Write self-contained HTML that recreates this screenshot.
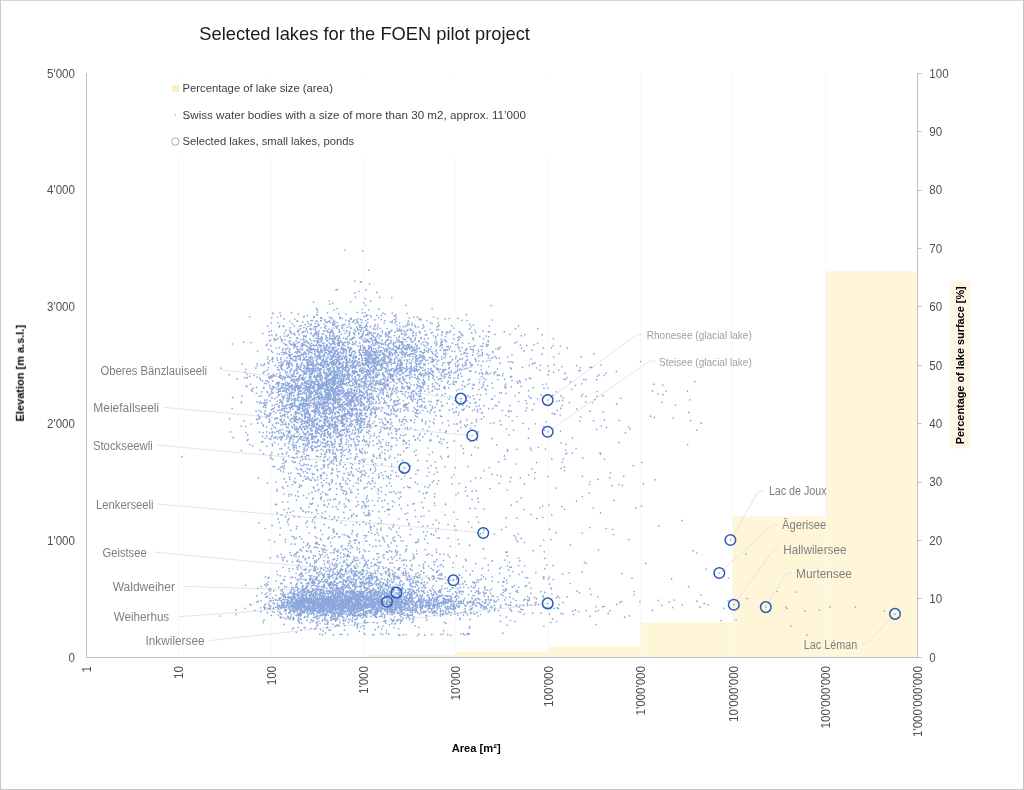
<!DOCTYPE html><html><head><meta charset="utf-8"><title>Selected lakes for the FOEN pilot project</title>
<style>html,body{margin:0;padding:0;background:#fff}body{width:1024px;height:790px;overflow:hidden}svg{display:block}text{font-family:"Liberation Sans",sans-serif}</style></head><body>
<svg width="1024" height="790" viewBox="0 0 1024 790">
<rect x="0" y="0" width="1024" height="790" fill="#fff"/>
<g opacity="0.9999">
<rect x="363.48" y="655.06" width="92.36" height="2.34" fill="#FFF5D9"/>
<rect x="455.84" y="651.56" width="92.36" height="5.84" fill="#FFF5D9"/>
<rect x="548.20" y="646.59" width="92.36" height="10.81" fill="#FFF5D9"/>
<rect x="640.56" y="622.35" width="92.36" height="35.05" fill="#FFF5D9"/>
<rect x="732.92" y="516.32" width="92.36" height="141.08" fill="#FFF5D9"/>
<rect x="825.28" y="271.24" width="92.36" height="386.16" fill="#FFF5D9"/>
<line x1="178.5" y1="73.2" x2="178.5" y2="657.4" stroke="#F8F8F8" stroke-width="1"/>
<line x1="271.5" y1="73.2" x2="271.5" y2="657.4" stroke="#F8F8F8" stroke-width="1"/>
<line x1="363.5" y1="73.2" x2="363.5" y2="657.4" stroke="#F8F8F8" stroke-width="1"/>
<line x1="455.5" y1="73.2" x2="455.5" y2="657.4" stroke="#F8F8F8" stroke-width="1"/>
<line x1="548.5" y1="73.2" x2="548.5" y2="657.4" stroke="#F8F8F8" stroke-width="1"/>
<line x1="640.5" y1="73.2" x2="640.5" y2="657.4" stroke="#F8F8F8" stroke-width="1"/>
<line x1="732.5" y1="73.2" x2="732.5" y2="657.4" stroke="#F8F8F8" stroke-width="1"/>
<line x1="825.5" y1="73.2" x2="825.5" y2="657.4" stroke="#F8F8F8" stroke-width="1"/>
<rect x="165" y="78.3" width="435" height="76.7" fill="#fff"/>
<polyline points="221.7,369.8 460.8,398.6" fill="none" stroke="#E4E4E4" stroke-width="1"/>
<polyline points="162.9,407.3 472.3,435.5" fill="none" stroke="#E4E4E4" stroke-width="1"/>
<polyline points="157.0,445.0 404.4,467.9" fill="none" stroke="#E4E4E4" stroke-width="1"/>
<polyline points="157.5,504.0 483.3,533.0" fill="none" stroke="#E4E4E4" stroke-width="1"/>
<polyline points="154.5,552.2 453.4,580.3" fill="none" stroke="#E4E4E4" stroke-width="1"/>
<polyline points="182.7,586.4 396.4,592.6" fill="none" stroke="#E4E4E4" stroke-width="1"/>
<polyline points="178.8,616.7 387.0,601.8" fill="none" stroke="#E4E4E4" stroke-width="1"/>
<polyline points="208.5,640.7 547.7,603.4" fill="none" stroke="#E4E4E4" stroke-width="1"/>
<polyline points="642.2,334.6 636.6,334.6 547.7,400.1" fill="none" stroke="#E4E4E4" stroke-width="1"/>
<polyline points="654.6,361.1 649.4,361.1 547.7,431.8" fill="none" stroke="#E4E4E4" stroke-width="1"/>
<polyline points="764.0,491.0 758.6,491.0 730.4,540.0" fill="none" stroke="#E4E4E4" stroke-width="1"/>
<polyline points="777.8,524.6 773.0,524.6 719.3,573.0" fill="none" stroke="#E4E4E4" stroke-width="1"/>
<polyline points="779.0,548.9 774.2,548.9 733.8,604.7" fill="none" stroke="#E4E4E4" stroke-width="1"/>
<polyline points="791.8,573.4 786.2,573.4 765.8,607.1" fill="none" stroke="#E4E4E4" stroke-width="1"/>
<polyline points="862.0,643.4 867.3,643.4 895.0,613.9" fill="none" stroke="#E4E4E4" stroke-width="1"/>
<path d="M323.2 427.9h0M368.2 340.9h0M363.6 397.7h0M304.6 399.4h0M311.9 450.3h0M304.1 391.1h0M341.4 352.9h0M320.1 388.0h0M347.4 373.3h0M375.3 417.2h0M318.7 404.3h0M345.1 397.8h0M317.4 424.4h0M309.1 371.0h0M337.7 353.9h0M315.1 438.0h0M316.8 410.8h0M345.3 416.2h0M292.4 392.2h0M270.5 457.0h0M335.4 351.2h0M299.2 438.6h0M294.3 372.4h0M306.1 341.7h0M281.4 394.0h0M323.2 407.6h0M352.5 366.9h0M314.1 334.6h0M296.7 413.0h0M335.1 441.7h0M346.4 419.7h0M311.8 388.0h0M340.5 406.4h0M357.5 322.2h0M315.0 376.8h0M294.3 436.6h0M333.8 408.5h0M330.4 355.9h0M359.4 424.3h0M278.3 384.8h0M299.5 419.3h0M293.5 333.8h0M326.3 403.1h0M339.9 402.2h0M296.9 412.2h0M369.1 389.6h0M349.9 382.1h0M343.3 408.9h0M335.7 424.6h0M354.5 329.5h0M342.9 381.9h0M342.5 396.4h0M333.8 337.0h0M313.5 411.4h0M348.6 320.9h0M307.1 360.0h0M321.4 369.3h0M333.7 379.3h0M292.2 365.7h0M342.4 369.6h0M318.4 376.5h0M338.7 379.3h0M304.3 316.5h0M358.9 334.2h0M342.6 372.7h0M315.9 411.2h0M343.5 430.1h0M364.8 503.9h0M382.9 394.4h0M352.0 397.2h0M337.8 417.3h0M318.8 395.7h0M287.8 347.9h0M364.7 386.1h0M279.1 388.5h0M341.3 334.1h0M366.3 342.1h0M277.5 396.9h0M330.3 379.8h0M373.5 445.4h0M390.8 414.5h0M302.5 440.3h0M345.9 367.9h0M375.7 469.4h0M336.3 456.1h0M296.6 387.1h0M332.1 421.0h0M321.4 397.6h0M315.1 354.4h0M297.0 432.6h0M335.2 407.2h0M332.5 424.2h0M318.8 432.9h0M314.5 446.6h0M278.3 431.6h0M305.5 387.0h0M363.0 394.0h0M315.5 407.0h0M367.4 381.3h0M340.0 464.6h0M393.7 410.1h0M324.1 466.0h0M306.3 360.2h0M272.8 389.1h0M367.0 373.5h0M409.4 375.3h0M294.1 379.3h0M300.0 385.9h0M342.3 373.6h0M293.8 462.3h0M312.8 417.6h0M310.1 361.3h0M328.5 369.2h0M359.2 420.4h0M322.8 412.5h0M353.2 366.7h0M307.7 427.5h0M333.1 334.2h0M272.7 459.3h0M301.9 382.9h0M341.7 430.1h0M340.4 385.2h0M367.0 360.0h0M349.6 355.7h0M318.2 338.4h0M298.3 393.6h0M297.1 368.4h0M305.4 390.4h0M283.6 385.0h0M303.4 402.2h0M318.9 325.2h0M330.6 378.7h0M310.5 377.5h0M319.5 355.8h0M329.7 304.1h0M358.9 415.9h0M341.6 423.2h0M300.1 484.8h0M297.4 419.8h0M390.4 456.0h0M347.7 414.5h0M384.3 375.9h0M394.4 410.6h0M294.2 344.7h0M335.1 400.6h0M337.6 386.6h0M341.0 349.2h0M340.4 439.4h0M328.9 435.3h0M327.9 409.3h0M316.4 456.2h0M296.6 385.7h0M326.3 337.5h0M306.1 353.3h0M343.0 418.7h0M349.8 400.2h0M332.5 332.2h0M332.7 443.4h0M325.2 399.6h0M306.8 455.1h0M316.4 435.9h0M305.1 374.0h0M335.2 395.0h0M322.5 362.1h0M341.8 358.0h0M352.2 411.2h0M296.1 445.6h0M297.0 356.0h0M315.3 419.2h0M302.8 393.0h0M331.9 382.8h0M302.5 436.3h0M285.6 377.5h0M293.2 446.3h0M366.6 378.5h0M323.5 355.2h0M282.3 422.3h0M322.3 334.0h0M382.8 384.6h0M338.3 381.3h0M332.2 412.4h0M355.9 413.5h0M337.9 352.0h0M330.9 402.7h0M354.3 400.4h0M327.5 432.6h0M333.4 363.1h0M317.7 450.2h0M343.5 380.2h0M290.0 449.7h0M348.9 429.1h0M304.8 352.1h0M284.9 380.0h0M334.4 403.7h0M379.6 432.8h0M354.7 337.3h0M304.5 372.5h0M345.7 417.1h0M306.6 411.4h0M317.8 350.6h0M325.0 356.6h0M328.5 351.6h0M287.0 401.6h0M298.3 428.8h0M289.9 439.1h0M350.1 438.2h0M378.6 448.8h0M321.1 426.6h0M359.1 325.3h0M313.0 448.7h0M327.1 429.8h0M337.2 386.1h0M307.4 382.7h0M332.3 383.0h0M341.5 455.9h0M292.6 403.3h0M314.5 341.4h0M314.8 411.1h0M310.0 392.8h0M355.6 398.6h0M380.7 431.7h0M307.8 421.2h0M345.8 392.6h0M354.0 401.0h0M346.2 396.0h0M357.6 421.0h0M308.8 420.0h0M347.2 398.0h0M390.8 358.3h0M349.3 426.1h0M300.9 428.3h0M342.7 349.7h0M364.9 407.8h0M334.5 376.9h0M374.5 390.5h0M279.5 430.1h0M339.1 363.1h0M321.5 364.1h0M281.4 432.8h0M363.5 348.2h0M333.8 354.5h0M282.3 379.4h0M342.5 416.9h0M307.3 417.1h0M298.6 379.7h0M331.0 395.5h0M343.6 376.4h0M327.6 357.5h0M323.5 348.3h0M338.0 420.3h0M314.8 383.2h0M362.0 506.1h0M327.1 416.8h0M332.0 361.9h0M340.4 392.0h0M286.1 405.5h0M297.9 407.8h0M374.0 409.7h0M333.4 410.0h0M312.4 386.4h0M333.6 417.8h0M305.6 479.1h0M331.5 374.3h0M299.4 376.7h0M331.4 420.1h0M367.3 424.5h0M304.6 440.4h0M314.4 382.7h0M309.4 418.0h0M327.2 418.7h0M283.1 458.5h0M335.5 454.0h0M445.2 319.1h0M278.5 422.9h0M333.5 365.2h0M328.5 407.4h0M282.9 377.9h0M337.6 340.5h0M320.7 351.2h0M377.6 383.1h0M298.0 332.0h0M327.9 387.2h0M421.0 396.1h0M296.0 385.4h0M291.3 403.4h0M320.8 388.7h0M320.5 345.1h0M350.7 350.2h0M326.4 396.7h0M296.3 429.8h0M329.2 397.3h0M411.7 371.3h0M365.2 397.9h0M317.2 351.6h0M292.2 376.2h0M343.2 388.7h0M316.1 378.2h0M387.7 380.4h0M353.7 343.8h0M352.3 368.2h0M328.3 401.0h0M320.6 317.6h0M333.6 343.1h0M366.0 377.1h0M340.2 450.1h0M310.1 418.0h0M365.4 453.4h0M328.5 444.5h0M319.4 373.1h0M295.1 388.2h0M302.8 344.2h0M300.4 437.8h0M356.6 414.6h0M341.3 417.4h0M314.7 409.4h0M357.6 399.3h0M336.9 402.0h0M334.6 439.3h0M314.1 349.4h0M340.1 391.2h0M376.7 437.3h0M384.6 400.6h0M370.5 382.9h0M282.5 424.3h0M322.9 351.0h0M317.7 382.3h0M329.5 373.3h0M337.2 475.3h0M306.9 367.4h0M333.9 391.5h0M337.6 376.0h0M332.8 360.8h0M321.5 362.5h0M347.8 402.1h0M339.1 357.8h0M303.4 339.8h0M302.0 414.7h0M381.3 388.6h0M318.5 355.6h0M355.7 361.0h0M335.4 379.3h0M302.8 423.9h0M296.5 447.9h0M326.1 339.2h0M330.7 437.7h0M342.9 393.4h0M278.9 405.7h0M301.8 430.0h0M318.8 352.9h0M376.4 425.5h0M336.9 372.7h0M303.6 357.4h0M336.7 458.5h0M305.3 456.7h0M334.4 421.5h0M375.2 411.9h0M334.0 370.2h0M336.7 460.7h0M334.7 447.1h0M296.5 427.3h0M340.5 387.0h0M314.9 377.6h0M294.4 388.2h0M320.7 444.5h0M314.3 354.0h0M347.6 396.3h0M320.5 456.7h0M304.0 426.9h0M371.5 461.1h0M355.6 408.4h0M365.2 409.0h0M342.7 447.0h0M318.3 418.0h0M307.8 405.8h0M312.5 371.9h0M354.2 333.3h0M325.8 451.5h0M271.6 375.8h0M320.7 362.8h0M273.9 426.9h0M327.6 357.3h0M281.1 338.9h0M279.0 370.0h0M326.0 390.2h0M319.3 403.5h0M347.4 431.2h0M395.5 388.1h0M383.9 388.4h0M298.6 367.5h0M305.2 408.8h0M315.9 406.9h0M272.9 466.3h0M366.2 416.6h0M338.8 365.3h0M296.5 416.6h0M312.6 383.0h0M310.2 325.5h0M353.8 366.8h0M307.2 397.7h0M327.0 387.9h0M357.6 330.1h0M367.9 319.3h0M306.5 400.2h0M296.8 451.0h0M337.3 450.5h0M309.6 377.2h0M311.5 411.2h0M358.7 358.8h0M379.5 335.9h0M331.0 441.5h0M315.5 419.8h0M341.4 379.9h0M321.4 429.4h0M285.9 405.8h0M403.2 379.9h0M346.5 404.3h0M326.8 392.8h0M315.4 377.1h0M346.2 429.7h0M377.4 374.6h0M297.2 346.7h0M345.2 464.5h0M346.6 442.4h0M269.4 413.9h0M353.8 390.7h0M368.1 401.0h0M329.8 336.1h0M319.9 392.5h0M348.8 404.0h0M269.6 385.3h0M325.2 410.3h0M357.8 362.9h0M279.8 400.2h0M355.7 331.3h0M307.8 391.9h0M318.4 340.6h0M289.0 377.2h0M332.9 393.6h0M282.1 369.3h0M357.7 429.2h0M296.9 365.2h0M334.1 429.4h0M301.8 421.2h0M311.0 368.8h0M362.5 448.9h0M329.3 339.0h0M308.6 413.4h0M279.4 395.1h0M361.4 422.4h0M346.9 330.9h0M310.9 345.6h0M330.3 359.6h0M287.0 392.9h0M287.5 395.4h0M293.9 392.7h0M334.0 381.7h0M332.1 364.2h0M296.7 338.1h0M347.1 374.9h0M348.7 412.5h0M327.9 431.5h0M357.3 371.8h0M312.2 433.7h0M318.2 338.5h0M338.1 422.0h0M320.8 349.0h0M349.0 401.1h0M279.4 354.0h0M370.5 353.5h0M295.4 370.1h0M316.4 447.1h0M275.2 365.4h0M342.4 415.8h0M365.3 397.5h0M358.4 403.3h0M350.3 403.7h0M269.1 416.1h0M295.4 344.4h0M306.3 393.2h0M290.2 405.1h0M360.2 368.7h0M328.3 405.4h0M321.2 351.6h0M338.6 419.9h0M289.6 364.1h0M291.1 380.6h0M292.0 422.5h0M338.9 433.8h0M333.6 369.3h0M341.7 366.6h0M358.7 430.2h0M302.9 443.9h0M327.0 442.0h0M303.9 438.1h0M356.5 405.7h0M359.5 409.4h0M323.5 372.2h0M314.8 383.9h0M358.7 375.4h0M309.3 376.2h0M333.5 380.2h0M309.5 383.6h0M301.2 364.2h0M321.7 387.9h0M342.3 371.9h0M338.4 391.2h0M327.3 402.4h0M340.9 460.8h0M267.6 359.1h0M292.8 457.4h0M327.5 381.8h0M290.4 356.3h0M276.4 334.5h0M280.9 425.0h0M290.8 331.9h0M315.9 426.9h0M287.2 404.7h0M330.0 368.9h0M379.7 365.1h0M317.0 410.2h0M365.3 397.2h0M331.8 420.2h0M283.9 391.1h0M313.3 371.0h0M288.6 412.2h0M348.1 344.2h0M282.8 424.2h0M367.0 393.2h0M341.7 347.3h0M348.7 378.3h0M374.8 319.8h0M295.1 445.6h0M355.5 429.0h0M330.6 386.6h0M338.4 406.8h0M335.5 326.6h0M399.8 437.9h0M301.7 403.5h0M350.2 339.5h0M325.8 418.9h0M311.0 376.7h0M342.9 364.7h0M377.8 370.5h0M280.0 372.7h0M341.2 456.9h0M333.7 353.7h0M273.6 375.1h0M376.9 443.6h0M388.3 450.4h0M289.6 352.3h0M381.1 472.6h0M323.9 434.6h0M316.4 332.4h0M373.1 462.4h0M329.7 332.6h0M333.0 418.0h0M373.6 345.5h0M365.8 320.6h0M352.4 424.7h0M274.4 407.8h0M360.3 398.6h0M290.5 387.0h0M327.0 380.8h0M285.5 348.7h0M315.8 414.2h0M278.5 391.9h0M377.4 381.4h0M287.4 368.5h0M317.9 379.9h0M315.6 330.9h0M363.0 378.8h0M320.9 442.0h0M314.9 353.3h0M340.0 373.2h0M338.0 391.7h0M306.2 422.6h0M330.1 409.3h0M309.3 391.7h0M337.9 476.7h0M318.5 390.4h0M299.7 403.9h0M321.1 499.5h0M334.4 355.7h0M399.0 429.3h0M305.3 408.7h0M332.4 338.8h0M371.7 366.3h0M251.3 424.1h0M262.7 333.5h0M281.6 383.7h0M318.1 428.1h0M405.0 381.6h0M335.3 401.6h0M363.1 364.5h0M314.5 366.3h0M356.6 416.1h0M328.3 394.1h0M277.9 469.3h0M360.0 412.9h0M360.6 480.2h0M371.3 386.7h0M296.0 359.0h0M284.3 397.1h0M350.7 347.7h0M284.8 411.5h0M351.3 445.2h0M281.4 416.3h0M349.5 374.8h0M325.2 385.3h0M307.3 410.2h0M291.5 437.9h0M330.1 375.1h0M312.6 434.2h0M308.5 399.7h0M345.1 404.7h0M279.4 410.2h0M380.3 360.4h0M311.4 385.2h0M283.3 433.3h0M369.1 384.9h0M378.5 383.2h0M315.6 403.0h0M291.7 406.6h0M322.5 492.1h0M298.5 359.0h0M311.4 396.7h0M375.0 471.3h0M335.3 392.6h0M326.9 406.3h0M333.8 333.5h0M320.0 429.9h0M350.6 425.8h0M351.9 423.8h0M309.4 384.1h0M325.6 406.0h0M404.1 388.6h0M336.3 425.0h0M315.7 390.7h0M391.7 422.5h0M322.3 338.2h0M284.7 378.2h0M291.4 385.4h0M305.1 421.9h0M333.1 381.0h0M317.7 484.6h0M296.0 351.9h0M303.3 377.9h0M301.8 354.6h0M361.7 371.3h0M297.5 372.6h0M302.5 332.7h0M391.3 352.4h0M303.2 471.9h0M372.6 380.9h0M366.7 427.5h0M316.8 340.8h0M273.7 386.6h0M337.4 412.6h0M344.9 384.4h0M354.9 370.8h0M324.4 383.7h0M363.0 392.3h0M369.3 424.3h0M286.2 439.1h0M370.6 338.8h0M302.8 383.5h0M311.2 391.3h0M385.8 419.6h0M355.5 433.5h0M324.8 473.1h0M317.2 401.4h0M316.0 320.9h0M304.6 429.3h0M351.3 402.5h0M290.1 327.8h0M309.4 379.0h0M301.5 397.4h0M297.3 385.0h0M347.3 418.4h0M335.0 441.1h0M299.1 451.7h0M289.9 440.9h0M306.0 385.3h0M354.9 459.5h0M326.3 401.5h0M329.9 425.1h0M310.8 381.5h0M313.2 335.7h0M329.4 301.0h0M376.8 364.2h0M295.2 390.9h0M302.7 426.7h0M367.5 330.4h0M329.6 321.1h0M323.4 401.5h0M302.2 405.7h0M328.3 370.3h0M362.6 327.8h0M291.4 387.7h0M368.3 361.6h0M283.7 408.3h0M297.0 428.8h0M339.2 369.0h0M322.0 407.7h0M345.5 398.5h0M296.8 419.0h0M286.9 452.1h0M281.1 419.4h0M285.4 422.7h0M273.5 374.2h0M332.5 390.9h0M299.4 404.9h0M406.4 442.6h0M293.6 481.5h0M279.3 347.7h0M364.2 389.5h0M361.6 322.5h0M282.9 369.8h0M288.0 437.5h0M360.4 421.2h0M311.4 348.4h0M294.5 404.5h0M321.0 420.5h0M362.9 460.3h0M309.0 396.2h0M275.0 387.5h0M395.9 416.0h0M383.8 403.2h0M354.3 372.1h0M317.5 342.6h0M344.4 433.1h0M331.4 380.4h0M276.6 422.9h0M277.0 388.9h0M298.0 436.2h0M310.1 346.5h0M341.5 421.4h0M345.8 338.3h0M330.9 331.4h0M289.9 349.7h0M345.0 395.8h0M317.9 364.3h0M362.1 336.2h0M290.8 438.9h0M305.8 386.6h0M395.1 401.2h0M337.9 372.2h0M315.4 405.5h0M352.0 415.7h0M339.1 387.1h0M337.7 432.5h0M304.5 367.6h0M324.6 349.0h0M328.8 399.2h0M300.1 352.6h0M284.0 406.1h0M326.7 387.1h0M354.9 372.5h0M344.0 414.1h0M338.8 412.4h0M409.9 378.4h0M330.8 396.6h0M357.4 410.5h0M388.5 369.4h0M323.8 345.4h0M331.0 396.0h0M357.5 418.2h0M332.6 331.2h0M334.3 367.7h0M281.0 367.2h0M360.0 423.8h0M313.4 348.7h0M317.1 355.7h0M287.8 416.9h0M322.7 442.9h0M290.8 394.0h0M358.6 432.9h0M331.2 372.1h0M341.2 449.7h0M371.9 367.1h0M353.6 397.7h0M330.2 488.5h0M325.0 425.6h0M320.3 358.2h0M361.0 402.7h0M300.0 368.9h0M340.0 385.2h0M319.1 330.9h0M330.5 399.7h0M313.4 329.1h0M394.9 405.7h0M300.0 405.8h0M331.0 424.7h0M331.8 479.8h0M343.1 324.9h0M337.7 343.3h0M336.8 351.1h0M355.8 368.3h0M322.7 377.5h0M280.5 367.6h0M330.3 345.9h0M282.2 365.8h0M289.8 373.4h0M320.4 386.7h0M369.9 333.7h0M342.1 387.8h0M332.5 413.5h0M370.1 404.8h0M290.3 341.1h0M308.0 423.0h0M313.0 402.8h0M364.4 341.9h0M395.2 332.1h0M277.2 392.5h0M406.7 349.8h0M375.7 337.5h0M351.0 426.5h0M335.0 427.3h0M405.0 416.5h0M325.2 443.2h0M306.4 426.9h0M327.2 344.7h0M275.9 436.7h0M338.5 395.7h0M318.7 408.6h0M333.7 453.5h0M334.7 408.6h0M286.5 453.8h0M367.2 393.2h0M288.0 375.7h0M352.7 362.7h0M335.1 323.7h0M294.6 388.4h0M323.9 386.1h0M300.4 369.6h0M324.8 419.1h0M343.7 352.6h0M272.6 445.8h0M292.9 405.3h0M315.3 333.2h0M301.0 365.4h0M295.0 382.1h0M351.4 414.2h0M355.4 458.2h0M347.7 429.5h0M290.6 332.9h0M325.1 391.2h0M315.9 384.3h0M352.5 414.5h0M325.5 454.1h0M306.0 372.7h0M370.7 435.7h0M348.5 446.8h0M351.6 348.5h0M363.3 462.0h0M346.9 458.5h0M279.5 402.8h0M309.3 459.4h0M356.6 401.1h0M296.4 437.1h0M323.8 417.1h0M336.0 356.5h0M371.5 401.5h0M366.7 384.3h0M353.0 371.3h0M316.1 344.9h0M353.6 359.8h0M340.4 341.7h0M317.0 436.5h0M339.3 394.1h0M296.7 366.5h0M365.5 341.0h0M313.8 420.1h0M342.6 359.1h0M270.6 439.3h0M321.8 383.9h0M290.2 404.4h0M289.3 385.8h0M395.3 428.6h0M317.3 373.0h0M330.5 390.7h0M360.0 461.4h0M318.2 368.0h0M339.8 463.4h0M329.0 368.7h0M308.3 323.5h0M339.3 357.1h0M328.5 321.3h0M259.3 418.7h0M287.8 388.6h0M347.4 366.9h0M336.7 349.9h0M336.0 363.5h0M301.0 468.9h0M310.9 400.6h0M301.7 354.3h0M334.3 417.9h0M316.4 451.0h0M281.9 365.5h0M292.3 386.7h0M327.0 340.7h0M324.6 327.2h0M319.6 446.2h0M399.2 528.0h0M313.2 361.4h0M326.2 326.0h0M288.2 447.8h0M309.9 433.3h0M339.9 410.0h0M341.4 449.9h0M316.7 377.4h0M335.5 402.1h0M323.9 422.6h0M400.6 381.5h0M350.3 409.2h0M320.1 397.4h0M278.6 394.6h0M368.1 333.7h0M311.0 324.3h0M351.5 423.5h0M326.9 377.8h0M347.7 375.4h0M317.5 440.8h0M403.4 419.3h0M287.0 382.3h0M331.3 417.3h0M370.6 380.3h0M320.1 376.3h0M357.7 420.2h0M304.0 365.6h0M281.7 387.6h0M369.6 426.4h0M375.3 413.7h0M374.1 366.3h0M307.1 449.0h0M282.7 436.8h0M282.2 466.5h0M314.4 388.7h0M341.8 399.5h0M339.3 433.0h0M273.2 408.6h0M328.6 396.5h0M322.6 386.9h0M325.1 378.9h0M321.2 364.9h0M315.1 365.2h0M342.2 407.3h0M326.3 378.8h0M329.7 334.6h0M298.5 393.2h0M335.5 457.3h0M317.9 445.4h0M338.4 357.2h0M313.0 422.1h0M353.5 394.3h0M316.5 393.9h0M318.7 385.9h0M329.2 393.5h0M321.6 350.5h0M306.8 438.4h0M384.7 385.5h0M310.4 434.5h0M344.2 390.9h0M334.9 390.9h0M341.3 367.4h0M348.2 371.3h0M365.0 381.8h0M332.1 444.6h0M420.8 374.0h0M287.5 413.9h0M329.7 408.5h0M309.7 407.5h0M303.5 380.2h0M331.8 420.7h0M371.6 397.9h0M297.9 395.4h0M297.8 372.7h0M340.5 420.7h0M388.6 421.8h0M356.9 371.7h0M329.8 384.7h0M310.8 403.2h0M329.3 353.1h0M316.0 420.0h0M322.3 425.8h0M316.0 428.6h0M314.1 316.4h0M307.4 412.8h0M379.5 374.5h0M345.7 436.2h0M353.9 434.1h0M301.3 424.5h0M287.2 388.8h0M312.4 503.4h0M330.3 390.0h0M310.3 350.7h0M315.6 430.8h0M354.7 334.7h0M332.2 468.7h0M288.5 432.7h0M307.4 445.1h0M299.6 434.0h0M328.2 408.5h0M282.3 340.2h0M315.9 368.8h0M345.5 415.0h0M323.0 384.6h0M290.9 407.4h0M301.0 365.6h0M326.2 361.5h0M338.4 404.5h0M350.5 422.1h0M317.1 392.9h0M277.2 354.0h0M370.4 326.7h0M332.1 472.9h0M335.8 347.4h0M332.4 358.0h0M286.7 363.7h0M311.1 428.0h0M330.7 362.4h0M357.1 414.1h0M324.0 404.1h0M313.8 398.5h0M334.0 343.7h0M366.0 385.8h0M346.2 421.4h0M406.7 382.7h0M370.4 355.9h0M367.8 375.4h0M354.1 384.5h0M275.0 405.1h0M342.4 318.5h0M304.1 411.0h0M341.9 386.8h0M336.2 391.8h0M306.2 399.7h0M317.8 384.8h0M313.0 373.2h0M329.8 395.4h0M307.6 417.4h0M340.5 404.4h0M312.4 349.6h0M264.7 400.2h0M305.6 345.0h0M339.6 364.2h0M322.7 396.7h0M318.2 395.4h0M324.3 434.0h0M375.4 425.7h0M284.4 410.1h0M352.2 378.0h0M306.1 381.2h0M327.6 459.4h0M293.0 409.0h0M329.0 365.1h0M346.8 357.4h0M281.4 439.9h0M319.4 356.5h0M309.2 405.4h0M315.6 433.0h0M294.9 356.3h0M367.5 409.2h0M292.2 399.0h0M379.8 422.5h0M303.9 444.7h0M387.9 395.1h0M340.3 382.2h0M337.4 425.7h0M349.4 335.4h0M352.7 398.5h0M369.7 352.3h0M380.9 343.4h0M310.2 328.7h0M279.5 325.8h0M308.8 425.7h0M347.8 395.3h0M334.9 432.1h0M325.9 392.5h0M310.1 371.7h0M300.2 348.6h0M312.4 421.7h0M335.2 423.5h0M346.8 359.8h0M316.6 338.1h0M300.4 436.7h0M309.4 419.5h0M286.4 411.8h0M282.7 390.9h0M314.1 385.7h0M285.0 377.2h0M405.5 434.7h0M307.7 366.7h0M299.5 426.8h0M303.1 403.0h0M285.4 352.0h0M313.1 360.8h0M332.3 390.2h0M321.9 416.5h0M280.6 436.7h0M320.5 413.2h0M334.0 324.9h0M336.5 426.1h0M297.8 450.7h0M351.7 376.0h0M306.5 412.4h0M333.6 381.1h0M345.7 366.5h0M311.4 431.1h0M278.0 370.0h0M342.6 425.4h0M283.7 459.9h0M291.4 387.0h0M284.2 465.9h0M350.4 339.8h0M316.2 428.2h0M346.7 493.5h0M392.1 393.5h0M382.9 360.3h0M302.4 456.3h0M324.3 331.1h0M339.0 409.4h0M352.1 361.5h0M322.9 446.6h0M284.5 387.7h0M347.3 425.9h0M342.6 390.3h0M276.4 348.0h0M330.8 462.8h0M321.5 401.0h0M339.5 345.9h0M348.7 379.3h0M340.0 431.0h0M317.7 332.4h0M275.7 482.0h0M342.5 381.8h0M369.2 377.0h0M388.8 442.8h0M320.5 400.0h0M320.4 351.7h0M370.8 428.1h0M370.5 409.5h0M333.2 436.4h0M345.8 354.8h0M295.7 346.6h0M341.4 416.4h0M293.5 374.1h0M317.4 368.0h0M305.6 416.4h0M293.4 442.3h0M332.9 371.2h0M319.5 387.4h0M308.1 326.5h0M336.1 359.3h0M344.9 383.7h0M350.3 414.2h0M294.1 398.6h0M322.2 433.4h0M291.6 392.0h0M318.1 349.3h0M291.8 389.3h0M394.7 361.3h0M318.1 408.1h0M313.8 377.2h0M307.9 411.2h0M385.2 354.7h0M289.4 441.7h0M316.0 406.9h0M295.3 462.2h0M317.2 385.6h0M320.2 371.0h0M358.8 396.4h0M320.7 349.4h0M376.4 391.6h0M304.1 388.4h0M315.4 365.0h0M291.3 375.6h0M317.9 396.8h0M361.4 337.2h0M305.5 458.9h0M330.5 428.8h0M324.1 342.9h0M355.4 404.8h0M352.4 385.7h0M312.2 430.4h0M335.0 425.9h0M359.3 437.0h0M327.7 331.2h0M358.3 444.7h0M357.6 388.9h0M311.7 343.1h0M316.3 419.3h0M291.7 392.6h0M316.9 361.4h0M326.6 410.2h0M284.5 336.0h0M345.6 356.4h0M324.8 465.3h0M336.8 360.2h0M295.3 405.9h0M347.9 429.6h0M342.2 426.3h0M307.1 371.6h0M312.0 438.6h0M316.8 359.3h0M304.1 464.2h0M348.1 342.0h0M270.6 413.8h0M310.1 469.2h0M311.0 364.1h0M330.3 413.5h0M362.5 367.6h0M343.8 395.7h0M347.7 411.8h0M364.6 405.3h0M294.4 399.6h0M332.9 347.6h0M366.2 316.3h0M361.2 413.7h0M303.5 398.7h0M318.6 333.4h0M331.4 460.6h0M299.1 334.4h0M300.1 408.2h0M375.6 417.0h0M299.7 486.1h0M375.2 329.4h0M322.3 339.9h0M397.3 373.6h0M288.9 388.2h0M343.0 362.6h0M380.0 328.4h0M303.8 373.2h0M280.2 419.8h0M357.4 423.1h0M324.2 364.7h0M280.3 412.9h0M285.2 407.9h0M308.8 371.4h0M354.8 377.1h0M312.2 393.1h0M344.3 504.1h0M378.2 397.9h0M365.2 355.4h0M370.9 384.8h0M363.9 368.8h0M333.2 347.1h0M317.8 424.8h0M285.1 408.2h0M284.2 420.4h0M321.3 337.7h0M282.0 406.1h0M294.2 345.3h0M301.0 339.5h0M344.7 411.5h0M312.0 359.1h0M317.0 376.9h0M367.1 416.7h0M311.1 349.2h0M342.4 416.1h0M286.1 482.2h0M333.2 383.4h0M326.1 430.3h0M328.0 422.7h0M306.1 340.3h0M287.0 336.2h0M311.8 391.7h0M357.1 393.3h0M352.9 402.0h0M281.1 410.5h0M343.3 409.8h0M305.7 445.6h0M337.6 378.2h0M305.6 446.3h0M356.6 413.1h0M337.4 385.5h0M280.3 430.5h0M303.8 421.2h0M281.8 437.1h0M309.6 364.8h0M343.1 353.3h0M371.9 361.2h0M309.9 390.2h0M368.8 406.6h0M361.6 427.4h0M307.2 468.7h0M351.0 403.0h0M342.8 376.2h0M402.1 343.1h0M370.7 425.3h0M348.7 412.9h0M379.5 380.6h0M286.5 385.3h0M328.7 387.2h0M381.4 389.7h0M341.4 405.1h0M368.8 348.9h0M291.4 393.8h0M348.7 411.4h0M306.0 464.8h0M330.6 434.8h0M344.0 416.0h0M329.0 389.8h0M290.0 337.7h0M370.0 372.9h0M336.0 336.6h0M321.9 387.8h0M346.5 435.1h0M304.3 434.4h0M386.7 428.6h0M330.2 392.8h0M335.0 432.1h0M334.4 380.9h0M291.6 312.6h0M282.7 397.5h0M330.0 393.5h0M334.6 321.4h0M368.4 370.5h0M285.6 372.6h0M340.5 441.0h0M350.8 365.8h0M356.8 445.2h0M334.0 401.2h0M281.1 361.9h0M362.1 320.0h0M297.8 422.3h0M342.2 418.9h0M269.2 331.7h0M348.7 374.8h0M296.0 436.8h0M359.5 361.7h0M382.6 407.9h0M362.4 312.9h0M282.9 354.5h0M290.5 421.3h0M293.0 344.0h0M345.1 333.5h0M334.3 335.5h0M328.0 376.6h0M333.1 328.0h0M342.3 387.3h0M344.7 414.5h0M380.0 454.0h0M320.6 375.7h0M329.5 457.3h0M277.5 382.9h0M298.9 412.9h0M282.1 453.4h0M329.9 452.5h0M357.8 422.5h0M307.6 388.2h0M305.8 425.6h0M304.9 400.7h0M326.7 398.7h0M303.7 402.4h0M336.8 465.4h0M332.5 343.3h0M333.9 388.8h0M348.2 347.7h0M323.2 427.0h0M327.0 437.0h0M381.9 446.8h0M320.5 377.6h0M349.2 394.1h0M323.9 423.1h0M306.5 399.4h0M306.5 403.9h0M294.1 400.1h0M322.4 403.1h0M301.4 387.4h0M307.6 410.0h0M363.4 332.9h0M317.4 375.1h0M360.7 338.3h0M331.0 388.6h0M351.3 362.5h0M301.2 413.9h0M326.9 443.1h0M411.5 341.9h0M350.0 360.6h0M356.0 405.5h0M329.8 450.5h0M351.0 423.5h0M282.3 410.1h0M292.9 389.8h0M336.4 374.3h0M349.7 407.8h0M307.9 412.5h0M315.4 398.7h0M309.5 368.7h0M315.4 327.3h0M280.9 357.8h0M318.9 345.2h0M288.4 334.6h0M299.2 379.8h0M285.8 406.3h0M329.6 425.1h0M306.3 401.9h0M318.7 440.9h0M287.1 368.1h0M296.1 360.8h0M338.8 436.1h0M333.6 356.6h0M305.5 385.8h0M333.6 322.1h0M327.6 437.4h0M326.6 421.1h0M375.4 361.7h0M307.5 321.5h0M335.3 402.3h0M335.4 403.0h0M313.1 439.1h0M281.4 466.9h0M344.5 401.5h0M329.8 383.2h0M322.6 382.4h0M321.7 379.8h0M321.6 336.7h0M290.4 355.7h0M330.7 388.4h0M319.8 338.9h0M308.6 364.7h0M344.9 424.2h0M311.7 436.2h0M304.1 392.3h0M337.9 425.4h0M311.2 384.7h0M306.5 356.6h0M306.9 387.6h0M371.7 394.8h0M342.8 396.9h0M336.6 394.9h0M279.7 376.0h0M341.2 434.8h0M276.2 384.0h0M336.4 375.3h0M282.2 429.5h0M386.5 351.9h0M361.6 451.6h0M347.2 394.8h0M311.8 381.9h0M369.1 371.8h0M358.6 385.9h0M302.2 378.0h0M280.0 374.8h0M285.1 424.7h0M298.1 408.6h0M382.5 384.1h0M324.4 362.4h0M312.2 521.5h0M308.5 384.5h0M342.5 449.0h0M343.3 345.2h0M288.6 362.9h0M369.7 441.9h0M283.0 348.5h0M310.4 349.6h0M335.1 390.3h0M378.0 363.3h0M308.0 380.8h0M329.5 398.8h0M364.1 427.5h0M341.0 400.0h0M358.1 404.4h0M355.1 445.8h0M328.6 449.5h0M341.2 378.4h0M351.0 318.2h0M318.8 352.1h0M374.1 435.7h0M288.5 364.2h0M368.9 374.6h0M334.3 456.6h0M297.9 395.0h0M332.6 377.6h0M356.7 364.6h0M300.8 348.7h0M345.9 506.1h0M315.7 391.2h0M316.0 398.8h0M317.5 380.0h0M357.6 435.7h0M281.8 352.3h0M307.3 315.6h0M342.4 369.6h0M278.4 406.3h0M339.2 389.8h0M319.9 358.2h0M314.8 383.7h0M324.7 361.4h0M286.8 361.2h0M418.9 396.5h0M286.4 404.7h0M305.0 366.3h0M271.5 437.0h0M305.7 389.8h0M371.7 397.5h0M320.5 372.2h0M340.1 407.7h0M303.4 409.4h0M381.5 419.6h0M325.4 360.1h0M277.4 418.4h0M346.0 370.1h0M307.3 397.0h0M340.5 423.0h0M324.6 454.0h0M328.8 375.0h0M324.5 348.5h0M289.1 398.8h0M353.0 379.9h0M315.2 490.9h0M329.5 317.3h0M304.1 453.7h0M367.3 359.8h0M293.1 447.9h0M306.8 440.4h0M301.9 384.2h0M307.1 383.5h0M312.2 445.5h0M317.3 407.3h0M298.3 378.8h0M300.2 359.7h0M319.3 403.9h0M330.7 338.7h0M314.9 416.5h0M379.0 399.6h0M326.7 330.8h0M325.2 411.6h0M297.4 441.8h0M354.6 403.3h0M284.9 339.8h0M286.5 427.0h0M340.7 340.9h0M280.7 378.2h0M363.6 439.3h0M318.8 381.7h0M311.8 425.7h0M380.2 458.1h0M290.4 409.2h0M275.1 339.6h0M337.0 328.2h0M364.0 383.0h0M354.1 320.3h0M308.4 389.7h0M325.9 429.7h0M359.5 385.9h0M392.6 406.1h0M315.9 371.2h0M363.7 408.8h0M307.9 413.2h0M339.6 435.4h0M287.8 502.0h0M293.6 406.0h0M333.7 356.8h0M289.1 351.7h0M349.7 343.1h0M300.8 421.7h0M322.2 406.7h0M316.7 411.8h0M308.2 401.0h0M324.0 457.3h0M356.3 437.1h0M425.1 433.8h0M279.2 365.5h0M329.8 379.9h0M313.6 340.3h0M288.5 366.7h0M329.3 396.5h0M289.7 343.6h0M316.9 367.2h0M361.7 474.4h0M328.0 332.3h0M334.8 342.6h0M287.0 389.4h0M337.4 426.9h0M331.5 389.4h0M307.7 427.9h0M360.8 405.6h0M341.4 434.6h0M311.6 374.7h0M283.6 469.0h0M313.5 369.2h0M307.7 387.2h0M347.4 371.0h0M312.9 411.4h0M304.1 385.4h0M373.0 440.8h0M281.5 410.2h0M355.5 456.9h0M331.2 445.2h0M314.9 441.7h0M332.3 387.4h0M295.5 495.6h0M266.8 415.3h0M364.0 385.4h0M326.6 390.2h0M289.9 386.6h0M349.8 405.0h0M293.9 347.9h0M294.1 395.9h0M277.9 369.3h0M359.2 460.8h0M385.8 424.6h0M286.3 461.0h0M328.9 489.8h0M352.3 413.1h0M390.9 475.1h0M323.8 419.4h0M340.9 355.8h0M332.8 451.7h0M325.6 414.1h0M343.5 378.9h0M299.0 394.4h0M333.0 364.4h0M298.2 367.0h0M339.4 336.2h0M324.2 438.8h0M306.0 438.2h0M374.8 340.1h0M356.5 384.5h0M348.7 475.1h0M296.2 340.6h0M306.8 373.8h0M375.5 375.2h0M344.1 426.3h0M289.8 343.0h0M320.4 404.8h0M323.6 361.0h0M312.0 379.8h0M286.7 345.2h0M361.5 415.4h0M338.9 374.4h0M312.2 370.4h0M265.4 438.3h0M299.1 408.2h0M318.8 489.3h0M348.5 411.2h0M306.4 397.7h0M356.7 399.4h0M323.9 505.1h0M293.8 444.6h0M279.2 407.3h0M268.5 373.6h0M314.1 421.2h0M330.6 374.2h0M366.5 372.0h0M318.9 412.3h0M280.0 449.0h0M399.3 428.9h0M330.0 424.5h0M310.4 396.1h0M273.5 387.6h0M341.1 385.9h0M332.2 415.8h0M373.5 464.9h0M357.0 424.8h0M349.1 324.0h0M362.4 395.1h0M310.0 384.6h0M304.6 423.1h0M318.0 391.6h0M277.4 317.0h0M314.9 357.5h0M308.6 381.0h0M319.4 388.8h0M321.0 436.9h0M368.1 388.9h0M294.2 388.4h0M320.6 394.2h0M275.0 432.6h0M301.4 354.8h0M275.3 504.6h0M330.2 423.9h0M334.1 394.9h0M277.1 491.1h0M321.2 347.0h0M357.0 361.1h0M314.4 375.3h0M335.2 412.8h0M342.3 374.4h0M312.5 424.6h0M353.9 378.8h0M333.6 445.6h0M286.8 411.8h0M338.3 325.8h0M350.0 391.6h0M348.0 346.7h0M298.8 387.2h0M336.3 392.8h0M367.4 483.6h0M328.6 383.2h0M361.1 327.4h0M365.1 397.0h0M319.7 345.4h0M343.4 466.7h0M311.1 421.3h0M357.3 456.3h0M317.9 376.3h0M302.3 350.1h0M320.2 404.3h0M318.6 336.5h0M334.1 353.1h0M336.9 361.5h0M281.5 386.4h0M299.0 330.4h0M337.6 450.4h0M324.2 370.2h0M410.8 384.8h0M359.4 416.5h0M318.8 410.1h0M346.2 365.7h0M367.0 374.2h0M334.0 458.0h0M324.9 422.9h0M323.4 460.3h0M394.2 315.9h0M374.4 381.4h0M316.6 314.5h0M353.6 406.7h0M312.0 419.2h0M328.0 403.5h0M360.5 319.3h0M325.0 384.2h0M358.0 401.7h0M319.4 383.3h0M308.3 404.6h0M314.8 413.5h0M305.1 451.1h0M318.2 402.8h0M368.6 500.7h0M282.5 402.2h0M265.9 405.1h0M321.8 425.3h0M379.7 390.5h0M358.0 380.3h0M367.4 444.1h0M297.7 321.4h0M326.6 478.4h0M301.9 415.8h0M343.3 406.2h0M278.5 382.2h0M330.2 352.0h0M362.5 440.9h0M410.8 419.9h0M371.6 403.7h0M271.4 409.8h0M328.2 347.0h0M359.2 463.6h0M305.5 387.0h0M308.1 418.2h0M324.6 446.0h0M317.4 442.3h0M341.2 421.2h0M359.6 427.9h0M326.2 384.9h0M349.3 449.4h0M391.6 433.0h0M289.2 433.0h0M288.4 341.3h0M341.4 420.5h0M387.1 421.5h0M329.8 426.9h0M313.8 317.7h0M355.5 405.4h0M303.1 355.2h0M347.4 409.6h0M338.0 390.0h0M338.0 428.9h0M371.5 370.7h0M361.0 350.0h0M304.4 414.8h0M355.0 382.1h0M418.6 521.9h0M343.2 378.4h0M342.6 383.2h0M327.5 312.6h0M353.8 351.2h0M310.2 386.4h0M348.5 406.3h0M316.5 424.8h0M311.4 362.2h0M330.1 412.6h0M323.9 440.0h0M396.7 389.9h0M330.9 318.7h0M362.8 336.0h0M325.2 420.2h0M333.2 385.2h0M350.3 458.0h0M295.8 400.4h0M322.9 413.9h0M334.5 401.1h0M360.4 348.7h0M300.5 460.8h0M317.2 389.0h0M339.8 317.0h0M315.5 369.0h0M317.8 347.4h0M334.9 441.3h0M292.4 436.0h0M380.1 455.9h0M294.9 482.9h0M327.5 366.0h0M302.2 354.0h0M344.4 409.7h0M375.7 367.9h0M346.0 427.6h0M310.9 357.6h0M355.5 387.8h0M327.8 465.0h0M343.9 473.5h0M345.3 350.7h0M286.9 357.8h0M275.0 398.4h0M382.4 422.0h0M308.5 411.2h0M269.8 420.9h0M283.6 435.2h0M326.1 444.8h0M365.7 473.1h0M325.5 403.2h0M366.3 376.7h0M333.1 393.4h0M341.4 489.3h0M358.8 431.9h0M312.5 426.9h0M335.3 453.2h0M312.0 448.8h0M303.5 495.6h0M347.4 364.2h0M297.1 406.1h0M327.7 429.0h0M298.1 431.8h0M321.9 381.6h0M306.9 330.0h0M362.0 386.1h0M327.4 368.6h0M327.3 392.8h0M380.6 442.9h0M286.4 349.4h0M323.8 404.8h0M338.9 444.0h0M345.8 393.9h0M333.0 405.6h0M294.1 333.3h0M383.3 375.8h0M334.0 363.0h0M314.7 404.1h0M285.4 384.3h0M337.7 358.8h0M306.7 349.9h0M308.0 403.6h0M330.3 367.5h0M330.6 441.7h0M295.3 400.7h0M365.7 383.1h0M289.0 431.8h0M285.1 344.3h0M333.5 431.8h0M327.3 363.9h0M325.3 423.9h0M308.9 365.3h0M324.3 354.1h0M303.7 316.8h0M347.8 413.2h0M288.3 335.0h0M315.0 466.7h0M347.6 392.3h0M323.5 346.0h0M415.9 474.1h0M275.1 375.9h0M297.2 453.4h0M368.7 482.1h0M314.1 400.5h0M361.4 405.9h0M291.2 344.6h0M315.8 430.9h0M352.5 410.7h0M299.7 405.8h0M307.1 368.8h0M339.0 344.1h0M315.5 407.3h0M332.1 426.3h0M290.2 398.1h0M318.3 384.0h0M285.2 370.7h0M269.3 421.9h0M382.0 452.3h0M337.7 385.9h0M353.4 356.9h0M289.3 494.1h0M321.2 327.8h0M315.2 402.8h0M340.8 446.3h0M297.6 386.4h0M315.3 323.4h0M355.9 396.6h0M348.0 391.1h0M335.5 364.7h0M291.2 368.9h0M303.8 327.6h0M363.7 330.9h0M312.7 366.1h0M331.2 363.7h0M326.9 386.3h0M284.1 343.5h0M374.0 456.7h0M329.8 428.1h0M319.2 415.1h0M333.4 449.7h0M339.8 338.3h0M323.9 407.4h0M294.0 424.3h0M337.4 431.9h0M360.0 414.3h0M329.7 369.7h0M380.8 446.4h0M351.4 388.4h0M348.3 373.3h0M369.4 401.1h0M299.7 375.1h0M304.4 366.0h0M339.7 398.6h0M339.8 501.9h0M373.5 406.9h0M361.1 397.0h0M328.2 375.2h0M329.7 408.2h0M312.9 345.2h0M309.9 413.8h0M307.0 404.9h0M353.1 397.5h0M306.4 413.4h0M310.4 385.7h0M327.9 421.2h0M305.1 415.9h0M314.8 416.8h0M335.4 430.1h0M312.4 386.4h0M329.4 446.8h0M335.5 389.3h0M404.9 404.4h0M328.9 392.7h0M329.8 352.6h0M345.5 408.7h0M338.7 395.9h0M312.8 410.7h0M333.7 399.5h0M369.2 356.4h0M314.5 345.8h0M295.4 419.9h0M371.7 401.5h0M335.6 456.5h0M320.7 476.6h0M405.1 428.0h0M332.4 420.3h0M321.1 417.3h0M336.1 398.4h0M313.4 367.9h0M332.0 425.5h0M304.6 418.3h0M318.1 395.5h0M337.4 399.5h0M339.8 434.0h0M346.5 431.8h0M353.3 402.1h0M335.1 384.0h0M344.1 418.8h0M313.6 427.0h0M317.7 484.8h0M361.7 356.9h0M338.8 358.0h0M433.6 375.5h0M376.9 377.1h0M337.8 370.5h0M380.5 429.5h0M375.7 376.9h0M294.1 325.7h0M280.5 399.9h0M275.7 428.0h0M348.8 393.0h0M311.0 400.4h0M324.4 365.3h0M332.9 355.3h0M337.9 394.0h0M342.1 347.1h0M328.0 375.6h0M373.2 383.9h0M365.6 392.1h0M303.1 440.0h0M316.8 408.4h0M305.7 388.0h0M310.9 356.0h0M322.7 397.4h0M313.9 345.4h0M286.0 424.3h0M352.2 337.8h0M303.6 335.8h0M369.0 357.8h0M318.1 324.1h0M299.3 397.2h0M338.1 361.1h0M353.5 373.8h0M291.9 418.2h0M313.6 302.0h0M371.8 382.6h0M289.3 407.4h0M294.4 434.7h0M328.9 398.2h0M282.0 365.2h0M336.0 483.7h0M345.5 481.1h0M343.4 384.3h0M336.5 449.1h0M281.3 401.4h0M346.3 350.9h0M362.4 421.8h0M299.5 446.5h0M310.8 447.5h0M329.8 358.7h0M335.8 458.9h0M373.1 399.0h0M294.2 450.2h0M319.9 379.1h0M306.6 478.7h0M338.9 353.3h0M338.0 368.0h0M324.1 348.0h0M371.4 414.8h0M333.0 389.7h0M309.8 425.4h0M313.8 425.1h0M313.5 436.7h0M293.8 437.1h0M294.1 388.8h0M343.6 361.8h0M358.9 351.8h0M387.8 422.7h0M362.2 370.1h0M299.3 352.0h0M332.1 357.3h0M277.0 382.7h0M348.2 401.0h0M335.6 381.1h0M302.6 349.2h0M319.8 413.5h0M301.8 377.7h0M368.3 433.4h0M429.0 401.6h0M351.4 439.4h0M359.4 394.8h0M328.9 414.2h0M311.5 392.1h0M398.1 372.6h0M311.0 405.7h0M336.9 429.9h0M343.5 356.5h0M343.6 351.1h0M280.4 336.6h0M320.0 369.4h0M370.0 376.8h0M288.3 428.0h0M300.8 439.2h0M370.1 355.6h0M337.2 368.3h0M359.8 414.0h0M328.4 371.7h0M280.0 312.5h0M276.1 418.1h0M337.4 399.0h0M363.7 348.9h0M285.7 344.7h0M303.5 406.2h0M319.0 368.4h0M278.0 338.3h0M400.3 374.9h0M343.3 423.4h0M311.0 439.6h0M305.6 443.4h0M402.4 394.0h0M399.6 399.6h0M306.5 401.2h0M335.0 416.6h0M366.1 413.6h0M282.8 350.2h0M303.1 359.5h0M369.2 373.8h0M299.4 418.4h0M308.3 368.8h0M277.0 358.2h0M297.0 431.3h0M346.3 449.3h0M294.8 352.6h0M278.3 384.1h0M301.4 436.8h0M383.3 373.4h0M328.8 427.2h0M303.5 331.9h0M327.9 380.8h0M337.8 416.5h0M326.8 452.2h0M332.8 323.6h0M315.2 327.0h0M351.3 354.2h0M276.2 423.4h0M358.3 419.4h0M305.4 433.9h0M367.8 366.2h0M304.7 374.2h0M335.1 353.2h0M316.7 423.5h0M359.6 338.1h0M360.0 392.1h0M360.3 399.5h0M346.6 439.7h0M328.9 348.6h0M289.4 431.4h0M338.0 374.7h0M327.7 377.0h0M286.5 364.7h0M283.1 363.1h0M291.6 364.6h0M314.9 436.7h0M345.3 349.2h0M367.8 399.4h0M288.7 423.6h0M302.6 343.3h0M352.6 408.7h0M330.0 322.3h0M287.4 385.5h0M327.4 400.7h0M301.7 378.6h0M390.2 360.9h0M325.0 429.9h0M331.6 398.6h0M284.2 467.8h0M286.1 352.8h0M299.0 385.9h0M300.4 387.8h0M313.9 411.5h0M334.7 399.0h0M330.0 390.6h0M356.3 469.3h0M329.1 407.6h0M330.1 397.3h0M376.4 364.9h0M314.4 419.9h0M293.8 436.2h0M336.4 326.6h0M335.5 377.0h0M300.3 393.8h0M306.8 369.8h0M320.8 368.6h0M341.8 438.4h0M282.4 486.9h0M352.3 432.1h0M310.5 396.4h0M387.1 364.3h0M372.1 358.6h0M308.0 438.9h0M300.3 426.1h0M406.3 443.3h0M343.5 430.5h0M341.4 443.6h0M307.3 365.4h0M317.4 357.8h0M349.6 348.6h0M343.1 388.6h0M293.5 381.9h0M364.6 394.2h0M332.5 340.9h0M289.2 396.7h0M356.1 422.3h0M315.9 392.8h0M302.9 388.7h0M334.4 375.2h0M334.7 383.2h0M269.7 415.3h0M327.5 374.0h0M319.7 429.0h0M346.8 378.7h0M338.6 402.1h0M363.0 396.2h0M285.1 414.4h0M375.8 384.8h0M377.1 408.9h0M280.7 315.7h0M294.6 380.3h0M302.3 423.0h0M321.1 416.7h0M328.3 350.7h0M342.3 405.6h0M313.1 404.1h0M286.9 408.3h0M354.5 392.1h0M310.1 393.9h0M360.9 431.3h0M340.2 352.0h0M310.9 333.8h0M362.1 430.2h0M349.5 358.8h0M304.5 417.2h0M303.1 345.1h0M343.0 451.6h0M313.7 386.6h0M382.3 332.8h0M330.8 380.5h0M328.5 382.4h0M335.7 380.8h0M291.6 395.9h0M317.6 342.8h0M299.2 377.7h0M347.1 392.5h0M306.6 356.8h0M317.6 309.8h0M301.6 344.1h0M348.7 370.8h0M325.1 389.6h0M304.0 406.9h0M374.3 388.1h0M319.7 356.3h0M309.8 387.5h0M361.0 472.2h0M340.7 380.3h0M283.6 415.0h0M294.8 319.0h0M298.4 397.7h0M326.2 417.8h0M325.5 377.2h0M332.2 462.3h0M329.0 424.5h0M369.9 414.0h0M346.1 364.8h0M347.8 418.0h0M309.0 369.7h0M284.1 318.9h0M342.1 366.3h0M323.1 450.5h0M351.2 416.8h0M413.6 397.4h0M278.3 454.4h0M355.8 341.7h0M274.5 466.7h0M302.9 431.9h0M272.9 376.0h0M325.5 372.6h0M332.0 384.1h0M311.0 352.7h0M365.2 445.0h0M369.5 431.2h0M321.7 378.5h0M314.4 426.0h0M312.5 388.2h0M306.4 400.7h0M366.7 370.6h0M330.1 489.4h0M310.6 329.8h0M314.2 384.2h0M340.7 431.5h0M308.3 431.1h0M332.7 324.8h0M320.8 352.0h0M368.4 386.1h0M361.7 357.8h0M316.5 379.9h0M346.4 383.7h0M306.7 434.3h0M349.8 321.7h0M333.5 432.5h0M342.4 380.9h0M319.9 413.5h0M332.5 376.1h0M340.0 484.5h0M271.7 317.8h0M290.7 437.7h0M287.2 372.2h0M379.7 380.9h0M332.4 447.3h0M334.8 382.1h0M328.0 426.6h0M304.4 448.6h0M296.6 366.4h0M351.2 471.7h0M309.3 441.1h0M376.2 381.6h0M328.8 399.5h0M325.3 361.9h0M314.6 402.4h0M319.6 425.7h0M323.3 431.0h0M374.2 399.7h0M402.0 369.9h0M282.7 364.8h0M330.9 352.3h0M346.4 379.5h0M291.3 414.9h0M300.6 367.3h0M306.6 363.3h0M344.5 413.6h0M320.7 380.2h0M319.1 325.6h0M325.1 435.1h0M330.8 433.2h0M401.3 391.4h0M328.5 376.5h0M350.8 389.2h0M304.5 353.5h0M334.4 430.9h0M311.6 446.2h0M317.2 431.9h0M291.5 400.2h0M294.5 400.0h0M337.9 412.0h0M347.8 459.1h0M338.1 358.7h0M299.5 389.9h0M333.2 363.0h0M354.6 404.0h0M321.2 436.0h0M331.7 348.1h0M362.2 430.1h0M308.1 417.5h0M355.2 409.3h0M307.6 445.1h0M341.2 364.2h0M308.7 455.3h0M333.0 376.2h0M372.2 412.3h0M300.5 328.7h0M301.9 429.6h0M311.6 391.7h0M333.0 367.9h0M416.5 349.3h0M303.1 398.6h0M300.6 411.7h0M268.9 376.8h0M303.8 359.7h0M323.5 348.4h0M290.2 377.2h0M299.7 326.1h0M329.1 434.1h0M297.5 387.8h0M360.0 384.0h0M358.8 366.1h0M293.4 418.7h0M310.4 415.4h0M324.9 447.0h0M348.9 362.1h0M266.1 345.4h0M320.7 365.7h0M386.7 340.6h0M320.2 387.8h0M330.8 372.5h0M323.3 355.3h0M282.6 387.7h0M355.7 430.0h0M332.5 418.4h0M328.9 364.5h0M348.1 391.0h0M350.2 402.2h0M339.8 375.8h0M303.5 338.0h0M328.9 403.3h0M299.1 350.7h0M294.0 374.7h0M356.0 378.8h0M323.3 426.4h0M314.0 370.7h0M313.8 396.0h0M326.4 380.9h0M323.1 367.5h0M294.0 371.0h0M315.7 408.6h0M349.3 400.9h0M370.3 315.5h0M292.1 323.5h0M327.3 401.2h0M340.8 399.8h0M306.0 368.5h0M303.6 368.5h0M373.3 376.7h0M316.9 364.3h0M320.9 387.9h0M363.9 388.0h0M383.2 353.9h0M318.2 429.8h0M324.3 373.3h0M386.5 476.3h0M408.8 487.5h0M323.1 439.2h0M337.6 437.4h0M354.4 366.4h0M364.2 377.2h0M314.2 326.6h0M354.3 373.1h0M301.3 428.8h0M278.2 322.8h0M332.6 453.9h0M352.0 468.5h0M324.4 423.0h0M344.7 384.4h0M360.9 417.9h0M352.0 365.0h0M319.4 376.1h0M374.3 339.5h0M335.7 390.3h0M318.0 351.0h0M330.3 370.2h0M358.3 420.5h0M332.8 389.5h0M327.7 394.9h0M277.2 401.3h0M342.9 422.2h0M327.6 445.6h0M389.3 343.4h0M326.2 325.6h0M323.7 410.8h0M305.3 418.0h0M351.4 445.9h0M319.8 421.6h0M302.8 459.5h0M381.4 410.7h0M387.6 364.6h0M311.4 430.4h0M292.0 354.3h0M365.4 362.6h0M298.5 406.5h0M423.3 379.9h0M322.3 427.6h0M359.8 375.1h0M282.8 463.5h0M325.8 349.1h0M364.4 418.5h0M342.1 371.6h0M308.8 447.0h0M410.8 367.2h0M352.4 421.0h0M306.5 360.7h0M318.0 456.8h0M373.3 398.2h0M300.8 393.9h0M328.3 426.1h0M299.2 487.3h0M370.1 346.4h0M321.7 387.4h0M356.7 372.2h0M346.6 419.0h0M307.4 362.3h0M351.2 327.9h0M359.3 329.5h0M288.1 417.3h0M351.3 399.2h0M448.9 425.3h0M317.1 326.4h0M349.1 354.5h0M281.6 368.9h0M343.0 425.0h0M307.2 408.7h0M353.5 384.0h0M325.5 350.4h0M287.0 398.5h0M364.9 371.8h0M319.9 426.6h0M292.5 461.1h0M329.6 395.7h0M294.2 345.9h0M340.8 486.7h0M325.1 416.5h0M314.6 412.6h0M350.1 395.7h0M283.5 398.0h0M360.6 394.9h0M382.4 330.9h0M333.5 362.5h0M318.3 387.6h0M302.1 397.2h0M346.1 399.1h0M321.8 408.5h0M321.2 318.0h0M362.7 352.4h0M312.4 364.4h0M319.2 396.6h0M342.1 383.5h0M364.1 470.9h0M322.2 376.0h0M332.8 381.5h0M328.9 329.0h0M352.8 464.6h0M378.5 394.6h0M295.2 386.7h0M322.7 365.4h0M325.7 394.8h0M347.6 377.2h0M378.9 440.2h0M326.7 358.9h0M334.6 373.9h0M366.2 370.0h0M284.5 415.0h0M300.8 404.7h0M311.8 431.0h0M327.0 413.2h0M335.2 414.4h0M309.4 393.7h0M387.5 427.9h0M302.9 410.9h0M320.3 404.9h0M364.6 327.1h0M353.8 372.7h0M326.7 363.8h0M340.1 318.4h0M355.3 444.0h0M326.7 449.7h0M349.5 435.1h0M295.5 414.4h0M329.5 451.2h0M296.2 442.5h0M370.0 397.7h0M310.9 396.0h0M337.1 411.8h0M294.9 417.5h0M319.8 419.8h0M317.1 363.0h0M297.2 363.9h0M356.2 357.6h0M269.2 396.2h0M348.2 377.3h0M418.3 327.1h0M298.1 429.6h0M327.4 345.2h0M325.3 361.1h0M347.7 414.2h0M308.9 363.1h0M281.0 364.3h0M315.6 329.1h0M354.9 427.4h0M311.5 437.1h0M284.4 332.9h0M296.1 453.7h0M329.0 464.2h0M344.9 407.6h0M338.6 379.6h0M316.6 376.0h0M364.8 409.9h0M284.9 388.7h0M286.1 390.6h0M318.8 414.9h0M305.3 436.4h0M306.2 421.1h0M306.7 359.8h0M317.1 419.2h0M293.7 360.4h0M334.7 421.7h0M323.2 383.8h0M288.0 383.6h0M386.6 396.2h0M279.2 326.9h0M348.9 378.0h0M297.5 342.9h0M336.0 428.0h0M341.6 441.8h0M353.4 332.8h0M294.4 400.4h0M422.9 367.8h0M337.9 353.4h0M295.7 482.4h0M276.8 374.1h0M405.5 349.5h0M381.2 379.6h0M323.6 402.3h0M350.7 453.9h0M370.0 403.1h0M327.8 340.6h0M309.7 371.1h0M323.3 464.6h0M353.7 321.0h0M325.3 388.9h0M281.8 438.0h0M350.8 401.6h0M298.5 355.4h0M367.7 397.3h0M332.9 411.9h0M332.7 399.8h0M328.3 432.0h0M360.5 399.1h0M322.8 442.8h0M333.1 427.6h0M379.6 441.5h0M360.7 418.9h0M308.4 351.5h0M321.9 398.8h0M359.3 376.7h0M297.6 397.8h0M293.8 356.5h0M302.6 397.7h0M329.3 418.0h0M333.6 463.9h0M310.7 392.1h0M350.9 328.5h0M321.8 384.8h0M300.4 427.6h0M289.4 436.5h0M367.1 395.5h0M313.3 365.0h0M289.4 363.3h0M325.8 385.9h0M289.6 395.2h0M345.2 415.6h0M354.0 396.4h0M360.1 472.1h0M287.6 397.9h0M319.4 411.5h0M388.6 433.6h0M317.0 429.7h0M368.5 365.8h0M377.5 326.8h0M276.5 339.6h0M366.6 406.6h0M350.7 415.6h0M355.0 405.7h0M383.3 423.6h0M340.6 443.9h0M327.3 361.1h0M345.8 494.6h0M312.6 498.8h0M341.8 422.7h0M384.7 402.4h0M306.1 335.8h0M343.3 393.2h0M335.4 359.5h0M328.2 388.4h0M328.4 379.4h0M326.8 475.0h0M305.5 404.7h0M366.0 376.0h0M289.0 455.8h0M287.8 434.9h0M398.0 331.1h0M366.5 352.8h0M378.8 403.5h0M324.0 367.5h0M333.8 410.3h0M350.9 395.6h0M344.0 349.0h0M321.4 380.3h0M273.6 411.4h0M298.9 389.4h0M272.0 397.9h0M378.9 407.3h0M310.3 387.5h0M317.9 446.4h0M333.9 341.6h0M324.6 411.2h0M342.3 371.5h0M302.3 408.6h0M384.6 418.0h0M299.1 419.5h0M307.2 422.9h0M296.1 413.8h0M304.6 383.1h0M324.3 421.9h0M349.4 431.5h0M287.0 427.2h0M333.5 403.7h0M300.1 403.7h0M365.0 312.6h0M280.7 359.5h0M326.8 384.3h0M348.0 432.5h0M327.0 397.9h0M328.2 347.1h0M295.6 411.7h0M315.6 431.8h0M357.3 422.8h0M331.5 364.1h0M308.7 348.8h0M315.8 356.0h0M338.4 348.9h0M366.7 432.2h0M350.3 404.6h0M348.1 478.7h0M376.7 458.2h0M269.7 432.6h0M351.4 410.1h0M321.1 341.0h0M348.5 362.3h0M274.6 442.5h0M299.8 376.2h0M313.5 336.3h0M347.5 395.3h0M333.4 343.1h0M346.3 468.6h0M327.3 361.7h0M327.8 434.2h0M365.1 419.2h0M329.9 362.2h0M321.5 386.9h0M310.8 392.3h0M344.6 377.2h0M312.4 421.9h0M344.6 393.8h0M325.7 321.8h0M360.8 395.2h0M295.2 345.3h0M324.8 382.0h0M334.1 400.8h0M336.3 386.9h0M360.9 432.4h0M335.6 388.3h0M353.1 370.4h0M389.1 457.8h0M351.0 421.0h0M286.0 386.0h0M345.0 375.2h0M309.3 394.7h0M332.1 352.6h0M316.2 462.3h0M366.7 441.0h0M283.7 352.6h0M331.4 389.4h0M311.9 365.2h0M344.2 419.2h0M317.2 343.3h0M337.2 418.7h0M406.5 409.5h0M367.4 452.5h0M359.7 355.2h0M308.2 464.6h0M281.8 341.7h0M364.6 451.6h0M311.8 434.1h0M323.6 408.8h0M309.3 347.4h0M325.5 456.3h0M404.1 423.8h0M311.3 324.3h0M328.9 364.5h0M331.7 356.6h0M281.1 419.9h0M302.1 404.1h0M314.7 370.6h0M295.0 429.6h0M287.7 368.2h0M289.7 330.4h0M317.5 412.4h0M302.7 322.1h0M333.4 355.8h0M317.1 375.5h0M275.0 419.2h0M320.5 374.9h0M347.3 421.3h0M344.4 424.6h0M305.4 471.5h0M328.0 357.2h0M344.3 367.5h0M291.4 435.4h0M293.6 457.5h0M317.1 406.0h0M345.6 379.5h0M302.4 345.8h0M297.2 406.8h0M333.9 349.5h0M360.2 371.7h0M303.6 353.2h0M309.7 416.4h0M314.6 387.0h0M316.1 443.1h0M288.5 447.5h0M305.6 406.4h0M327.9 441.2h0M324.0 435.5h0M321.3 453.9h0M286.4 374.4h0M301.9 419.1h0M296.3 468.4h0M356.1 420.6h0M369.8 377.3h0M332.1 404.1h0M374.5 486.7h0M310.6 378.7h0M310.8 369.1h0M276.7 431.1h0M328.4 379.5h0M305.2 331.3h0M323.8 330.8h0M337.1 395.2h0M312.5 369.3h0M282.7 454.0h0M319.2 370.5h0M318.3 338.6h0M321.7 363.4h0M343.5 344.7h0M313.5 442.2h0M311.8 363.1h0M379.3 455.7h0M357.1 417.8h0M317.8 477.2h0M289.4 390.7h0M305.9 429.2h0M333.9 310.2h0M349.5 376.0h0M402.2 364.8h0M312.9 441.7h0M326.4 389.8h0M309.3 422.3h0M324.1 366.0h0M308.5 342.8h0M285.5 391.7h0M355.9 448.1h0M325.9 393.1h0M364.9 459.0h0M304.7 381.8h0M330.6 380.9h0M343.9 380.9h0M277.5 367.2h0M347.2 385.5h0M325.3 362.3h0M297.2 457.0h0M286.7 430.9h0M305.9 383.0h0M374.1 370.7h0M302.9 331.7h0M390.3 419.1h0M313.8 367.9h0M297.7 473.5h0M375.0 324.7h0M354.2 409.2h0M368.8 444.6h0M387.8 373.7h0M358.3 477.9h0M363.7 436.3h0M295.1 360.6h0M337.7 437.3h0M329.8 436.6h0M347.2 401.2h0M307.0 468.8h0M360.4 409.6h0M342.9 409.8h0M351.4 467.1h0M340.4 371.4h0M354.6 426.3h0M330.7 370.1h0M306.6 395.9h0M327.2 322.4h0M331.5 372.3h0M324.5 319.8h0M330.6 424.3h0M305.2 409.8h0M339.8 359.7h0M299.8 418.7h0M334.5 375.1h0M349.8 424.7h0M348.6 441.0h0M292.5 380.6h0M289.0 385.2h0M324.2 425.3h0M288.1 383.7h0M407.2 313.5h0M295.8 418.4h0M296.1 406.4h0M344.5 369.9h0M306.9 414.3h0M317.5 376.0h0M289.0 424.9h0M304.5 336.2h0M267.7 326.2h0M291.4 385.8h0M316.1 338.2h0M318.8 427.0h0M283.8 361.5h0M297.0 321.1h0M292.3 375.2h0M315.7 447.3h0M278.7 390.4h0M342.1 419.4h0M297.0 412.7h0M333.4 399.8h0M289.6 349.1h0M330.2 423.6h0M316.2 378.1h0M322.0 360.4h0M337.0 308.6h0M334.8 443.8h0M325.6 382.0h0M325.5 374.8h0M317.7 429.6h0M309.6 390.1h0M312.5 357.0h0M370.2 414.7h0M342.4 327.7h0M357.3 328.4h0M309.7 388.8h0M335.0 421.9h0M359.3 436.9h0M338.0 387.8h0M332.2 386.8h0M323.9 399.9h0M289.6 383.2h0M290.6 371.2h0M334.4 371.1h0M311.6 382.8h0M298.1 440.2h0M332.8 400.5h0M301.6 370.5h0M356.0 419.9h0M385.0 385.8h0M336.2 419.0h0M297.9 356.6h0M388.7 333.6h0M336.3 437.0h0M281.7 448.4h0M357.2 439.7h0M306.4 399.5h0M313.2 381.9h0M309.1 415.1h0M283.0 383.9h0M401.8 350.3h0M307.9 431.7h0M334.2 427.6h0M322.5 412.6h0M302.9 375.8h0M328.4 395.0h0M352.7 399.7h0M309.7 344.1h0M333.7 372.9h0M310.0 348.5h0M341.2 436.0h0M341.7 342.4h0M300.5 355.4h0M301.9 397.4h0M285.6 461.5h0M342.2 420.4h0M297.8 399.8h0M299.3 404.8h0M338.1 339.9h0M331.3 387.1h0M301.8 394.1h0M315.9 364.9h0M308.7 386.5h0M342.5 404.1h0M348.5 369.9h0M381.1 388.0h0M352.7 342.2h0M344.3 415.7h0M327.1 364.9h0M353.4 439.3h0M288.5 473.4h0M394.7 457.9h0M331.3 371.8h0M369.6 407.7h0M295.0 380.0h0M356.7 408.9h0M335.4 357.0h0M315.6 349.6h0M299.3 388.3h0M292.2 358.1h0M382.8 439.6h0M363.2 419.4h0M325.9 403.8h0M328.6 384.4h0M297.4 383.5h0M301.4 390.9h0M316.8 465.6h0M282.3 396.2h0M349.0 380.0h0M339.5 381.4h0M327.4 441.8h0M314.7 371.3h0M321.0 434.6h0M279.2 437.3h0M386.9 356.2h0M343.0 408.3h0M308.9 367.9h0M376.2 407.4h0M359.7 327.2h0M337.2 382.7h0M329.6 434.1h0M348.4 398.9h0M324.4 430.9h0M314.1 405.4h0M341.8 379.9h0M325.0 377.9h0M308.2 437.2h0M321.4 389.5h0M315.7 326.5h0M333.4 356.6h0M325.5 456.5h0M324.3 436.2h0M317.5 423.1h0M337.4 359.2h0M304.7 412.8h0M355.4 432.5h0M328.9 420.5h0M337.4 436.9h0M278.8 433.0h0M307.4 409.6h0M367.0 410.1h0M317.5 341.8h0M292.0 379.6h0M333.6 460.1h0M325.5 398.8h0M342.7 435.2h0M391.7 392.0h0M321.9 352.7h0M326.5 409.0h0M298.7 410.1h0M319.9 355.8h0M321.0 356.9h0M347.7 393.6h0M340.8 371.2h0M296.0 411.9h0M305.8 337.1h0M368.9 424.5h0M289.4 366.9h0M347.4 405.9h0M377.2 329.0h0M344.2 429.3h0M330.6 399.8h0M368.4 476.5h0M334.0 325.0h0M321.7 318.2h0M315.1 420.6h0M361.0 427.6h0M345.6 320.0h0M374.5 413.1h0M310.6 429.3h0M311.4 448.3h0M307.2 397.1h0M331.5 329.7h0M298.5 313.9h0M353.5 476.0h0M333.5 408.2h0M288.6 431.4h0M370.9 383.4h0M319.9 354.2h0M327.0 380.1h0M307.5 347.0h0M335.4 375.1h0M324.2 461.4h0M345.9 444.4h0M338.1 393.6h0M317.6 321.7h0M278.3 444.0h0M349.0 444.6h0M312.3 368.3h0M321.2 449.4h0M319.4 358.5h0M305.9 381.2h0M297.3 373.4h0M301.8 399.3h0M277.9 386.4h0M330.3 449.6h0M316.0 377.9h0M356.5 409.8h0M361.7 401.8h0M319.4 358.7h0M316.3 390.5h0M294.5 447.7h0M294.1 425.2h0M352.4 375.6h0M314.6 351.3h0M346.2 362.8h0M350.0 365.9h0M304.9 342.6h0M313.8 410.6h0M310.1 428.4h0M356.8 398.1h0M326.3 372.7h0M327.6 398.3h0M346.4 361.2h0M319.3 433.8h0M391.4 486.0h0M364.6 407.4h0M369.7 393.9h0M283.1 399.8h0M351.3 380.8h0M331.5 331.5h0M351.6 388.7h0M281.1 375.7h0M330.3 385.9h0M288.7 390.0h0M310.7 371.7h0M370.3 483.9h0M317.4 341.7h0M274.4 340.5h0M283.2 385.3h0M356.5 454.1h0M298.3 390.0h0M360.0 338.3h0M330.5 413.5h0M333.6 363.1h0M294.8 416.9h0M370.5 363.7h0M317.8 370.3h0M283.3 325.9h0M293.4 439.8h0M316.5 345.6h0M348.0 397.6h0M297.3 409.6h0M301.6 486.2h0M396.9 410.6h0M324.8 425.3h0M304.0 371.1h0M323.1 385.9h0M279.4 391.2h0M340.2 434.4h0M354.9 351.7h0M302.2 407.8h0M356.0 506.4h0M312.1 353.0h0M331.8 317.7h0M296.8 370.7h0M294.8 386.3h0M271.0 458.5h0M329.5 411.2h0M312.3 437.7h0M313.4 363.2h0M283.6 390.3h0M282.3 403.6h0M300.5 357.9h0M338.0 403.3h0M332.2 380.6h0M298.8 401.1h0M332.0 335.9h0M325.6 447.0h0M390.7 394.0h0M336.7 388.5h0M367.3 495.9h0M304.0 433.2h0M361.9 410.6h0M281.7 366.2h0M330.3 407.7h0M310.6 402.3h0M360.5 423.5h0M338.6 416.1h0M366.0 360.6h0M328.6 365.7h0M330.5 402.9h0M302.6 371.4h0M304.8 406.5h0M306.6 394.9h0M295.9 376.5h0M289.3 386.8h0M364.1 424.3h0M337.1 407.4h0M299.7 359.5h0M307.5 364.4h0M355.0 405.7h0M334.8 352.1h0M328.5 399.0h0M280.1 388.9h0M307.1 341.8h0M352.2 392.9h0M310.6 393.1h0M307.8 443.5h0M289.1 393.4h0M347.5 390.2h0M392.9 407.9h0M341.6 375.5h0M407.8 323.4h0M455.7 366.2h0M325.9 389.9h0M409.6 382.8h0M380.8 336.4h0M399.6 371.0h0M343.6 369.3h0M460.9 359.3h0M368.3 359.9h0M410.5 339.8h0M342.7 368.4h0M361.7 395.8h0M312.7 359.0h0M461.9 320.3h0M516.7 342.1h0M398.0 368.5h0M411.6 369.2h0M488.2 340.5h0M365.0 338.4h0M407.3 361.0h0M362.5 363.3h0M433.8 360.6h0M415.3 356.9h0M445.5 356.6h0M442.7 341.7h0M366.9 329.8h0M405.2 348.5h0M422.6 373.8h0M390.9 337.4h0M424.3 402.0h0M432.7 353.7h0M375.9 339.6h0M397.2 373.5h0M376.1 383.6h0M341.2 389.8h0M444.0 376.0h0M481.2 369.5h0M387.9 349.7h0M476.1 361.3h0M471.0 364.1h0M369.0 341.9h0M380.9 366.9h0M371.4 317.1h0M441.0 342.4h0M458.1 347.2h0M373.3 358.3h0M326.0 367.1h0M399.6 365.4h0M455.5 363.7h0M414.8 325.4h0M396.8 404.7h0M320.5 346.2h0M425.0 384.0h0M381.5 362.8h0M398.3 360.4h0M402.3 351.5h0M375.3 355.7h0M352.7 321.9h0M401.7 349.0h0M421.8 405.2h0M475.7 371.9h0M383.5 344.2h0M348.1 348.0h0M482.6 346.3h0M445.5 353.0h0M361.6 385.5h0M384.7 367.8h0M399.7 345.0h0M396.2 393.4h0M463.2 381.4h0M407.8 356.0h0M362.7 364.9h0M406.2 348.2h0M318.9 342.2h0M367.3 410.7h0M358.9 350.4h0M381.2 366.2h0M338.1 368.6h0M397.1 357.9h0M317.6 351.5h0M379.7 364.1h0M431.3 333.0h0M371.5 332.9h0M438.2 370.1h0M415.0 340.1h0M425.6 372.5h0M362.6 381.8h0M393.2 388.1h0M348.8 382.6h0M362.3 334.5h0M373.1 358.5h0M420.9 356.8h0M468.2 380.3h0M334.1 350.7h0M465.2 386.7h0M289.5 360.7h0M300.5 386.5h0M475.9 360.0h0M452.6 359.7h0M405.1 333.8h0M406.6 348.9h0M397.9 391.8h0M295.0 390.7h0M373.9 409.0h0M297.4 395.1h0M419.3 341.5h0M429.7 373.6h0M457.8 377.8h0M384.0 353.7h0M427.8 360.2h0M394.7 352.8h0M403.3 326.7h0M482.4 354.1h0M381.7 369.1h0M281.0 366.2h0M375.4 333.0h0M325.1 408.0h0M349.1 333.5h0M462.6 343.2h0M416.2 368.5h0M360.2 345.7h0M388.4 344.4h0M442.5 345.2h0M404.9 354.2h0M474.9 409.5h0M349.6 350.5h0M407.9 344.8h0M401.5 331.5h0M355.1 361.6h0M411.7 369.7h0M428.0 338.3h0M450.5 346.8h0M303.5 365.1h0M402.6 343.8h0M424.4 338.9h0M451.4 372.6h0M414.1 384.9h0M398.3 349.2h0M463.1 366.5h0M392.0 322.7h0M466.3 397.7h0M401.4 362.8h0M410.1 370.9h0M358.9 362.9h0M334.8 378.8h0M409.3 372.4h0M387.7 366.3h0M457.5 361.7h0M332.5 323.1h0M334.8 371.4h0M444.3 350.5h0M353.8 362.5h0M344.0 377.6h0M297.8 338.2h0M351.4 339.5h0M420.7 374.7h0M436.0 340.9h0M306.7 345.9h0M408.5 346.9h0M348.5 370.3h0M359.7 350.1h0M419.9 360.9h0M384.0 386.3h0M405.1 368.7h0M420.7 367.4h0M419.8 355.4h0M407.3 347.8h0M432.0 323.7h0M368.6 351.9h0M350.0 380.6h0M352.9 397.3h0M393.0 344.0h0M355.3 357.0h0M401.7 367.7h0M384.9 363.2h0M461.9 347.7h0M448.3 346.3h0M425.5 341.6h0M498.6 349.2h0M364.4 352.8h0M419.0 340.8h0M368.0 361.2h0M376.1 341.7h0M407.2 325.2h0M436.7 364.3h0M461.2 354.5h0M377.8 365.1h0M362.0 378.3h0M399.6 323.0h0M445.5 350.7h0M422.5 328.4h0M425.7 360.8h0M438.1 326.7h0M423.1 384.3h0M489.4 332.0h0M421.3 343.8h0M366.4 364.4h0M378.2 375.6h0M385.0 359.2h0M409.5 347.5h0M424.2 398.4h0M325.2 349.5h0M361.0 336.6h0M377.0 361.4h0M348.0 342.1h0M302.2 362.9h0M337.4 335.9h0M442.5 365.3h0M333.6 320.0h0M467.5 359.9h0M396.2 371.2h0M400.7 360.3h0M480.0 355.4h0M484.0 405.7h0M339.7 357.3h0M441.2 339.3h0M422.4 357.1h0M361.5 385.6h0M378.8 345.8h0M351.5 319.1h0M470.8 349.2h0M515.5 328.7h0M327.4 350.1h0M357.3 321.0h0M386.3 389.0h0M350.3 354.7h0M443.5 369.7h0M405.2 356.3h0M382.4 373.3h0M317.0 349.8h0M320.0 346.2h0M394.5 335.6h0M304.3 342.3h0M431.6 374.2h0M372.2 377.6h0M441.2 343.9h0M408.5 321.5h0M421.6 375.2h0M412.8 335.9h0M363.2 339.9h0M365.9 349.6h0M376.7 376.9h0M400.1 363.7h0M430.6 349.6h0M384.1 323.1h0M456.2 356.4h0M374.5 381.1h0M341.1 359.4h0M360.0 371.1h0M364.8 358.2h0M460.1 351.1h0M433.2 359.9h0M413.2 356.5h0M390.8 409.5h0M407.5 361.5h0M338.1 355.3h0M507.8 357.1h0M421.0 362.5h0M442.8 363.1h0M449.8 375.4h0M392.8 374.8h0M388.5 362.8h0M391.1 375.1h0M386.3 363.2h0M309.1 388.4h0M405.9 305.3h0M338.7 374.4h0M499.3 358.2h0M473.4 349.8h0M326.2 376.2h0M410.6 373.2h0M467.0 320.5h0M486.9 346.4h0M395.7 342.4h0M369.9 368.8h0M412.2 346.7h0M417.4 358.9h0M310.7 340.5h0M408.4 345.6h0M375.6 338.9h0M471.1 365.2h0M423.0 342.1h0M406.1 334.4h0M432.9 371.0h0M387.1 365.5h0M401.8 391.3h0M410.2 354.8h0M311.0 373.6h0M434.7 342.8h0M441.0 378.3h0M428.4 389.0h0M445.2 388.4h0M340.5 317.8h0M403.9 330.5h0M383.5 379.6h0M338.4 383.7h0M351.6 348.5h0M388.3 337.1h0M344.0 342.6h0M377.1 336.1h0M339.7 343.0h0M414.9 339.0h0M487.1 372.7h0M412.2 401.3h0M388.9 353.4h0M329.0 374.5h0M359.8 390.7h0M422.9 387.9h0M400.1 352.2h0M381.7 368.3h0M306.1 386.1h0M340.3 381.8h0M409.6 387.9h0M345.7 342.5h0M429.6 357.3h0M396.6 376.5h0M346.3 352.8h0M476.1 402.3h0M371.6 338.5h0M322.5 343.5h0M375.2 355.3h0M416.6 364.2h0M453.5 381.9h0M410.9 398.4h0M382.0 340.7h0M402.9 355.3h0M335.1 375.1h0M385.8 344.9h0M428.4 368.8h0M405.6 326.3h0M423.9 364.9h0M371.5 354.3h0M419.8 366.9h0M385.8 332.9h0M349.6 339.6h0M319.2 344.7h0M283.7 326.4h0M369.1 331.6h0M399.3 368.8h0M355.0 351.6h0M336.4 362.0h0M408.2 355.0h0M413.8 394.8h0M416.2 346.7h0M410.8 353.7h0M365.1 374.9h0M412.8 358.9h0M415.6 362.7h0M436.7 368.0h0M380.9 335.5h0M344.0 330.5h0M441.1 342.7h0M437.0 377.0h0M384.5 412.8h0M290.9 333.1h0M352.8 364.9h0M360.2 353.3h0M366.3 364.1h0M441.7 359.0h0M397.4 328.3h0M393.2 348.4h0M359.1 392.4h0M406.8 359.8h0M400.4 342.0h0M422.4 360.7h0M310.0 338.9h0M448.4 346.8h0M478.3 350.0h0M416.7 355.4h0M375.8 348.8h0M448.9 368.7h0M451.8 325.6h0M360.7 331.2h0M390.4 376.6h0M402.9 346.5h0M351.9 352.9h0M387.7 345.7h0M436.0 345.6h0M488.5 331.6h0M310.0 358.2h0M422.8 355.3h0M326.2 335.9h0M365.7 357.5h0M423.4 380.2h0M346.0 314.0h0M409.9 377.3h0M372.7 343.0h0M426.3 347.6h0M330.4 362.4h0M485.9 373.7h0M349.8 359.9h0M363.3 368.6h0M336.9 327.3h0M453.7 328.1h0M412.7 333.3h0M397.3 348.4h0M462.1 334.0h0M339.6 331.9h0M352.1 372.3h0M406.9 352.4h0M356.8 327.2h0M379.5 383.9h0M384.9 383.7h0M380.8 382.0h0M342.4 328.4h0M442.2 331.5h0M394.5 359.8h0M360.7 368.4h0M368.9 367.2h0M406.3 341.6h0M388.2 379.9h0M417.4 402.1h0M460.0 358.8h0M393.3 381.1h0M320.5 359.0h0M400.0 342.3h0M400.0 348.5h0M385.5 368.9h0M319.0 374.9h0M381.2 343.5h0M401.5 333.7h0M385.9 336.4h0M465.5 353.0h0M472.0 349.5h0M304.5 358.3h0M483.8 378.4h0M339.1 331.7h0M372.5 398.3h0M521.7 348.1h0M467.5 384.6h0M437.4 357.2h0M345.5 369.5h0M398.9 340.7h0M417.7 376.0h0M351.3 355.4h0M412.1 325.1h0M332.4 349.8h0M458.7 336.9h0M391.4 370.2h0M355.3 343.9h0M458.5 374.8h0M433.3 372.6h0M462.0 369.5h0M330.5 344.2h0M365.3 381.2h0M389.1 354.2h0M318.3 352.7h0M398.7 379.7h0M396.6 346.4h0M383.3 383.5h0M389.1 375.0h0M323.9 370.7h0M420.8 354.8h0M457.6 344.2h0M332.3 366.2h0M339.3 331.3h0M393.7 363.0h0M339.3 336.6h0M352.6 382.6h0M375.1 359.1h0M329.9 379.2h0M316.1 334.4h0M436.7 356.5h0M344.5 342.4h0M432.2 352.7h0M355.1 331.0h0M423.7 377.4h0M370.1 338.4h0M322.5 366.7h0M414.6 368.7h0M385.2 387.1h0M359.3 370.3h0M492.4 320.0h0M473.3 339.4h0M339.1 329.6h0M387.0 328.5h0M373.6 333.4h0M352.8 372.5h0M414.9 371.2h0M428.6 363.3h0M442.2 332.7h0M337.9 345.1h0M417.8 370.1h0M450.1 362.7h0M297.5 331.3h0M375.7 359.6h0M354.8 358.1h0M425.0 390.9h0M324.4 350.5h0M382.4 364.4h0M355.8 381.5h0M390.4 321.6h0M318.6 376.9h0M338.0 382.8h0M347.6 361.7h0M427.5 345.1h0M455.6 358.4h0M381.0 350.6h0M372.1 363.6h0M317.3 384.7h0M325.6 362.3h0M398.8 346.8h0M441.4 373.5h0M372.2 350.9h0M358.3 323.1h0M363.8 363.8h0M419.6 399.4h0M449.5 348.9h0M390.8 362.4h0M374.7 326.4h0M402.9 355.1h0M365.3 350.3h0M389.1 362.6h0M444.1 358.1h0M413.8 353.7h0M320.8 375.6h0M483.3 343.4h0M524.8 334.6h0M324.9 382.0h0M371.3 370.8h0M421.2 337.3h0M450.4 330.9h0M307.7 332.4h0M469.5 407.2h0M449.2 373.6h0M424.1 363.8h0M389.0 373.6h0M305.1 370.6h0M400.5 411.6h0M356.3 371.3h0M410.3 369.2h0M372.9 352.0h0M336.2 378.5h0M488.7 366.5h0M512.8 362.4h0M405.2 353.6h0M343.5 338.1h0M427.9 373.6h0M415.2 344.3h0M367.7 333.0h0M423.5 358.1h0M308.8 361.5h0M414.1 367.1h0M403.7 344.9h0M412.9 350.4h0M401.4 330.2h0M457.4 361.7h0M452.4 343.2h0M364.4 383.9h0M394.6 404.6h0M355.4 323.3h0M369.5 355.9h0M474.7 330.0h0M347.1 331.3h0M433.6 361.2h0M468.1 368.0h0M426.6 351.2h0M445.2 376.2h0M344.8 358.5h0M374.8 345.2h0M354.7 395.3h0M459.7 370.2h0M388.4 358.4h0M357.4 375.1h0M390.2 377.1h0M445.9 354.3h0M333.2 381.4h0M430.3 322.6h0M399.8 330.6h0M385.3 361.3h0M410.2 328.9h0M361.7 392.0h0M346.3 356.5h0M326.4 379.3h0M409.4 359.5h0M324.9 347.3h0M365.6 352.6h0M355.5 376.9h0M435.6 351.3h0M375.1 388.5h0M392.5 349.7h0M402.9 351.5h0M390.3 353.1h0M433.6 335.8h0M371.6 344.8h0M402.9 342.6h0M407.7 361.0h0M404.3 360.4h0M410.9 347.4h0M444.7 339.7h0M457.7 393.8h0M343.1 366.6h0M355.7 356.5h0M489.3 325.8h0M375.1 343.7h0M296.1 357.4h0M385.8 332.6h0M411.1 339.4h0M446.6 334.1h0M411.4 351.0h0M420.3 363.6h0M404.0 352.7h0M443.7 350.4h0M320.6 364.5h0M395.8 374.8h0M402.7 333.8h0M447.2 349.8h0M336.4 363.4h0M431.2 346.8h0M340.7 383.7h0M385.4 355.3h0M390.2 359.2h0M293.4 376.5h0M393.7 370.8h0M365.9 340.5h0M365.7 360.4h0M303.9 339.7h0M406.8 367.3h0M455.5 372.0h0M454.0 378.1h0M449.1 365.0h0M435.3 354.4h0M329.7 338.1h0M369.5 372.7h0M384.7 381.1h0M394.9 363.3h0M368.5 345.7h0M387.7 366.8h0M432.4 374.8h0M333.0 382.2h0M419.6 379.7h0M389.8 351.6h0M411.6 361.1h0M401.8 357.6h0M407.3 383.5h0M377.9 324.4h0M438.3 322.9h0M441.7 381.0h0M424.3 381.0h0M356.5 371.9h0M382.5 354.0h0M403.3 378.2h0M482.3 355.4h0M427.1 342.7h0M417.3 371.2h0M446.3 332.1h0M334.4 364.2h0M420.6 351.4h0M369.7 396.4h0M399.9 326.5h0M325.0 364.0h0M285.0 383.2h0M327.2 376.3h0M411.3 365.8h0M408.9 337.4h0M407.4 386.9h0M383.4 347.9h0M438.4 400.2h0M416.1 356.8h0M365.2 379.2h0M390.8 376.8h0M480.9 346.1h0M368.0 355.5h0M337.6 382.3h0M329.6 348.0h0M300.8 375.2h0M330.7 351.5h0M451.1 371.2h0M420.5 360.9h0M415.2 362.7h0M428.1 385.9h0M360.9 338.1h0M373.1 336.1h0M396.0 316.3h0M456.9 423.9h0M370.0 347.6h0M329.4 382.1h0M350.5 349.9h0M458.6 346.3h0M387.3 339.5h0M334.0 402.8h0M405.3 339.4h0M425.8 335.0h0M355.3 366.0h0M361.8 370.2h0M346.1 365.2h0M316.0 334.8h0M372.6 359.0h0M423.8 375.6h0M418.6 341.4h0M387.2 392.3h0M326.3 345.7h0M396.5 367.4h0M437.3 361.5h0M440.4 350.2h0M365.7 379.9h0M349.4 326.3h0M435.4 355.6h0M397.2 330.6h0M457.5 366.7h0M433.5 317.0h0M443.5 371.6h0M394.0 343.3h0M337.2 377.3h0M412.5 348.5h0M381.0 392.0h0M421.4 352.2h0M384.5 349.6h0M421.2 344.1h0M365.0 347.7h0M397.0 325.0h0M438.7 360.3h0M458.2 318.4h0M336.1 354.3h0M406.9 345.3h0M405.2 348.6h0M402.7 338.0h0M393.0 349.7h0M401.5 353.6h0M373.8 360.3h0M416.6 388.2h0M459.3 349.1h0M319.4 372.7h0M458.4 375.7h0M334.2 374.3h0M375.9 352.2h0M352.0 400.7h0M423.3 324.9h0M382.1 343.9h0M418.8 363.5h0M304.2 342.0h0M391.6 359.8h0M431.8 370.8h0M392.5 355.5h0M346.4 349.8h0M396.4 367.3h0M466.9 348.8h0M436.8 344.2h0M449.2 318.6h0M352.5 370.7h0M392.3 393.8h0M367.1 334.5h0M385.2 342.9h0M349.4 385.1h0M361.4 329.3h0M453.8 334.8h0M337.7 367.2h0M424.3 357.2h0M385.9 370.5h0M366.5 325.2h0M426.1 373.1h0M401.4 341.6h0M454.2 381.4h0M488.1 374.3h0M423.8 345.0h0M376.8 380.9h0M365.5 351.8h0M318.0 334.5h0M396.4 347.2h0M365.3 326.6h0M492.5 351.4h0M367.9 335.3h0M364.1 382.1h0M349.5 333.8h0M388.3 383.8h0M366.9 372.9h0M312.3 320.6h0M443.7 353.6h0M414.8 350.8h0M469.1 343.3h0M424.5 352.4h0M394.0 400.9h0M437.1 353.0h0M391.7 330.3h0M445.3 336.6h0M393.8 345.3h0M405.8 406.1h0M311.5 345.6h0M374.7 388.2h0M409.2 324.7h0M399.6 346.0h0M390.1 347.8h0M446.8 346.8h0M448.1 362.4h0M336.0 365.5h0M396.8 352.8h0M415.6 327.0h0M489.8 360.5h0M407.6 355.6h0M373.2 370.9h0M389.3 336.5h0M449.7 384.4h0M282.5 363.4h0M438.4 329.4h0M447.0 374.2h0M385.5 334.5h0M445.7 340.9h0M359.9 350.0h0M343.5 362.6h0M319.7 407.1h0M384.8 351.3h0M411.9 368.0h0M400.0 366.6h0M330.5 350.9h0M395.2 323.0h0M418.8 357.3h0M458.7 364.7h0M344.8 324.6h0M409.6 363.1h0M385.5 379.4h0M396.8 340.4h0M367.0 369.6h0M394.6 382.0h0M330.1 332.8h0M436.7 342.8h0M366.1 362.6h0M378.3 333.9h0M409.7 356.3h0M417.4 361.3h0M448.7 372.2h0M356.6 382.1h0M381.9 365.2h0M334.4 338.2h0M413.3 349.9h0M396.1 321.2h0M401.3 371.2h0M343.9 401.9h0M423.8 326.9h0M338.7 368.1h0M335.4 372.5h0M368.0 422.6h0M351.7 401.7h0M417.6 348.2h0M397.6 379.1h0M357.9 374.0h0M437.6 318.4h0M422.0 360.3h0M380.5 351.3h0M355.7 393.7h0M343.5 351.9h0M403.5 367.6h0M389.5 389.6h0M404.6 379.5h0M407.8 329.6h0M404.3 356.6h0M360.4 365.2h0M406.8 368.7h0M389.3 351.7h0M291.5 378.5h0M368.0 341.1h0M442.1 347.7h0M407.9 389.3h0M371.0 351.0h0M367.2 326.5h0M408.5 388.4h0M373.4 328.7h0M321.1 341.9h0M329.9 362.7h0M497.6 374.9h0M377.6 374.2h0M392.7 379.2h0M399.4 374.6h0M406.8 370.4h0M422.9 358.8h0M395.2 350.9h0M373.4 345.3h0M381.9 407.7h0M388.2 377.2h0M466.1 363.6h0M469.2 383.7h0M424.9 369.5h0M469.9 370.9h0M368.5 363.0h0M355.9 370.8h0M289.9 361.8h0M430.1 329.3h0M411.0 363.4h0M335.7 371.4h0M416.1 358.7h0M377.9 352.5h0M402.0 362.6h0M437.2 356.8h0M420.2 333.2h0M389.2 356.4h0M372.8 341.3h0M436.7 329.9h0M341.1 366.6h0M406.6 363.6h0M433.5 376.5h0M454.5 351.5h0M323.1 367.7h0M415.6 360.4h0M380.8 370.2h0M382.0 340.0h0M432.8 377.9h0M402.4 342.2h0M272.9 313.7h0M423.9 356.1h0M343.3 324.7h0M416.7 378.8h0M366.0 330.2h0M359.2 359.1h0M392.3 321.0h0M416.1 365.9h0M348.5 388.7h0M447.6 350.0h0M365.8 383.6h0M410.1 353.9h0M471.7 332.7h0M374.6 351.3h0M403.9 339.6h0M422.9 370.6h0M430.7 369.3h0M436.9 394.3h0M398.6 339.8h0M395.4 354.6h0M402.0 344.3h0M371.7 339.8h0M312.0 349.9h0M407.3 369.4h0M394.1 371.7h0M512.0 380.4h0M372.0 350.2h0M338.2 354.0h0M364.2 347.9h0M415.5 357.6h0M370.8 358.1h0M417.4 345.4h0M366.4 361.0h0M369.0 381.1h0M399.3 329.9h0M396.6 365.6h0M329.2 342.9h0M412.6 353.7h0M382.3 352.8h0M478.7 351.5h0M383.2 390.1h0M406.4 354.6h0M349.3 351.6h0M416.2 333.2h0M367.3 392.8h0M400.1 367.4h0M430.8 357.8h0M331.6 338.6h0M298.0 349.7h0M379.8 393.4h0M396.8 338.2h0M416.1 335.5h0M448.7 387.8h0M372.0 335.2h0M376.1 372.5h0M346.4 399.7h0M411.9 330.2h0M441.7 335.3h0M388.5 385.4h0M432.6 386.5h0M367.9 401.7h0M370.8 363.1h0M451.1 361.6h0M447.7 332.1h0M396.5 351.6h0M345.9 356.6h0M402.5 364.0h0M338.3 338.2h0M415.0 352.2h0M373.6 379.3h0M349.3 392.4h0M387.3 370.8h0M502.6 375.7h0M414.6 391.2h0M338.5 399.7h0M420.9 356.9h0M320.7 320.8h0M364.9 364.6h0M401.9 373.5h0M488.1 344.8h0M358.8 384.2h0M415.0 377.4h0M379.0 408.8h0M306.1 356.7h0M419.6 357.8h0M500.3 347.0h0M426.8 334.4h0M355.7 366.0h0M387.1 405.3h0M415.5 343.9h0M346.3 339.3h0M399.8 360.6h0M363.8 342.2h0M391.9 368.6h0M372.5 351.9h0M394.6 346.3h0M408.6 345.9h0M359.4 358.7h0M462.0 389.1h0M415.0 399.1h0M481.2 365.7h0M458.9 389.3h0M385.2 377.3h0M415.8 370.6h0M352.6 338.8h0M410.7 338.6h0M349.0 375.0h0M446.1 369.7h0M408.9 403.1h0M428.1 343.7h0M403.4 401.0h0M356.2 341.6h0M366.5 324.4h0M433.1 371.5h0M479.4 373.4h0M469.6 328.9h0M442.0 341.2h0M401.9 352.2h0M432.5 390.6h0M388.8 339.7h0M389.9 355.6h0M383.3 378.7h0M435.8 359.5h0M407.7 348.3h0M331.8 358.8h0M407.0 386.0h0M450.5 356.7h0M418.3 379.1h0M365.6 334.8h0M394.9 350.0h0M393.7 342.6h0M434.3 379.5h0M420.1 332.1h0M381.2 319.6h0M434.5 366.6h0M310.3 381.4h0M309.1 403.9h0M427.1 320.6h0M306.4 328.4h0M462.0 385.3h0M405.5 371.0h0M399.3 346.4h0M449.1 363.0h0M484.0 381.8h0M397.1 370.2h0M413.6 317.0h0M350.4 356.3h0M336.9 361.1h0M335.5 381.8h0M454.1 384.3h0M375.6 359.8h0M464.2 369.0h0M341.9 348.6h0M353.5 337.6h0M400.6 362.1h0M439.0 325.2h0M370.2 326.4h0M359.8 369.9h0M475.4 358.7h0M410.6 354.5h0M413.2 391.0h0M360.1 364.9h0M385.1 349.6h0M357.0 383.7h0M495.2 356.5h0M384.8 320.6h0M297.6 342.7h0M335.3 344.4h0M287.2 362.6h0M329.8 354.0h0M307.7 368.0h0M441.7 356.8h0M376.8 350.6h0M333.3 349.1h0M482.5 352.7h0M368.7 347.6h0M469.6 324.4h0M379.0 338.4h0M392.8 368.6h0M419.1 331.5h0M464.4 386.5h0M391.3 364.7h0M464.6 352.7h0M353.2 321.6h0M492.9 352.4h0M409.8 349.2h0M398.5 368.3h0M383.8 382.8h0M404.9 379.3h0M420.1 372.7h0M402.8 376.9h0M328.7 396.0h0M481.6 372.5h0M363.6 370.8h0M352.4 344.6h0M346.8 359.3h0M424.9 369.9h0M356.1 319.7h0M379.4 399.9h0M463.8 353.8h0M432.8 372.0h0M345.7 359.7h0M388.7 331.9h0M415.2 354.6h0M346.8 331.6h0M358.6 332.8h0M419.2 319.2h0M378.7 384.6h0M458.2 340.4h0M331.0 332.0h0M367.5 322.5h0M355.3 353.2h0M405.9 391.6h0M360.8 354.5h0M435.8 336.5h0M477.6 353.6h0M390.7 341.0h0M412.5 351.1h0M367.4 339.6h0M443.8 388.0h0M354.6 405.0h0M386.4 348.3h0M413.4 335.7h0M347.0 361.5h0M425.0 359.2h0M383.6 378.6h0M407.7 344.7h0M376.1 352.8h0M336.5 356.9h0M423.2 353.2h0M401.1 365.7h0M399.9 367.6h0M375.9 366.6h0M417.3 317.1h0M373.3 368.9h0M400.8 361.3h0M466.4 314.6h0M376.0 358.4h0M413.0 341.7h0M373.9 354.0h0M407.0 331.1h0M382.9 374.3h0M428.2 371.6h0M365.4 379.1h0M376.2 368.0h0M466.1 368.4h0M401.1 369.5h0M473.5 384.3h0M384.8 357.8h0M343.6 376.3h0M390.5 331.0h0M411.2 374.4h0M383.4 353.3h0M329.5 392.8h0M315.8 368.4h0M473.1 337.9h0M355.7 366.9h0M414.2 347.7h0M435.4 382.5h0M432.4 358.4h0M319.6 357.2h0M330.3 332.4h0M417.7 359.5h0M367.8 352.0h0M332.0 358.9h0M417.8 381.3h0M425.1 330.9h0M392.5 355.2h0M328.4 390.4h0M405.4 353.5h0M349.9 349.0h0M383.5 361.7h0M402.5 383.8h0M399.7 359.0h0M380.3 382.8h0M386.7 334.8h0M420.5 387.2h0M396.3 350.5h0M354.7 380.4h0M391.0 342.9h0M438.1 400.9h0M367.4 362.5h0M363.3 348.2h0M411.3 394.0h0M341.7 374.1h0M419.9 406.9h0M362.1 358.6h0M399.6 329.2h0M406.5 366.2h0M409.4 318.1h0M441.7 375.9h0M381.3 359.2h0M392.3 354.1h0M488.7 336.7h0M347.6 336.6h0M335.4 338.1h0M383.4 359.2h0M326.1 335.6h0M332.7 384.4h0M442.8 405.6h0M440.1 369.5h0M435.5 338.1h0M467.0 356.4h0M299.9 357.0h0M399.3 337.4h0M363.1 350.6h0M439.5 385.3h0M347.0 339.0h0M412.2 376.8h0M431.8 351.6h0M437.8 334.8h0M465.7 350.5h0M461.7 376.3h0M398.6 354.8h0M325.1 320.0h0M437.2 483.8h0M332.8 411.5h0M454.2 441.1h0M456.7 390.6h0M280.6 439.3h0M339.3 370.8h0M447.6 447.5h0M433.5 359.6h0M268.7 349.5h0M472.5 365.2h0M361.4 355.2h0M433.5 365.3h0M392.9 388.7h0M373.0 362.7h0M444.8 373.9h0M320.9 394.9h0M492.8 357.6h0M294.7 428.7h0M399.9 403.6h0M347.9 413.6h0M314.3 415.5h0M535.4 423.8h0M326.2 348.9h0M432.4 383.9h0M502.4 410.6h0M412.9 411.5h0M487.6 385.9h0M381.8 464.1h0M301.7 400.1h0M317.9 407.6h0M364.8 398.7h0M338.5 342.6h0M308.1 441.0h0M610.5 473.1h0M304.2 448.2h0M428.7 379.4h0M445.0 515.0h0M398.4 361.6h0M345.4 416.2h0M415.3 337.8h0M295.2 398.4h0M353.3 475.3h0M298.6 330.0h0M414.0 407.7h0M606.4 427.4h0M349.9 412.3h0M437.6 436.2h0M347.1 327.3h0M304.7 406.0h0M289.7 477.1h0M351.3 423.9h0M417.1 349.4h0M387.1 395.2h0M331.6 409.6h0M459.2 339.1h0M518.5 325.9h0M430.6 410.7h0M603.0 395.7h0M335.3 371.9h0M393.0 437.9h0M417.0 364.5h0M458.1 360.4h0M390.7 424.1h0M357.6 400.8h0M416.4 411.5h0M342.4 429.8h0M399.6 381.3h0M467.4 424.9h0M413.7 436.2h0M364.9 415.1h0M310.7 376.5h0M323.1 485.1h0M293.9 388.8h0M297.1 353.3h0M387.7 380.8h0M372.7 390.8h0M340.5 384.4h0M585.9 402.0h0M342.1 411.7h0M371.6 488.7h0M324.8 414.4h0M333.8 382.1h0M345.3 375.2h0M393.3 376.4h0M652.4 390.9h0M383.9 375.0h0M316.9 433.3h0M348.0 367.7h0M511.2 386.7h0M449.2 367.7h0M397.4 401.7h0M358.2 318.8h0M331.3 351.2h0M400.1 377.9h0M304.7 393.4h0M513.5 430.0h0M423.1 352.5h0M347.4 484.0h0M290.6 371.0h0M348.2 373.9h0M431.3 434.0h0M466.0 349.7h0M331.6 482.6h0M491.9 383.1h0M381.5 344.5h0M349.1 501.2h0M492.0 438.7h0M320.8 397.8h0M495.7 371.9h0M328.2 369.6h0M284.3 478.9h0M478.8 361.1h0M395.2 369.8h0M349.3 436.4h0M445.2 393.7h0M662.8 385.1h0M437.2 404.2h0M411.7 393.0h0M278.9 376.9h0M525.9 379.4h0M467.8 395.7h0M453.8 338.9h0M505.9 415.6h0M378.2 396.6h0M374.8 390.7h0M375.7 463.8h0M388.2 361.9h0M367.7 426.8h0M416.2 450.1h0M417.8 460.6h0M441.2 402.0h0M421.3 399.4h0M492.7 388.0h0M549.0 371.2h0M395.8 411.3h0M339.1 391.3h0M343.0 366.2h0M424.2 407.6h0M310.4 393.9h0M280.6 470.8h0M294.2 420.9h0M416.6 369.8h0M385.2 387.4h0M416.5 366.7h0M325.2 397.4h0M381.3 382.0h0M421.5 399.2h0M343.6 383.4h0M399.5 379.2h0M552.2 413.4h0M482.9 330.9h0M596.6 379.7h0M339.5 377.8h0M390.9 449.3h0M336.1 433.7h0M388.9 348.0h0M324.0 348.9h0M348.0 403.6h0M349.8 415.2h0M386.6 368.5h0M425.1 374.9h0M385.8 460.0h0M497.4 375.6h0M404.5 440.9h0M616.8 403.5h0M486.6 344.4h0M400.7 409.0h0M275.3 438.0h0M377.3 344.0h0M384.9 458.5h0M362.6 333.3h0M368.3 408.2h0M404.3 410.4h0M328.9 351.5h0M389.5 405.7h0M517.2 416.5h0M458.0 378.3h0M340.3 381.6h0M477.4 394.5h0M425.1 364.7h0M316.9 396.9h0M583.8 379.7h0M486.3 390.1h0M368.4 357.4h0M298.9 377.2h0M365.8 441.7h0M394.8 372.7h0M390.6 394.3h0M384.3 425.2h0M454.2 372.9h0M410.5 330.5h0M509.9 405.5h0M279.6 377.2h0M415.6 415.9h0M303.7 400.2h0M338.3 412.0h0M331.1 417.9h0M338.8 398.8h0M490.6 423.5h0M365.1 475.4h0M292.2 344.4h0M590.1 367.4h0M510.9 377.1h0M387.7 384.5h0M306.6 426.6h0M523.1 423.4h0M440.0 430.0h0M374.0 378.0h0M385.0 402.8h0M472.7 354.9h0M300.8 401.2h0M658.1 394.0h0M399.0 347.6h0M376.1 356.2h0M395.3 405.4h0M481.9 413.2h0M398.1 355.4h0M306.6 373.3h0M341.5 380.8h0M393.7 385.4h0M548.0 374.7h0M442.5 422.8h0M375.7 410.1h0M285.5 391.3h0M339.9 367.8h0M363.8 404.1h0M415.2 439.7h0M372.0 387.2h0M341.2 439.9h0M311.3 373.2h0M508.4 410.6h0M350.6 404.3h0M461.1 334.8h0M293.0 359.8h0M311.9 423.7h0M359.1 468.3h0M432.1 391.1h0M481.7 387.7h0M404.2 419.4h0M393.3 375.4h0M536.4 368.0h0M416.8 394.6h0M307.2 449.7h0M404.0 347.1h0M397.1 366.0h0M460.8 373.3h0M314.4 365.8h0M362.4 345.4h0M688.8 412.4h0M295.5 398.7h0M411.9 369.2h0M365.5 354.9h0M440.9 344.9h0M483.1 384.1h0M499.4 375.2h0M272.7 361.6h0M311.2 333.0h0M486.7 354.4h0M537.6 343.3h0M479.4 382.5h0M356.4 390.7h0M308.8 398.4h0M332.4 341.1h0M323.8 334.0h0M434.4 386.3h0M464.6 425.3h0M596.6 429.3h0M378.5 348.4h0M503.2 373.5h0M410.5 465.8h0M398.5 409.5h0M330.8 359.5h0M299.2 417.9h0M415.0 440.1h0M437.1 383.7h0M353.1 396.3h0M422.2 419.7h0M417.6 469.8h0M427.8 388.7h0M462.7 358.6h0M534.0 344.8h0M547.7 365.8h0M317.5 386.6h0M301.1 346.1h0M306.5 383.6h0M457.7 369.4h0M339.4 446.2h0M343.2 356.1h0M290.0 430.8h0M418.4 470.5h0M579.2 370.7h0M352.9 430.2h0M325.2 434.8h0M374.3 421.7h0M339.0 413.3h0M300.1 427.5h0M391.5 375.1h0M369.7 332.9h0M406.0 419.8h0M308.2 359.5h0M342.3 348.2h0M379.9 402.3h0M359.9 380.4h0M449.5 367.5h0M403.6 444.0h0M299.0 356.0h0M294.0 418.8h0M300.6 385.7h0M473.5 395.7h0M530.7 378.6h0M441.7 443.8h0M334.8 362.0h0M483.6 338.7h0M335.5 372.4h0M284.3 435.4h0M395.9 352.1h0M417.1 409.9h0M397.2 400.7h0M351.8 392.7h0M300.0 391.4h0M308.0 455.9h0M567.0 377.5h0M288.5 401.2h0M430.1 441.0h0M339.3 361.9h0M394.2 409.0h0M355.4 360.6h0M395.3 404.3h0M402.5 471.0h0M432.4 408.2h0M293.0 385.6h0M462.6 364.9h0M372.2 459.9h0M537.7 328.5h0M510.6 367.9h0M525.7 400.5h0M439.9 346.4h0M312.3 422.1h0M341.7 325.8h0M375.2 363.3h0M280.9 388.3h0M481.7 349.9h0M414.4 451.6h0M330.1 390.8h0M397.1 430.6h0M628.8 426.8h0M441.4 375.1h0M350.7 366.9h0M309.0 357.1h0M348.6 397.1h0M393.4 374.4h0M415.8 455.3h0M377.7 388.9h0M694.9 381.6h0M556.1 391.8h0M320.9 415.9h0M328.1 354.7h0M446.4 341.7h0M469.9 362.3h0M360.3 401.5h0M507.7 451.2h0M534.3 403.8h0M666.1 391.1h0M309.2 424.3h0M375.6 375.7h0M419.9 440.4h0M311.0 320.5h0M307.4 521.7h0M511.4 368.9h0M316.3 334.1h0M326.1 411.4h0M354.5 387.1h0M292.0 444.4h0M496.0 349.1h0M391.5 438.0h0M337.5 374.9h0M394.7 361.9h0M357.7 397.0h0M381.6 384.4h0M339.8 331.7h0M460.2 368.5h0M361.4 420.8h0M363.9 316.6h0M398.2 341.8h0M313.6 371.4h0M428.5 350.7h0M395.9 368.8h0M337.1 322.5h0M434.2 419.3h0M310.1 393.9h0M331.6 380.0h0M313.3 388.7h0M331.9 443.1h0M373.6 372.3h0M360.6 347.0h0M405.4 396.1h0M390.8 369.8h0M462.8 335.6h0M289.5 394.5h0M283.1 405.3h0M282.7 388.0h0M388.5 397.4h0M289.0 404.6h0M483.1 385.9h0M551.2 435.4h0M373.3 454.6h0M366.9 365.1h0M416.8 351.8h0M407.4 397.9h0M478.4 431.8h0M409.2 368.4h0M592.3 402.5h0M436.8 400.7h0M360.7 405.0h0M292.5 405.3h0M354.4 415.0h0M364.5 421.4h0M427.5 411.4h0M434.0 474.1h0M364.1 346.8h0M500.9 424.7h0M403.9 387.1h0M581.4 396.1h0M397.8 397.1h0M417.3 361.0h0M308.4 354.1h0M417.7 406.2h0M364.5 461.3h0M361.2 391.2h0M321.5 350.5h0M434.0 423.6h0M439.2 389.2h0M389.1 415.3h0M437.0 326.5h0M653.8 384.2h0M476.3 419.4h0M580.8 417.0h0M420.8 387.5h0M344.4 429.7h0M323.6 407.6h0M445.2 349.5h0M422.9 436.9h0M374.7 367.5h0M330.1 368.6h0M392.5 389.7h0M382.5 390.5h0M383.1 393.5h0M569.4 402.7h0M413.4 331.8h0M431.3 362.2h0M356.6 417.9h0M334.1 385.6h0M337.3 343.3h0M414.6 350.2h0M271.3 323.0h0M344.9 404.2h0M314.0 423.0h0M334.2 340.3h0M443.8 354.4h0M373.2 403.1h0M478.2 447.9h0M420.1 412.3h0M337.6 345.4h0M384.0 427.8h0M340.3 483.3h0M358.4 441.8h0M450.1 396.1h0M430.0 440.0h0M439.8 378.8h0M462.8 381.5h0M449.2 398.9h0M356.0 449.8h0M369.3 421.3h0M312.1 442.7h0M457.8 430.9h0M324.5 412.7h0M423.5 385.6h0M405.8 404.0h0M326.5 374.4h0M386.8 381.7h0M325.8 415.9h0M313.0 387.5h0M366.2 376.3h0M473.3 346.6h0M440.3 369.3h0M343.0 343.6h0M353.8 355.2h0M358.7 404.0h0M387.7 334.8h0M359.7 423.5h0M474.1 384.7h0M310.4 360.2h0M309.6 374.1h0M443.7 439.4h0M532.1 350.2h0M369.8 362.2h0M378.8 317.7h0M366.2 390.9h0M420.1 433.5h0M467.1 400.9h0M425.4 335.2h0M345.5 363.0h0M422.2 382.3h0M404.1 407.1h0M307.2 438.8h0M436.9 369.1h0M512.2 420.8h0M331.9 378.3h0M374.0 337.1h0M350.6 386.0h0M362.0 418.8h0M335.9 434.1h0M305.6 377.4h0M409.5 344.7h0M399.5 421.5h0M323.7 403.3h0M334.8 378.3h0M337.2 367.7h0M356.0 405.8h0M411.4 346.0h0M582.6 394.3h0M324.2 406.8h0M405.7 346.0h0M344.3 455.6h0M388.2 413.9h0M560.5 431.1h0M337.8 437.1h0M370.1 427.0h0M402.0 421.9h0M491.0 358.3h0M404.1 372.6h0M299.2 369.2h0M332.9 360.9h0M408.3 321.0h0M396.0 431.6h0M421.3 390.8h0M343.0 349.7h0M308.7 359.8h0M334.3 360.1h0M353.7 438.9h0M420.3 351.0h0M306.6 425.5h0M381.7 427.0h0M420.2 406.6h0M428.3 487.4h0M300.5 469.4h0M388.6 434.6h0M364.4 376.8h0M481.8 376.6h0M369.2 399.2h0M421.2 375.8h0M421.6 386.9h0M349.5 352.2h0M295.1 421.2h0M324.2 324.0h0M582.7 457.9h0M497.7 379.5h0M295.0 403.2h0M403.8 451.4h0M377.8 443.5h0M487.1 354.4h0M348.1 382.5h0M301.1 457.1h0M398.0 403.9h0M396.0 356.8h0M508.6 361.9h0M400.6 369.3h0M309.0 388.0h0M415.7 429.5h0M432.4 359.9h0M444.1 378.2h0M452.8 384.0h0M391.9 363.1h0M339.7 415.7h0M420.6 319.9h0M281.2 421.3h0M349.9 450.7h0M350.3 415.2h0M401.9 388.2h0M372.6 372.7h0M560.8 408.4h0M404.1 368.4h0M469.3 379.5h0M331.5 390.9h0M306.4 438.1h0M351.7 398.6h0M321.3 345.6h0M324.3 383.3h0M298.9 391.8h0M376.0 408.1h0M400.6 364.8h0M354.8 376.8h0M390.1 373.8h0M412.1 323.3h0M442.5 371.9h0M470.1 397.2h0M379.1 419.0h0M345.1 376.3h0M344.9 345.8h0M298.9 413.7h0M370.9 411.9h0M422.7 383.6h0M314.4 424.1h0M488.3 358.0h0M376.6 396.0h0M320.0 387.4h0M477.6 411.7h0M346.8 382.8h0M368.4 364.8h0M422.8 410.3h0M372.6 386.9h0M552.5 395.2h0M360.4 452.4h0M391.5 340.5h0M344.9 374.0h0M419.2 383.0h0M386.8 414.3h0M466.5 360.7h0M341.8 415.2h0M532.8 363.9h0M284.8 443.5h0M370.5 368.2h0M331.3 394.6h0M357.7 364.8h0M471.4 455.1h0M701.3 423.2h0M317.9 335.8h0M386.2 402.7h0M298.0 381.5h0M512.0 354.8h0M399.8 368.0h0M302.3 346.6h0M420.3 390.3h0M551.5 347.7h0M387.5 386.5h0M361.3 379.7h0M408.4 393.1h0M456.2 411.9h0M403.2 441.2h0M308.6 478.7h0M318.1 439.7h0M420.9 319.1h0M373.6 373.6h0M491.7 399.0h0M311.2 394.0h0M312.7 368.4h0M376.7 374.8h0M473.2 384.9h0M299.2 409.6h0M354.5 389.9h0M486.2 336.1h0M316.4 381.0h0M304.0 345.2h0M554.3 364.7h0M364.5 440.7h0M440.7 416.1h0M295.0 334.8h0M340.4 355.4h0M351.2 399.8h0M342.4 382.4h0M300.6 469.0h0M417.5 402.3h0M305.2 324.6h0M364.6 368.3h0M455.0 400.8h0M499.3 483.3h0M332.0 361.8h0M363.7 376.3h0M391.7 464.0h0M398.2 360.3h0M329.4 380.2h0M572.4 452.9h0M561.7 366.7h0M424.8 382.3h0M375.1 367.0h0M390.4 353.9h0M373.1 473.1h0M286.8 353.6h0M389.5 361.5h0M372.5 408.5h0M349.2 378.2h0M402.4 351.6h0M307.9 343.1h0M377.8 343.0h0M357.4 413.2h0M316.0 360.3h0M486.0 379.5h0M318.8 365.0h0M563.3 397.8h0M342.3 454.1h0M521.4 335.7h0M284.9 416.3h0M551.8 458.9h0M305.6 354.6h0M322.6 343.5h0M445.4 432.5h0M385.5 372.1h0M309.7 381.5h0M322.9 442.5h0M414.5 374.7h0M365.9 351.5h0M335.9 384.1h0M374.8 391.0h0M408.2 410.4h0M361.4 398.8h0M475.6 332.7h0M411.0 396.6h0M370.3 374.1h0M291.6 363.3h0M509.8 334.3h0M356.4 420.6h0M474.4 398.9h0M390.6 382.3h0M541.3 395.2h0M424.7 345.8h0M293.8 395.3h0M416.6 413.5h0M277.5 410.5h0M308.2 387.9h0M484.0 416.8h0M354.1 442.2h0M439.9 410.2h0M335.9 421.8h0M301.7 379.3h0M368.0 370.0h0M302.5 360.3h0M403.2 440.0h0M365.0 360.5h0M414.3 422.6h0M278.6 385.2h0M367.6 399.1h0M328.0 409.5h0M400.7 435.2h0M353.5 370.6h0M376.3 377.4h0M320.4 372.7h0M324.8 420.6h0M577.0 408.9h0M409.0 396.3h0M320.0 384.2h0M418.9 364.4h0M439.3 442.2h0M365.4 355.0h0M343.8 414.7h0M459.2 405.2h0M403.5 435.5h0M340.6 377.0h0M291.8 384.9h0M528.7 428.8h0M470.2 441.3h0M379.0 436.3h0M344.3 450.3h0M562.2 405.3h0M606.1 373.3h0M596.8 396.3h0M517.1 381.5h0M438.2 379.3h0M344.4 357.2h0M415.2 375.0h0M390.6 400.3h0M331.3 438.3h0M295.2 389.4h0M290.1 393.0h0M374.1 359.3h0M424.3 349.6h0M281.0 402.0h0M351.3 408.6h0M463.5 453.0h0M396.2 434.2h0M543.8 426.3h0M432.5 406.5h0M460.8 401.4h0M392.8 353.7h0M494.1 422.8h0M394.4 319.5h0M412.2 391.5h0M383.2 392.2h0M317.5 356.3h0M471.8 423.2h0M325.5 328.7h0M540.1 365.3h0M360.0 451.1h0M411.4 354.5h0M377.7 334.3h0M310.2 365.0h0M421.1 368.0h0M351.6 434.2h0M444.7 466.7h0M641.8 462.5h0M597.2 376.1h0M289.7 321.1h0M385.3 459.7h0M418.1 413.4h0M351.0 402.3h0M340.4 362.6h0M382.9 357.5h0M340.0 397.9h0M409.7 387.0h0M494.0 374.3h0M421.1 390.2h0M397.7 461.6h0M488.8 408.6h0M356.4 416.7h0M511.4 411.1h0M374.4 433.5h0M327.7 398.3h0M373.0 396.3h0M497.6 368.8h0M386.2 444.8h0M325.6 403.8h0M417.8 410.1h0M315.2 381.5h0M388.2 345.5h0M370.9 378.1h0M486.1 394.0h0M385.7 413.0h0M392.1 376.6h0M355.4 395.5h0M368.3 404.5h0M452.5 359.7h0M341.0 452.9h0M534.9 362.9h0M600.5 454.2h0M296.6 369.6h0M465.1 362.3h0M415.0 349.8h0M370.8 468.9h0M381.3 358.6h0M455.9 344.8h0M497.2 405.9h0M312.9 398.8h0M288.5 365.4h0M398.7 348.0h0M370.2 417.5h0M488.9 355.4h0M417.8 438.4h0M322.5 383.1h0M400.6 391.4h0M272.8 357.7h0M290.3 419.7h0M407.0 375.8h0M326.2 352.7h0M293.7 416.2h0M376.4 415.5h0M413.5 370.4h0M477.2 439.9h0M468.0 395.8h0M302.0 420.8h0M359.4 449.6h0M389.9 387.9h0M381.9 360.1h0M360.1 387.0h0M400.4 370.9h0M437.2 472.1h0M548.0 387.8h0M337.0 449.5h0M373.3 406.9h0M286.6 436.5h0M311.0 328.8h0M324.8 388.6h0M514.8 343.0h0M388.1 445.4h0M414.6 371.3h0M340.4 398.5h0M326.6 409.4h0M315.7 379.5h0M304.5 403.7h0M413.0 399.9h0M494.7 396.0h0M416.9 410.0h0M538.4 447.3h0M415.2 413.2h0M458.6 346.4h0M312.3 399.7h0M417.6 377.5h0M475.5 477.8h0M357.8 346.1h0M467.9 466.6h0M322.1 428.4h0M311.1 329.6h0M323.1 408.8h0M318.9 363.6h0M369.4 384.3h0M313.7 399.3h0M309.5 374.5h0M296.9 348.9h0M276.3 335.6h0M432.3 332.4h0M486.7 345.0h0M304.3 378.8h0M345.9 371.8h0M390.2 388.2h0M332.6 371.5h0M356.2 380.5h0M394.7 369.7h0M460.9 427.6h0M335.5 364.7h0M323.3 414.0h0M520.2 382.3h0M494.2 372.4h0M328.1 423.0h0M351.1 391.3h0M357.9 397.5h0M470.6 428.4h0M366.8 402.1h0M499.8 420.9h0M324.9 432.7h0M489.8 488.6h0M355.3 370.9h0M368.9 446.5h0M516.9 449.3h0M272.5 431.9h0M469.9 402.9h0M303.0 451.8h0M459.2 483.5h0M486.4 371.6h0M312.1 423.7h0M315.8 411.7h0M530.7 398.2h0M379.2 347.3h0M431.0 440.1h0M458.4 414.8h0M690.6 420.6h0M400.4 454.9h0M421.4 405.0h0M481.4 418.9h0M406.7 421.6h0M444.5 369.6h0M297.1 378.9h0M517.8 383.2h0M435.1 407.4h0M488.2 341.9h0M441.8 406.1h0M290.1 354.7h0M346.7 367.5h0M357.9 418.7h0M371.5 413.0h0M345.6 403.5h0M603.1 411.9h0M297.7 351.7h0M390.0 359.9h0M337.1 370.0h0M421.4 374.3h0M402.7 460.4h0M458.9 412.5h0M396.2 445.1h0M333.1 393.4h0M390.0 429.7h0M504.3 331.8h0M325.3 402.5h0M558.7 370.2h0M274.2 437.7h0M370.9 374.8h0M374.8 385.3h0M464.6 386.3h0M465.9 365.1h0M352.9 409.3h0M346.2 413.8h0M347.4 341.9h0M331.2 411.4h0M360.2 406.1h0M280.7 416.1h0M406.0 405.5h0M315.5 419.7h0M522.5 367.4h0M364.9 413.0h0M556.7 401.3h0M308.6 442.6h0M553.5 338.7h0M381.1 346.9h0M282.8 415.4h0M349.9 332.2h0M460.7 337.3h0M449.3 409.9h0M287.5 376.6h0M354.2 419.8h0M375.8 383.4h0M335.7 339.1h0M419.9 385.9h0M296.9 373.5h0M390.8 396.3h0M333.2 407.7h0M288.5 399.8h0M496.4 358.1h0M373.2 366.0h0M418.5 386.2h0M390.6 419.5h0M454.2 424.0h0M453.9 475.0h0M289.9 358.2h0M622.3 485.5h0M495.2 405.3h0M371.2 409.8h0M452.2 351.0h0M344.5 369.6h0M360.2 400.8h0M369.0 444.9h0M392.1 379.2h0M327.4 337.6h0M452.4 409.0h0M395.7 314.5h0M291.3 358.9h0M419.0 395.4h0M409.7 396.0h0M369.5 370.7h0M479.0 389.6h0M304.7 359.7h0M499.5 393.1h0M335.4 399.8h0M285.1 360.3h0M314.4 395.3h0M427.9 448.0h0M402.6 341.9h0M361.4 382.2h0M440.9 438.8h0M310.2 401.3h0M417.8 385.8h0M410.1 388.6h0M410.8 427.9h0M466.9 419.8h0M327.5 426.5h0M292.3 407.1h0M407.3 427.4h0M339.3 356.6h0M304.8 414.3h0M450.2 377.8h0M486.7 361.0h0M339.6 406.1h0M447.5 382.9h0M361.6 412.8h0M327.8 363.9h0M403.0 372.3h0M432.4 362.1h0M349.7 415.4h0M387.3 509.7h0M479.9 379.5h0M349.7 401.8h0M350.1 474.3h0M325.2 352.7h0M398.3 400.6h0M554.9 414.1h0M296.8 387.2h0M371.2 347.7h0M332.9 339.1h0M337.0 430.2h0M350.6 374.4h0M375.7 426.1h0M325.7 493.6h0M402.2 387.8h0M360.9 325.2h0M419.7 348.2h0M474.7 345.4h0M394.5 391.7h0M366.3 328.8h0M351.5 395.7h0M478.3 356.3h0M288.6 354.9h0M305.9 458.5h0M435.2 388.8h0M397.3 387.3h0M420.4 396.6h0M411.0 397.6h0M282.7 396.6h0M492.0 474.3h0M424.8 350.3h0M361.9 459.5h0M428.7 376.0h0M284.7 462.6h0M476.2 406.3h0M317.2 351.4h0M418.0 386.7h0M332.4 480.2h0M420.0 389.0h0M323.4 358.3h0M382.8 390.0h0M352.0 390.1h0M376.5 369.7h0M343.2 415.5h0M402.5 373.5h0M294.1 342.5h0M363.0 404.4h0M474.9 447.0h0M481.5 376.5h0M296.6 363.6h0M283.6 420.5h0M557.3 410.3h0M349.4 369.0h0M385.7 341.7h0M430.1 372.4h0M446.2 431.2h0M309.4 352.3h0M472.4 388.3h0M459.3 331.6h0M383.9 398.8h0M317.8 357.8h0M287.8 398.7h0M643.2 483.7h0M305.7 404.2h0M332.1 481.3h0M417.3 403.3h0M466.8 406.2h0M600.9 365.1h0M321.2 374.0h0M288.5 443.4h0M339.0 404.7h0M438.0 368.7h0M360.3 365.8h0M313.1 436.0h0M304.6 428.6h0M477.7 409.7h0M385.0 361.6h0M294.1 402.3h0M414.0 436.4h0M371.4 389.5h0M406.3 407.6h0M334.6 347.6h0M491.2 305.6h0M310.4 402.1h0M353.6 364.3h0M469.6 379.1h0M572.5 437.8h0M364.2 423.1h0M307.4 431.9h0M331.3 355.8h0M436.3 349.9h0M320.5 339.1h0M440.3 379.0h0M453.7 412.6h0M330.0 372.5h0M498.8 347.9h0M389.7 371.2h0M397.2 440.2h0M385.0 449.8h0M439.2 372.0h0M456.4 381.9h0M327.0 426.0h0M405.6 375.8h0M368.0 394.7h0M386.3 442.6h0M397.5 363.4h0M417.1 416.9h0M403.6 405.2h0M425.1 406.1h0M334.0 424.9h0M426.0 408.1h0M417.9 400.0h0M519.5 380.7h0M360.2 403.0h0M343.3 419.3h0M464.1 408.3h0M591.7 367.2h0M395.9 389.3h0M359.9 414.6h0M413.0 390.7h0M479.7 399.7h0M388.6 406.1h0M374.9 355.4h0M471.1 326.6h0M480.6 395.0h0M407.7 429.2h0M365.9 289.9h0M367.2 390.8h0M333.9 393.4h0M485.2 388.8h0M435.8 415.7h0M433.7 365.5h0M505.7 384.1h0M376.3 377.0h0M331.9 344.1h0M360.8 480.9h0M619.4 420.5h0M360.4 410.3h0M369.6 362.2h0M404.8 335.6h0M349.0 362.7h0M482.1 373.0h0M323.2 409.5h0M356.8 391.2h0M359.3 441.2h0M389.9 332.6h0M285.0 445.6h0M582.4 476.3h0M419.3 374.1h0M370.6 354.5h0M541.9 354.2h0M270.4 377.1h0M662.0 402.3h0M581.7 383.8h0M463.5 410.2h0M387.7 379.2h0M501.4 392.7h0M687.5 391.2h0M563.3 458.8h0M352.4 360.8h0M520.4 345.2h0M390.7 378.1h0M404.5 394.2h0M313.4 407.0h0M324.5 421.8h0M292.0 388.0h0M401.4 425.2h0M482.8 374.1h0M396.6 368.5h0M357.4 489.5h0M371.7 338.0h0M284.6 353.6h0M673.2 418.1h0M494.9 334.4h0M319.4 384.8h0M360.9 425.4h0M442.7 370.2h0M565.5 450.1h0M542.7 384.5h0M280.6 391.1h0M302.3 384.5h0M396.6 416.6h0M448.3 363.7h0M363.7 408.2h0M448.1 420.7h0M428.4 374.0h0M307.4 350.4h0M429.2 426.8h0M395.9 318.7h0M269.1 335.4h0M474.8 403.1h0M461.4 403.8h0M437.1 389.1h0M325.4 379.0h0M418.9 363.5h0M429.2 454.5h0M373.6 348.4h0M368.8 430.6h0M352.7 414.1h0M425.7 421.8h0M580.1 421.2h0M326.8 369.3h0M391.7 413.0h0M528.9 396.3h0M336.7 366.7h0M325.6 377.8h0M480.3 408.8h0M367.8 362.9h0M417.0 384.7h0M498.9 402.2h0M371.7 393.6h0M310.8 384.3h0M354.2 362.5h0M391.4 399.1h0M509.4 411.8h0M347.1 404.7h0M460.2 422.7h0M363.1 373.1h0M496.8 444.8h0M440.6 456.4h0M399.4 419.7h0M326.7 395.1h0M367.0 355.1h0M449.5 332.5h0M383.7 360.6h0M308.0 420.2h0M352.7 357.9h0M317.2 312.1h0M392.4 376.3h0M307.3 432.4h0M407.9 407.8h0M460.7 421.0h0M359.7 389.7h0M423.4 383.1h0M366.7 387.7h0M343.7 391.1h0M433.8 480.8h0M299.2 407.1h0M396.1 430.1h0M407.3 337.5h0M338.4 363.4h0M328.0 363.9h0M456.6 407.6h0M506.2 387.5h0M291.3 369.5h0M560.3 415.0h0M353.3 393.7h0M325.2 392.4h0M397.0 383.2h0M457.9 337.4h0M388.6 407.9h0M429.1 392.1h0M287.2 400.9h0M324.8 372.8h0M533.2 387.7h0M327.5 426.2h0M407.9 375.0h0M394.1 414.1h0M297.9 388.7h0M456.1 382.1h0M381.7 397.9h0M329.4 395.4h0M390.7 446.6h0M428.2 352.5h0M321.4 320.6h0M295.1 376.6h0M298.6 366.2h0M422.2 421.1h0M352.9 351.2h0M416.8 366.5h0M448.2 381.2h0M559.1 353.5h0M431.1 401.5h0M397.9 365.0h0M353.4 383.5h0M284.5 434.8h0M398.0 454.7h0M640.6 361.5h0M428.8 348.7h0M288.5 508.4h0M319.8 338.8h0M458.2 365.0h0M422.7 428.8h0M386.7 349.4h0M307.6 476.8h0M414.7 419.5h0M296.3 422.0h0M427.5 430.6h0M371.6 355.7h0M432.5 452.3h0M337.8 360.0h0M597.3 391.5h0M342.4 344.5h0M461.1 398.6h0M354.7 367.8h0M382.6 475.3h0M377.1 361.3h0M321.1 403.7h0M384.6 453.6h0M309.7 396.4h0M342.9 420.0h0M324.0 355.5h0M333.7 389.5h0M566.7 453.2h0M348.8 372.0h0M348.7 383.0h0M310.9 420.2h0M359.6 342.9h0M342.9 374.7h0M390.3 369.9h0M401.9 383.3h0M307.4 383.8h0M359.8 375.2h0M524.1 350.9h0M562.8 400.3h0M347.6 365.1h0M466.5 356.1h0M288.2 377.0h0M547.7 395.2h0M411.3 420.7h0M431.3 409.9h0M379.2 342.7h0M354.3 394.2h0M333.6 368.1h0M304.1 374.3h0M286.1 388.4h0M464.8 365.3h0M283.1 376.3h0M585.8 396.5h0M340.9 409.7h0M426.1 374.6h0M400.7 364.5h0M470.4 346.9h0M559.2 400.7h0M542.1 334.8h0M526.9 403.3h0M336.2 416.8h0M409.2 440.5h0M435.3 462.1h0M318.1 397.5h0M565.8 379.3h0M328.5 366.1h0M472.6 410.7h0M461.9 409.8h0M473.1 388.5h0M359.0 379.0h0M299.2 342.1h0M390.7 374.9h0M425.2 372.6h0M369.4 420.0h0M350.8 463.6h0M299.5 463.6h0M350.4 319.0h0M506.5 429.0h0M357.2 414.2h0M296.9 379.7h0M366.5 441.5h0M369.9 371.1h0M294.6 458.1h0M476.6 421.6h0M286.0 330.2h0M395.7 370.0h0M387.8 428.1h0M399.1 336.2h0M319.5 411.1h0M404.5 405.9h0M372.8 423.5h0M309.2 443.6h0M359.4 387.3h0M392.8 380.4h0M470.6 366.7h0M396.0 437.9h0M361.8 415.3h0M291.9 404.4h0M270.7 413.1h0M317.8 369.9h0M384.7 428.8h0M427.2 460.9h0M504.9 385.9h0M511.6 376.4h0M600.1 452.8h0M441.8 458.3h0M350.2 399.8h0M675.5 405.1h0M376.3 340.4h0M560.4 346.0h0M290.1 411.3h0M475.1 426.0h0M576.1 448.3h0M521.2 386.3h0M342.6 353.6h0M490.4 373.4h0M430.1 404.8h0M351.1 409.0h0M363.2 388.0h0M470.9 371.2h0M394.1 379.3h0M425.5 423.8h0M296.5 427.1h0M418.6 391.6h0M429.7 413.0h0M295.4 384.0h0M590.0 411.2h0M322.7 356.2h0M333.0 387.4h0M386.3 384.6h0M478.0 364.8h0M492.6 399.1h0M444.6 386.7h0M407.2 404.2h0M331.8 357.5h0M418.8 369.6h0M361.8 373.0h0M570.5 381.9h0M342.1 430.1h0M528.5 390.7h0M429.8 421.0h0M301.6 325.5h0M323.3 359.6h0M440.1 441.8h0M368.3 359.3h0M285.0 395.3h0M303.3 379.3h0M366.5 378.2h0M441.7 416.6h0M465.7 426.7h0M452.9 404.1h0M391.9 446.3h0M349.6 412.5h0M402.4 354.1h0M334.7 412.9h0M312.9 450.4h0M431.1 368.3h0M391.2 349.4h0M391.0 410.8h0M413.2 395.7h0M277.5 360.2h0M355.8 383.3h0M331.9 411.8h0M289.3 355.7h0M351.4 405.7h0M321.1 431.5h0M317.4 314.8h0M336.8 393.3h0M368.4 356.4h0M361.5 378.7h0M302.2 415.9h0M350.1 419.1h0M296.6 380.5h0M380.8 364.5h0M616.6 403.8h0M274.4 338.9h0M314.2 398.0h0M388.7 396.7h0M463.2 448.6h0M321.3 389.5h0M309.0 435.2h0M295.3 383.7h0M439.2 385.9h0M553.6 372.2h0M275.7 412.9h0M482.1 412.3h0M414.3 369.4h0M510.6 376.8h0M406.1 447.9h0M342.8 347.9h0M508.9 416.6h0M546.2 421.8h0M426.9 476.0h0M375.4 368.9h0M297.4 399.7h0M319.2 353.2h0M476.3 433.9h0M420.3 390.9h0M336.1 336.8h0M277.0 403.9h0M330.3 374.2h0M386.9 385.1h0M375.8 403.4h0M319.8 402.4h0M273.0 313.0h0M415.1 409.1h0M567.1 348.1h0M415.9 393.3h0M511.0 361.6h0M428.9 377.1h0M442.2 394.9h0M393.8 402.4h0M362.5 360.4h0M295.4 356.2h0M447.3 403.3h0M515.3 396.0h0M457.1 371.4h0M509.2 435.0h0M492.7 408.4h0M447.9 457.0h0M313.3 487.4h0M353.5 439.7h0M387.1 392.5h0M278.8 362.7h0M620.7 398.3h0M311.8 420.7h0M455.2 467.6h0M356.8 386.8h0M630.0 428.8h0M439.8 410.8h0M411.3 396.5h0M361.6 363.0h0M327.4 354.5h0M392.2 425.9h0M402.3 348.1h0M419.1 435.2h0M387.5 371.3h0M303.9 449.8h0M479.0 405.7h0M338.6 380.9h0M396.7 415.6h0M467.5 353.5h0M369.8 438.0h0M422.6 401.3h0M537.6 398.7h0M433.3 422.3h0M324.6 414.4h0M421.2 338.5h0M293.8 345.7h0M544.0 388.2h0M369.8 341.7h0M335.7 401.6h0M390.5 427.7h0M479.8 336.4h0M371.0 393.4h0M291.9 426.7h0M434.6 412.2h0M565.1 373.4h0M342.0 391.7h0M448.4 377.3h0M327.4 384.3h0M319.8 406.3h0M482.9 361.2h0M385.4 368.3h0M402.1 369.5h0M306.4 389.4h0M290.0 432.8h0M696.7 430.1h0M348.5 452.1h0M594.1 353.8h0M354.4 371.1h0M277.5 438.7h0M362.3 453.4h0M324.9 439.9h0M301.3 379.5h0M341.5 384.2h0M528.4 438.2h0M376.3 401.7h0M366.4 340.0h0M373.5 455.9h0M505.1 387.8h0M545.5 449.1h0M294.6 427.0h0M326.1 419.0h0M395.1 346.6h0M689.9 399.8h0M359.1 352.4h0M498.7 461.9h0M282.0 408.7h0M316.5 308.4h0M402.2 386.3h0M290.4 403.8h0M571.7 389.4h0M402.5 421.0h0M462.9 405.2h0M354.5 373.8h0M333.1 378.7h0M604.5 459.1h0M404.5 348.9h0M316.5 406.0h0M338.8 341.2h0M417.1 358.9h0M420.4 393.4h0M333.8 377.5h0M391.2 394.3h0M333.7 406.6h0M448.4 456.2h0M346.5 403.8h0M310.8 369.3h0M461.3 445.7h0M398.1 409.1h0M326.6 347.0h0M359.8 426.4h0M687.6 444.6h0M386.9 350.8h0M398.8 371.5h0M473.5 325.2h0M594.8 399.6h0M374.0 408.9h0M348.6 378.5h0M473.2 351.9h0M370.4 389.8h0M307.7 432.5h0M407.8 447.6h0M349.7 369.1h0M377.5 341.9h0M518.6 401.5h0M357.2 398.1h0M294.9 413.0h0M350.3 393.3h0M421.8 406.6h0M444.5 362.5h0M290.0 370.6h0M304.1 411.8h0M310.5 402.8h0M404.8 332.0h0M460.2 332.5h0M361.5 405.2h0M447.2 442.6h0M326.4 382.9h0M409.4 444.4h0M454.0 412.0h0M324.1 384.2h0M380.9 384.6h0M411.3 399.3h0M375.4 355.3h0M499.8 363.2h0M292.5 427.8h0M408.6 386.8h0M361.9 403.3h0M279.3 382.8h0M341.2 459.5h0M308.0 408.0h0M322.8 405.3h0M337.7 400.2h0M331.5 388.6h0M318.9 387.0h0M324.3 391.5h0M321.8 394.7h0M334.2 400.7h0M315.2 397.8h0M327.5 384.8h0M330.6 398.8h0M335.0 393.0h0M322.7 397.4h0M335.8 392.4h0M337.1 400.1h0M319.1 393.5h0M340.0 399.8h0M332.4 391.8h0M325.1 401.9h0M325.8 384.1h0M338.1 399.0h0M332.4 388.6h0M327.0 406.0h0M338.9 384.3h0M315.6 394.3h0M325.7 398.8h0M327.3 389.8h0M328.5 396.2h0M321.6 404.3h0M335.0 397.7h0M322.0 394.1h0M333.5 397.1h0M333.6 406.4h0M313.8 390.7h0M325.7 410.3h0M312.9 392.6h0M344.9 395.0h0M307.7 398.0h0M328.8 395.7h0M314.8 391.2h0M303.1 404.7h0M320.7 389.0h0M347.2 395.1h0M328.5 394.6h0M334.0 395.0h0M322.1 394.3h0M337.9 404.4h0M320.8 392.6h0M334.7 394.3h0M321.8 395.4h0M318.3 395.3h0M323.1 388.7h0M343.4 392.5h0M325.0 395.1h0M324.7 399.7h0M336.0 408.6h0M327.7 390.6h0M310.0 398.2h0M339.6 399.6h0M343.2 402.6h0M327.5 399.6h0M333.1 398.3h0M315.1 394.7h0M326.2 402.3h0M307.0 390.4h0M335.6 392.3h0M320.5 385.4h0M328.8 391.1h0M321.8 398.8h0M315.6 392.6h0M341.2 393.9h0M333.3 392.5h0M328.2 396.7h0M328.2 395.7h0M320.7 391.9h0M317.6 384.9h0M330.0 396.9h0M318.6 399.4h0M336.8 395.2h0M318.3 384.6h0M317.4 407.5h0M316.7 404.2h0M333.5 395.4h0M335.4 396.9h0M330.8 395.0h0M333.8 396.4h0M328.3 395.2h0M318.2 401.6h0M317.4 393.6h0M323.1 398.7h0M318.7 388.5h0M338.3 396.5h0M319.4 397.9h0M331.0 390.2h0M324.3 397.1h0M317.3 392.5h0M329.9 396.5h0M319.0 398.5h0M334.3 394.0h0M321.8 398.0h0M319.7 385.0h0M339.9 394.2h0M329.8 391.0h0M334.5 384.4h0M325.8 393.1h0M327.6 394.2h0M321.9 396.4h0M318.4 404.9h0M340.3 394.6h0M317.6 389.7h0M319.8 387.7h0M334.0 395.1h0M367.1 353.5h0M373.7 369.2h0M378.7 351.0h0M368.0 355.7h0M383.8 355.7h0M369.1 354.9h0M375.2 352.9h0M376.6 357.0h0M378.5 360.8h0M389.1 347.3h0M370.8 347.0h0M383.0 363.5h0M367.1 358.6h0M380.3 354.5h0M382.4 365.9h0M376.6 365.0h0M368.6 366.8h0M366.8 351.9h0M388.0 356.3h0M378.9 372.4h0M368.3 361.5h0M374.6 359.7h0M373.7 361.9h0M374.5 354.1h0M376.0 342.4h0M367.6 356.1h0M384.4 356.7h0M374.3 364.2h0M373.6 365.5h0M364.4 365.1h0M370.6 353.3h0M369.0 342.1h0M372.9 359.8h0M369.6 361.6h0M375.9 351.8h0M373.0 361.5h0M370.5 359.6h0M377.8 354.5h0M378.0 357.9h0M394.6 358.6h0M367.2 350.3h0M379.9 352.3h0M375.7 348.8h0M377.3 354.7h0M357.2 362.5h0M356.4 356.4h0M371.7 349.2h0M387.4 357.5h0M378.2 358.8h0M370.3 363.3h0M373.5 363.1h0M377.2 357.2h0M362.9 339.8h0M379.5 355.2h0M364.8 368.2h0M369.2 349.5h0M374.0 358.5h0M368.7 353.9h0M389.7 356.3h0M375.1 366.4h0M368.9 358.2h0M377.4 362.6h0M379.2 362.0h0M366.3 353.4h0M379.3 361.7h0M374.4 353.2h0M361.8 360.5h0M368.9 361.4h0M378.3 358.8h0M363.7 354.8h0M373.6 352.0h0M378.6 361.3h0M375.0 357.9h0M353.7 363.6h0M383.0 367.6h0M369.9 353.4h0M379.2 369.7h0M372.8 355.5h0M363.7 364.8h0M370.6 358.0h0M359.0 362.8h0M369.8 352.8h0M384.6 360.8h0M368.3 371.4h0M382.4 350.5h0M365.8 358.9h0M371.7 356.5h0M378.8 357.0h0M375.0 362.5h0M383.9 359.6h0M381.4 315.4h0M359.1 291.5h0M365.7 305.3h0M432.1 308.6h0M332.6 303.3h0M337.4 289.3h0M376.8 292.4h0M368.8 270.1h0M338.8 313.7h0M363.8 302.8h0M361.1 282.1h0M384.9 314.0h0M378.8 309.2h0M391.8 297.6h0M361.8 309.5h0M355.0 281.0h0M360.4 281.8h0M392.2 313.1h0M370.6 301.1h0M345.0 250.0h0M369.6 284.1h0M365.2 298.6h0M368.8 309.8h0M383.0 313.2h0M350.6 301.9h0M355.4 297.1h0M366.0 315.7h0M367.5 315.1h0M376.7 315.3h0M355.0 292.9h0M362.6 251.0h0M336.0 290.0h0M379.6 297.3h0M357.5 312.3h0M261.4 396.0h0M272.4 444.1h0M271.4 350.9h0M271.8 335.2h0M271.5 428.9h0M264.0 372.0h0M257.0 401.9h0M258.8 416.8h0M267.3 391.6h0M259.5 396.2h0M270.9 377.9h0M232.6 397.4h0M272.6 376.3h0M268.6 363.6h0M248.1 439.5h0M263.6 453.9h0M269.1 438.5h0M257.2 377.0h0M269.0 422.1h0M263.7 407.0h0M247.3 378.0h0M269.4 395.3h0M266.5 383.7h0M270.3 439.1h0M241.1 426.1h0M251.3 389.9h0M264.3 364.6h0M263.2 432.5h0M265.2 410.9h0M263.7 387.4h0M247.2 440.3h0M260.0 417.4h0M267.1 402.7h0M271.7 391.0h0M271.9 452.5h0M262.9 365.6h0M268.0 356.8h0M259.6 378.1h0M261.7 423.0h0M263.1 373.0h0M261.6 391.8h0M246.9 385.9h0M256.9 363.8h0M261.3 412.1h0M271.9 359.0h0M260.7 379.7h0M267.0 399.9h0M269.8 341.0h0M259.5 403.6h0M264.5 413.3h0M242.0 396.1h0M270.2 340.1h0M257.7 423.2h0M242.3 364.1h0M263.7 426.1h0M268.6 382.1h0M271.7 397.9h0M263.0 441.5h0M254.2 375.3h0M246.0 432.5h0M267.8 416.1h0M241.6 402.6h0M257.4 419.7h0M264.3 403.7h0M237.2 379.1h0M272.6 359.4h0M259.4 410.7h0M255.8 368.1h0M258.3 415.1h0M244.8 372.0h0M266.7 436.2h0M245.7 426.5h0M266.7 427.0h0M245.9 369.3h0M256.6 387.4h0M244.6 377.7h0M267.8 362.6h0M263.4 406.5h0M241.4 401.9h0M271.4 330.8h0M270.6 454.9h0M246.8 377.6h0M232.1 408.6h0M267.6 392.6h0M256.6 419.0h0M267.6 381.0h0M246.1 386.6h0M243.5 342.0h0M272.3 432.9h0M249.6 376.3h0M262.8 424.8h0M269.5 378.1h0M265.9 380.9h0M257.3 365.8h0M263.8 402.8h0M230.5 431.9h0M272.2 435.7h0M265.5 402.2h0M272.9 380.9h0M258.5 478.2h0M241.5 450.6h0M265.2 404.3h0M265.1 405.7h0M270.9 345.7h0M263.9 388.3h0M229.6 418.7h0M233.3 437.7h0M269.7 360.7h0M267.5 344.0h0M251.7 389.8h0M264.5 383.4h0M268.5 367.8h0M271.8 392.3h0M256.3 393.3h0M264.5 363.5h0M259.4 432.1h0M272.9 393.1h0M257.6 351.0h0M247.0 374.3h0M251.0 342.5h0M265.1 414.3h0M270.1 400.9h0M269.3 378.5h0M266.3 417.4h0M229.3 374.8h0M250.7 384.1h0M244.3 421.2h0M267.1 370.2h0M232.3 344.0h0M247.7 434.9h0M272.6 352.3h0M271.8 377.4h0M262.6 436.4h0M249.7 444.5h0M262.6 381.0h0M271.3 388.9h0M269.4 418.8h0M270.3 439.0h0M264.5 371.7h0M260.3 449.8h0M272.6 425.1h0M261.5 442.2h0M266.7 431.9h0M181.9 456.9h0M266.8 446.2h0M252.4 391.3h0M252.8 445.8h0M260.2 401.9h0M249.7 316.8h0M272.3 405.3h0M270.1 387.4h0M261.6 403.1h0M265.8 407.6h0M221.0 368.1h0M253.2 388.4h0M260.8 364.9h0M256.0 410.9h0M272.8 386.6h0M272.7 409.1h0M270.5 393.9h0M325.8 608.1h0M422.9 604.3h0M397.0 604.4h0M376.4 608.0h0M341.1 604.8h0M401.6 601.6h0M335.3 610.4h0M338.0 608.3h0M360.3 610.1h0M396.1 599.3h0M394.1 603.4h0M314.8 608.3h0M328.1 603.5h0M355.4 605.9h0M398.6 596.0h0M323.0 592.2h0M392.0 599.1h0M369.9 602.9h0M347.5 608.2h0M359.4 596.9h0M333.6 602.7h0M296.2 608.4h0M338.1 601.8h0M343.3 606.7h0M365.8 600.1h0M274.1 612.4h0M330.6 620.0h0M404.2 609.8h0M369.3 597.0h0M357.8 595.4h0M341.8 608.0h0M396.6 599.8h0M305.3 591.6h0M365.5 599.4h0M315.0 602.1h0M384.7 596.7h0M304.0 590.8h0M332.3 615.0h0M314.0 610.6h0M461.2 591.5h0M439.9 590.2h0M398.6 601.6h0M420.4 599.3h0M352.0 604.2h0M293.5 610.3h0M304.4 607.4h0M376.9 604.7h0M393.8 587.4h0M298.8 607.7h0M426.4 603.8h0M391.9 612.6h0M324.1 605.1h0M345.4 607.1h0M313.3 596.4h0M388.8 597.2h0M287.8 603.2h0M325.3 618.3h0M320.9 595.3h0M455.5 608.4h0M345.4 602.2h0M405.5 599.6h0M342.9 605.3h0M452.7 594.0h0M364.8 604.6h0M348.4 604.6h0M443.7 604.0h0M352.2 605.0h0M434.7 598.7h0M278.1 608.3h0M425.7 612.0h0M384.4 604.6h0M479.8 599.6h0M315.5 599.9h0M328.9 605.2h0M324.6 610.8h0M376.8 601.2h0M303.5 603.4h0M476.0 600.1h0M302.8 612.7h0M342.1 597.2h0M367.9 603.3h0M329.0 600.7h0M436.6 600.9h0M358.6 610.3h0M360.3 597.8h0M349.6 609.5h0M357.8 594.8h0M367.0 605.8h0M436.7 598.8h0M306.5 602.6h0M412.1 613.8h0M310.0 602.5h0M343.3 602.2h0M347.3 601.7h0M350.5 610.5h0M332.4 610.3h0M314.6 608.7h0M352.2 601.4h0M407.4 593.2h0M318.6 609.6h0M337.1 597.5h0M341.2 603.5h0M272.4 611.5h0M331.5 606.4h0M386.4 592.6h0M285.9 613.6h0M399.6 597.6h0M527.4 605.3h0M319.3 598.1h0M322.3 596.0h0M387.3 602.2h0M365.7 602.5h0M399.8 606.2h0M366.2 605.4h0M288.3 617.9h0M291.0 604.2h0M406.0 601.3h0M399.2 613.5h0M273.1 603.1h0M315.3 609.0h0M317.7 612.7h0M319.1 600.0h0M325.5 598.7h0M324.4 604.0h0M365.4 605.5h0M421.2 598.2h0M307.0 600.7h0M412.2 596.7h0M302.0 596.3h0M416.4 609.2h0M312.2 603.6h0M285.5 609.5h0M349.8 598.0h0M426.2 606.6h0M352.7 614.6h0M300.7 599.4h0M321.3 601.5h0M323.8 601.1h0M399.8 591.2h0M379.4 598.8h0M317.6 602.3h0M482.0 605.2h0M316.8 615.3h0M379.1 594.0h0M357.8 614.9h0M294.5 608.0h0M374.5 599.0h0M329.1 611.0h0M373.6 595.7h0M466.1 612.8h0M301.5 590.9h0M325.2 601.9h0M417.7 612.0h0M355.3 592.5h0M403.3 599.5h0M381.7 614.2h0M313.0 602.0h0M364.2 603.7h0M303.8 611.1h0M360.0 598.9h0M425.0 588.0h0M351.3 614.1h0M400.0 602.0h0M335.5 604.7h0M406.2 615.3h0M488.2 599.5h0M353.7 610.1h0M407.4 602.7h0M305.4 606.7h0M323.0 593.9h0M559.6 597.6h0M359.6 605.0h0M343.8 617.5h0M362.3 614.3h0M299.5 594.9h0M355.8 599.4h0M399.0 607.6h0M403.9 602.8h0M448.8 601.4h0M363.3 610.8h0M303.1 599.8h0M407.9 592.5h0M323.8 607.3h0M337.9 615.9h0M475.4 599.3h0M311.9 612.0h0M403.1 609.6h0M369.6 612.5h0M509.9 609.0h0M396.8 606.3h0M297.7 603.3h0M311.5 594.6h0M347.7 600.2h0M365.9 601.4h0M424.0 598.5h0M329.0 601.1h0M357.9 600.9h0M303.3 598.4h0M357.6 609.5h0M344.7 611.9h0M559.0 604.6h0M387.5 614.0h0M378.3 602.2h0M299.5 600.6h0M324.9 601.2h0M291.7 598.9h0M336.2 602.6h0M373.0 595.5h0M297.0 611.2h0M349.6 602.7h0M295.8 601.5h0M428.8 605.7h0M347.6 602.7h0M353.6 610.0h0M366.3 599.7h0M295.8 606.9h0M382.0 608.9h0M290.7 593.1h0M355.0 602.0h0M284.3 602.2h0M463.5 600.0h0M406.5 617.7h0M393.1 610.2h0M399.9 607.6h0M402.6 602.2h0M301.4 599.9h0M392.9 600.3h0M340.7 602.2h0M294.2 598.2h0M313.1 594.3h0M420.8 611.3h0M299.5 608.8h0M301.0 604.5h0M370.5 604.3h0M454.9 613.9h0M330.9 597.2h0M359.5 604.9h0M317.1 605.8h0M386.1 604.2h0M371.7 605.0h0M369.3 610.8h0M282.2 595.6h0M350.7 599.7h0M505.8 604.2h0M365.7 602.0h0M329.1 599.7h0M430.9 603.0h0M364.2 607.1h0M335.1 608.9h0M320.5 599.4h0M308.1 602.7h0M439.3 602.8h0M472.4 605.1h0M351.7 606.6h0M341.0 603.2h0M282.2 591.0h0M302.1 598.3h0M329.7 597.3h0M332.2 599.9h0M402.8 600.0h0M392.8 605.2h0M447.5 609.2h0M357.0 596.3h0M321.9 600.7h0M302.2 594.9h0M456.4 605.2h0M309.1 606.5h0M400.0 608.2h0M323.5 604.1h0M375.5 605.0h0M443.6 596.0h0M419.4 601.8h0M303.1 590.6h0M335.5 612.7h0M304.5 599.6h0M333.9 612.5h0M429.2 602.2h0M337.1 601.2h0M331.3 603.3h0M378.1 600.3h0M387.4 613.1h0M296.6 608.1h0M289.6 603.1h0M357.9 605.4h0M323.5 603.1h0M354.5 595.6h0M301.9 595.6h0M379.9 597.5h0M290.8 605.9h0M318.5 603.3h0M304.3 602.6h0M322.7 606.4h0M420.1 604.5h0M300.1 605.3h0M333.1 609.7h0M301.0 609.0h0M445.5 606.7h0M324.6 597.8h0M346.5 608.4h0M340.9 609.0h0M442.2 594.7h0M344.0 610.6h0M293.8 602.4h0M298.7 598.4h0M293.0 607.1h0M401.9 612.1h0M417.7 601.0h0M360.6 613.6h0M325.5 600.5h0M361.7 607.6h0M351.5 612.3h0M417.6 607.3h0M319.6 610.4h0M350.3 587.9h0M401.3 595.9h0M332.2 599.3h0M359.8 604.5h0M345.3 599.6h0M298.5 604.6h0M291.3 606.6h0M463.6 601.5h0M361.1 595.9h0M335.4 614.8h0M307.1 611.2h0M273.2 600.4h0M290.5 602.6h0M325.9 603.6h0M342.7 602.5h0M352.5 603.4h0M275.8 607.2h0M374.0 607.2h0M356.7 599.8h0M527.4 603.3h0M309.9 608.1h0M307.0 606.6h0M309.4 600.7h0M289.6 592.7h0M411.3 600.5h0M334.4 606.7h0M356.9 603.0h0M311.6 608.9h0M336.1 597.4h0M297.6 601.9h0M389.3 612.2h0M346.9 598.3h0M428.4 608.7h0M351.4 597.9h0M374.3 593.7h0M280.2 607.7h0M366.5 603.9h0M314.3 597.1h0M330.5 611.6h0M311.7 593.0h0M345.3 600.5h0M345.8 614.0h0M322.8 599.5h0M331.1 608.8h0M386.5 609.0h0M375.9 609.0h0M404.6 597.1h0M364.4 626.0h0M385.0 606.9h0M367.5 607.5h0M436.9 599.4h0M389.7 605.2h0M597.9 596.8h0M403.9 606.4h0M307.8 615.4h0M364.5 614.9h0M330.4 606.7h0M342.0 601.2h0M446.2 608.8h0M406.0 604.1h0M299.3 595.3h0M318.1 600.2h0M450.7 598.3h0M452.7 608.6h0M424.0 599.9h0M427.9 604.0h0M288.7 607.9h0M347.0 597.1h0M382.7 604.3h0M353.7 606.8h0M457.4 588.5h0M372.7 605.1h0M379.6 602.2h0M338.2 594.0h0M412.8 604.5h0M352.7 608.6h0M368.1 597.2h0M309.9 596.2h0M444.0 602.6h0M294.1 612.9h0M327.2 611.6h0M380.4 607.0h0M387.4 603.3h0M532.6 613.2h0M300.3 600.5h0M279.6 598.4h0M470.4 609.1h0M367.8 605.4h0M396.2 600.9h0M316.1 605.7h0M479.1 602.8h0M419.1 599.9h0M314.6 601.8h0M313.3 610.3h0M363.4 598.6h0M342.9 604.4h0M389.6 602.7h0M437.2 607.4h0M346.6 597.3h0M392.2 605.7h0M371.7 608.9h0M394.1 606.9h0M292.2 609.4h0M396.8 621.1h0M303.3 603.8h0M407.5 607.8h0M335.3 594.2h0M351.8 613.3h0M388.6 596.7h0M391.9 610.5h0M324.7 605.2h0M402.8 613.7h0M317.5 616.0h0M359.6 594.6h0M404.3 612.9h0M433.4 607.6h0M383.0 604.1h0M332.5 600.7h0M373.0 605.9h0M383.4 608.9h0M322.4 599.5h0M423.5 606.0h0M343.8 603.1h0M438.0 603.2h0M361.6 605.5h0M398.4 604.7h0M351.3 600.2h0M476.8 602.9h0M337.7 593.2h0M314.8 611.2h0M294.1 603.3h0M360.8 600.3h0M311.0 599.3h0M355.9 585.9h0M352.8 604.3h0M398.6 601.6h0M378.5 599.7h0M310.1 600.3h0M370.7 613.1h0M280.1 597.8h0M417.5 605.0h0M478.6 591.7h0M398.3 601.2h0M498.5 610.6h0M292.2 600.7h0M366.8 597.4h0M322.0 601.9h0M316.4 605.4h0M382.5 601.0h0M389.9 596.1h0M336.8 589.5h0M293.7 602.3h0M326.8 600.6h0M277.4 603.4h0M313.4 607.3h0M356.9 604.3h0M442.5 614.2h0M370.7 605.7h0M375.7 610.6h0M399.5 599.4h0M328.4 596.4h0M317.8 602.4h0M483.9 596.2h0M308.8 598.7h0M357.7 604.4h0M385.5 603.2h0M343.7 600.1h0M325.7 608.2h0M370.0 594.3h0M285.6 606.7h0M424.7 611.9h0M420.1 600.8h0M342.3 610.3h0M340.3 612.7h0M402.3 620.5h0M389.7 610.9h0M335.4 591.1h0M313.2 595.0h0M321.9 603.0h0M486.3 607.8h0M345.4 599.3h0M452.9 606.3h0M282.1 607.7h0M370.6 601.3h0M347.3 608.6h0M489.8 611.1h0M335.7 621.2h0M366.3 605.3h0M335.4 603.2h0M425.1 606.9h0M365.8 600.2h0M358.1 598.3h0M312.7 610.1h0M334.1 601.5h0M370.0 600.0h0M401.6 600.1h0M294.4 596.2h0M372.9 602.9h0M353.1 609.0h0M399.3 604.1h0M371.8 604.4h0M337.7 605.3h0M374.5 611.9h0M400.3 601.7h0M325.0 608.3h0M529.5 600.0h0M369.0 599.0h0M343.0 600.8h0M338.7 612.8h0M359.7 605.0h0M362.5 605.8h0M333.4 598.0h0M411.8 595.7h0M409.1 594.0h0M610.1 610.9h0M379.6 596.6h0M284.9 594.1h0M310.4 592.5h0M402.3 596.1h0M341.2 592.8h0M320.3 606.2h0M300.8 602.3h0M344.8 602.9h0M384.9 616.5h0M348.5 613.8h0M383.1 604.7h0M443.0 598.4h0M333.3 595.3h0M344.9 599.3h0M303.1 597.4h0M408.6 598.3h0M363.4 604.2h0M373.9 595.5h0M486.9 608.3h0M324.9 606.6h0M319.0 611.1h0M309.1 600.1h0M295.2 610.7h0M529.1 600.5h0M392.4 587.5h0M305.5 600.3h0M320.9 611.8h0M373.8 602.5h0M407.5 613.9h0M430.5 600.2h0M323.9 611.8h0M334.6 606.9h0M335.1 600.5h0M314.5 590.1h0M335.8 606.5h0M398.9 604.7h0M381.9 593.6h0M373.7 605.7h0M331.9 601.1h0M342.8 595.6h0M351.0 591.3h0M305.3 606.9h0M332.5 612.5h0M421.1 607.9h0M322.6 596.1h0M361.8 608.8h0M440.6 616.0h0M376.3 592.3h0M338.4 600.7h0M345.1 614.0h0M408.6 607.0h0M305.0 600.4h0M448.4 609.4h0M383.5 602.8h0M324.4 608.2h0M404.1 604.8h0M329.4 598.1h0M323.9 591.6h0M405.1 602.5h0M484.8 609.0h0M285.2 599.9h0M379.7 606.3h0M352.6 607.3h0M340.4 604.1h0M371.7 599.5h0M298.4 601.0h0M412.3 600.6h0M451.3 612.5h0M400.5 597.5h0M557.0 607.8h0M346.6 601.0h0M406.7 597.2h0M311.5 600.4h0M472.4 607.8h0M355.1 604.7h0M290.0 597.9h0M557.6 595.9h0M355.1 600.4h0M361.1 592.7h0M359.9 607.6h0M378.4 603.8h0M322.6 613.1h0M365.0 596.7h0M362.8 614.2h0M290.7 603.8h0M350.5 601.9h0M305.4 598.3h0M327.3 612.2h0M350.9 592.7h0M442.4 610.5h0M312.7 601.0h0M370.0 600.5h0M405.9 595.9h0M322.7 601.4h0M421.2 599.9h0M436.9 613.0h0M333.5 609.6h0M344.3 594.0h0M304.5 592.3h0M365.5 612.1h0M412.7 607.7h0M433.8 601.9h0M387.4 595.2h0M330.4 596.5h0M409.2 599.3h0M343.9 599.9h0M317.3 603.5h0M420.9 602.7h0M344.4 595.2h0M343.7 619.7h0M292.9 604.0h0M361.6 599.8h0M419.8 606.4h0M355.2 606.1h0M311.3 592.6h0M312.7 604.7h0M372.0 601.9h0M344.6 595.7h0M353.3 606.4h0M330.7 599.0h0M459.3 605.4h0M299.1 608.2h0M310.2 599.8h0M346.8 597.9h0M473.9 613.5h0M298.9 601.7h0M465.3 610.6h0M334.2 612.3h0M376.5 604.5h0M363.9 603.4h0M308.8 604.1h0M382.4 591.2h0M387.8 609.2h0M437.5 597.4h0M323.0 611.5h0M335.2 616.7h0M353.8 607.0h0M273.7 590.9h0M382.7 604.5h0M377.8 601.7h0M337.6 600.4h0M357.3 595.8h0M360.5 616.5h0M469.9 602.2h0M312.6 609.1h0M291.4 597.9h0M363.4 604.8h0M349.7 607.4h0M460.1 603.6h0M313.5 613.5h0M368.3 606.4h0M301.9 604.7h0M302.4 611.4h0M321.9 589.6h0M384.6 615.0h0M352.5 597.2h0M300.3 605.9h0M337.6 595.3h0M404.6 608.2h0M403.7 606.0h0M294.5 597.6h0M440.3 608.8h0M320.5 605.8h0M498.5 599.6h0M323.9 596.9h0M349.4 607.4h0M320.6 603.5h0M392.5 596.6h0M286.1 606.9h0M372.6 606.5h0M334.6 609.2h0M309.1 606.9h0M330.9 596.6h0M486.2 593.1h0M364.5 601.5h0M304.2 611.6h0M369.9 603.5h0M321.5 598.0h0M297.6 590.0h0M290.3 603.3h0M309.5 598.7h0M308.4 601.8h0M331.1 612.6h0M395.7 596.6h0M304.3 601.5h0M353.6 608.1h0M391.7 602.7h0M357.9 600.0h0M339.0 614.4h0M315.4 616.8h0M313.9 603.2h0M535.3 602.7h0M304.7 592.1h0M378.0 611.5h0M415.9 612.0h0M312.2 608.1h0M307.1 613.0h0M348.6 609.9h0M430.4 603.9h0M398.4 606.8h0M330.8 613.3h0M339.1 597.5h0M283.0 606.4h0M360.2 592.7h0M356.0 606.0h0M397.1 602.9h0M269.0 605.4h0M342.7 604.0h0M397.7 589.6h0M342.9 601.7h0M328.7 596.7h0M340.9 610.2h0M429.7 606.5h0M391.9 597.0h0M342.6 593.6h0M334.1 605.4h0M282.9 605.8h0M290.2 610.1h0M327.1 627.0h0M272.6 597.8h0M314.1 608.4h0M371.7 601.2h0M328.3 594.4h0M595.8 606.8h0M354.7 606.9h0M534.4 597.3h0M363.4 594.4h0M340.2 609.5h0M345.3 611.7h0M470.6 601.6h0M360.5 615.5h0M321.4 604.7h0M356.9 603.0h0M362.9 609.7h0M350.6 588.1h0M322.1 611.2h0M322.0 601.2h0M321.3 608.7h0M308.8 600.9h0M360.1 602.2h0M375.2 606.9h0M343.0 605.3h0M454.4 605.7h0M400.3 596.3h0M304.1 605.6h0M275.9 595.4h0M351.7 610.1h0M284.9 609.0h0M320.2 592.0h0M411.6 599.3h0M371.2 597.4h0M346.3 601.9h0M378.8 610.4h0M354.5 609.6h0M321.0 608.8h0M332.2 606.6h0M288.4 603.8h0M359.1 607.8h0M347.8 592.3h0M399.3 598.9h0M363.0 601.0h0M426.9 595.6h0M483.3 592.2h0M381.4 594.6h0M355.9 595.2h0M444.9 588.6h0M341.8 598.6h0M560.9 613.3h0M400.8 605.6h0M298.5 605.0h0M351.4 606.6h0M421.9 602.7h0M318.0 599.1h0M410.5 607.5h0M394.1 602.7h0M374.8 598.6h0M400.9 599.1h0M333.3 606.9h0M621.6 601.6h0M380.6 611.9h0M283.8 617.5h0M371.8 600.0h0M430.6 604.5h0M336.5 602.1h0M459.1 607.0h0M417.7 600.8h0M436.2 601.9h0M280.2 617.1h0M321.4 592.9h0M428.8 608.0h0M478.3 593.3h0M355.1 607.5h0M331.3 607.9h0M386.1 596.6h0M439.2 596.0h0M340.6 613.8h0M319.4 612.0h0M454.5 611.3h0M334.0 614.5h0M496.5 601.3h0M408.5 605.1h0M287.7 600.4h0M421.3 590.6h0M449.6 601.4h0M363.7 605.6h0M318.6 601.9h0M413.3 605.5h0M401.5 609.8h0M334.1 613.7h0M353.9 599.6h0M376.9 608.7h0M352.6 607.8h0M431.4 610.3h0M401.9 607.6h0M372.1 599.7h0M408.4 603.0h0M338.9 605.7h0M293.6 617.6h0M402.1 601.3h0M332.9 600.4h0M337.1 604.6h0M316.7 604.4h0M295.8 605.2h0M306.0 597.6h0M366.5 604.1h0M415.9 610.3h0M485.0 589.9h0M353.3 611.2h0M293.3 594.0h0M301.5 598.4h0M376.5 604.7h0M365.2 608.5h0M453.2 605.4h0M376.8 602.4h0M342.2 604.0h0M308.0 609.2h0M314.4 595.6h0M446.8 596.2h0M327.8 606.6h0M337.8 602.7h0M325.1 610.0h0M445.7 603.4h0M371.6 607.9h0M328.3 604.2h0M297.6 604.5h0M356.1 615.5h0M401.6 606.2h0M297.7 603.7h0M355.2 604.1h0M394.7 616.8h0M375.9 599.3h0M434.4 608.0h0M553.9 608.3h0M397.7 607.9h0M330.8 620.5h0M346.2 602.9h0M396.9 603.5h0M362.7 605.4h0M396.2 597.7h0M392.3 590.8h0M506.5 590.0h0M328.4 593.8h0M340.6 610.0h0M295.4 596.8h0M296.5 603.1h0M387.6 591.2h0M351.2 605.6h0M284.0 604.8h0M346.5 594.5h0M361.3 606.6h0M374.8 595.0h0M328.3 612.0h0M372.0 610.7h0M470.1 601.1h0M299.8 613.7h0M308.4 602.1h0M447.8 606.0h0M437.7 605.5h0M457.3 603.5h0M372.8 595.1h0M296.1 602.1h0M422.9 604.5h0M360.7 595.1h0M373.6 604.1h0M342.8 607.5h0M359.7 597.9h0M291.0 593.4h0M305.0 608.9h0M405.6 600.2h0M324.8 598.9h0M371.3 601.6h0M297.6 604.1h0M303.1 602.2h0M441.8 603.5h0M458.0 615.5h0M346.2 596.4h0M363.4 610.2h0M356.3 604.0h0M323.7 592.2h0M313.0 595.4h0M483.4 608.4h0M344.2 598.5h0M325.8 599.4h0M388.8 609.2h0M352.8 608.1h0M391.4 604.3h0M339.1 595.9h0M374.6 604.3h0M301.3 601.4h0M338.7 600.1h0M350.7 602.1h0M369.9 605.1h0M375.5 603.0h0M315.0 600.4h0M414.9 606.3h0M297.8 615.1h0M451.1 608.6h0M333.8 597.5h0M288.9 605.6h0M384.6 609.9h0M287.0 606.1h0M428.6 611.5h0M318.6 602.5h0M354.6 616.0h0M434.4 615.3h0M420.3 607.2h0M490.3 600.3h0M445.8 612.5h0M368.4 606.6h0M398.9 600.8h0M573.6 614.6h0M494.7 609.4h0M370.2 592.5h0M355.8 601.3h0M336.1 618.4h0M331.3 605.5h0M409.3 600.9h0M412.2 615.7h0M389.1 605.2h0M350.5 613.0h0M372.4 603.7h0M452.6 603.6h0M404.6 606.3h0M332.0 582.4h0M318.3 601.4h0M355.8 605.4h0M321.9 603.0h0M322.7 596.3h0M366.9 599.7h0M289.7 606.8h0M306.0 606.9h0M401.1 604.2h0M391.1 607.6h0M438.6 603.6h0M324.1 605.1h0M428.5 608.2h0M447.6 596.3h0M318.6 605.0h0M313.5 609.8h0M419.1 591.8h0M333.5 602.4h0M477.1 612.6h0M323.9 599.8h0M311.6 594.7h0M332.3 606.3h0M378.0 606.7h0M325.4 605.2h0M356.4 606.0h0M318.6 612.5h0M354.9 597.2h0M331.4 591.4h0M287.5 599.6h0M450.8 589.3h0M292.3 605.8h0M357.7 606.0h0M400.0 602.0h0M359.7 597.9h0M340.0 598.6h0M266.1 604.1h0M369.4 606.9h0M451.0 605.3h0M353.6 594.1h0M386.3 596.4h0M346.4 593.5h0M347.4 599.8h0M419.8 613.8h0M310.7 603.2h0M441.1 603.2h0M370.7 611.2h0M430.0 608.0h0M449.1 600.0h0M279.9 600.1h0M453.9 604.0h0M333.6 605.4h0M355.3 598.1h0M360.1 596.1h0M447.9 602.9h0M388.8 595.3h0M400.1 612.0h0M410.0 610.0h0M389.8 607.8h0M348.3 597.5h0M335.9 602.5h0M303.5 610.7h0M280.4 613.9h0M331.9 603.1h0M312.6 607.5h0M378.1 596.2h0M335.5 595.4h0M349.8 607.0h0M361.4 597.3h0M315.7 598.4h0M322.8 599.4h0M297.0 605.9h0M275.6 599.4h0M296.7 599.9h0M396.2 608.6h0M293.3 607.0h0M325.6 601.6h0M354.1 603.9h0M487.7 604.6h0M324.8 613.9h0M321.8 603.4h0M315.7 602.7h0M428.9 597.1h0M292.9 599.4h0M368.2 605.2h0M384.3 608.8h0M335.6 596.2h0M294.4 606.3h0M336.9 605.8h0M365.0 598.8h0M289.9 610.1h0M342.6 604.7h0M395.2 610.0h0M291.3 601.6h0M342.0 609.0h0M439.5 606.9h0M325.0 600.7h0M351.6 609.4h0M303.9 603.3h0M376.7 617.2h0M297.7 604.5h0M357.9 608.0h0M309.1 603.0h0M308.3 604.7h0M349.0 604.0h0M448.5 611.8h0M319.9 610.7h0M419.9 604.8h0M310.7 610.1h0M394.6 604.8h0M417.1 595.5h0M278.8 605.9h0M321.1 605.3h0M485.6 599.7h0M337.2 604.0h0M365.8 596.8h0M331.3 620.0h0M387.5 604.0h0M321.7 610.6h0M448.5 599.1h0M347.5 599.7h0M420.7 602.1h0M328.0 598.7h0M430.1 612.4h0M378.4 611.3h0M386.6 596.1h0M320.7 598.7h0M313.9 613.6h0M352.6 598.6h0M290.2 601.3h0M367.4 608.2h0M339.9 610.6h0M315.4 600.6h0M363.2 599.4h0M331.4 602.0h0M324.5 606.1h0M346.4 595.3h0M296.3 601.6h0M322.0 593.1h0M328.8 601.5h0M462.6 583.9h0M361.4 609.8h0M383.4 604.4h0M307.6 599.6h0M355.1 603.6h0M327.7 597.3h0M335.7 600.8h0M294.7 593.6h0M361.9 609.5h0M298.6 607.8h0M339.1 607.2h0M345.1 599.3h0M302.0 602.5h0M385.3 609.2h0M329.6 602.9h0M386.6 604.5h0M331.4 599.3h0M271.0 600.9h0M364.1 605.7h0M299.6 598.2h0M359.1 605.3h0M310.8 603.8h0M330.9 600.7h0M327.3 600.4h0M365.4 596.8h0M298.5 609.8h0M306.7 612.0h0M422.9 612.6h0M362.0 608.0h0M358.4 602.1h0M306.4 599.5h0M307.5 602.5h0M387.6 605.7h0M374.2 602.8h0M340.1 595.8h0M458.3 606.6h0M321.8 599.2h0M375.5 594.9h0M311.6 594.0h0M436.2 594.1h0M321.5 599.0h0M286.6 604.4h0M298.7 604.6h0M347.7 608.2h0M332.1 595.2h0M402.1 611.0h0M344.6 594.3h0M346.1 607.1h0M362.4 596.6h0M305.8 595.1h0M327.0 609.8h0M337.6 606.6h0M288.7 596.3h0M480.7 604.6h0M353.4 608.9h0M320.2 604.3h0M317.1 601.2h0M436.3 601.9h0M304.8 611.2h0M340.9 600.5h0M361.4 606.8h0M348.3 608.7h0M296.8 601.5h0M335.8 598.7h0M548.2 608.6h0M326.7 604.5h0M418.8 599.0h0M290.5 597.1h0M395.0 607.7h0M327.0 611.3h0M377.7 610.7h0M354.6 593.2h0M311.9 605.8h0M409.7 598.0h0M279.3 605.2h0M313.9 617.5h0M305.3 609.5h0M330.0 611.5h0M339.0 610.6h0M380.3 610.3h0M369.2 604.3h0M346.6 597.0h0M293.7 598.3h0M362.7 626.0h0M302.2 605.4h0M389.6 601.4h0M363.4 611.9h0M315.6 594.6h0M362.1 606.7h0M372.6 607.8h0M313.9 598.3h0M281.1 608.2h0M418.2 598.6h0M281.4 605.4h0M291.0 599.5h0M336.3 612.0h0M392.3 609.6h0M407.4 614.3h0M285.2 597.3h0M325.1 606.8h0M298.9 604.3h0M292.2 601.7h0M360.0 605.2h0M458.8 602.9h0M394.7 596.5h0M319.8 603.2h0M270.8 606.0h0M361.9 601.5h0M404.4 604.3h0M449.5 612.1h0M346.3 607.0h0M366.6 607.0h0M374.0 599.0h0M355.6 612.9h0M423.6 602.0h0M284.8 595.6h0M399.5 594.8h0M293.4 602.5h0M476.9 606.0h0M494.8 608.1h0M444.7 598.5h0M427.8 601.8h0M376.3 609.6h0M282.6 599.6h0M364.5 621.0h0M302.3 602.2h0M343.8 610.3h0M289.7 618.1h0M515.9 600.5h0M356.4 609.3h0M442.8 614.8h0M425.1 600.6h0M294.4 608.4h0M355.3 605.4h0M333.6 596.5h0M298.5 594.9h0M483.2 606.1h0M333.5 619.3h0M306.4 609.3h0M360.3 593.2h0M332.5 603.1h0M283.5 599.5h0M315.8 607.6h0M428.1 605.4h0M329.4 609.1h0M317.5 598.7h0M348.7 613.2h0M489.5 602.6h0M344.8 602.9h0M304.4 605.3h0M491.2 599.7h0M434.4 604.9h0M376.9 595.2h0M319.0 610.3h0M322.9 601.7h0M359.2 607.2h0M327.6 607.1h0M328.5 599.3h0M377.3 614.0h0M356.5 609.1h0M320.3 589.2h0M368.7 601.1h0M342.5 602.9h0M444.5 598.9h0M294.7 606.5h0M356.3 601.1h0M443.3 604.6h0M326.4 602.5h0M297.7 604.1h0M387.5 608.1h0M340.5 608.7h0M423.7 611.2h0M377.5 602.2h0M376.7 599.7h0M358.2 605.9h0M409.9 611.9h0M375.5 612.3h0M309.4 605.9h0M346.9 595.6h0M424.4 593.2h0M303.6 598.3h0M352.0 599.3h0M381.5 596.1h0M355.0 598.5h0M428.5 601.5h0M361.0 608.5h0M303.6 598.1h0M409.4 604.8h0M393.5 597.6h0M344.5 595.3h0M338.1 601.7h0M342.5 602.6h0M437.9 596.6h0M370.0 607.1h0M349.9 601.2h0M352.0 600.6h0M342.0 600.0h0M491.5 589.1h0M477.3 598.3h0M281.4 605.5h0M400.8 608.2h0M302.9 596.6h0M478.1 616.0h0M392.1 605.8h0M425.3 611.4h0M327.1 602.4h0M456.4 599.8h0M367.4 613.3h0M348.2 601.8h0M331.2 609.5h0M305.9 599.2h0M367.9 610.9h0M317.6 612.1h0M339.6 596.9h0M382.8 607.7h0M301.8 595.5h0M434.5 612.2h0M414.2 591.7h0M448.3 606.6h0M385.2 610.7h0M461.9 594.5h0M326.7 608.3h0M433.6 603.7h0M375.1 592.2h0M323.0 607.9h0M355.9 601.1h0M319.7 612.6h0M527.7 600.6h0M386.8 600.7h0M326.8 601.9h0M295.7 604.9h0M296.3 594.0h0M330.4 601.3h0M361.0 601.5h0M278.0 607.3h0M299.2 607.6h0M325.4 593.9h0M324.2 605.6h0M395.1 594.0h0M287.4 597.3h0M367.7 622.3h0M337.2 613.0h0M344.5 596.8h0M422.9 605.4h0M286.3 606.8h0M342.8 612.4h0M372.8 600.7h0M310.1 608.7h0M324.5 597.8h0M359.0 607.2h0M304.1 595.5h0M331.6 597.5h0M350.3 612.1h0M334.3 599.4h0M312.5 610.4h0M306.3 598.4h0M478.3 598.8h0M348.2 602.1h0M294.8 599.8h0M385.3 592.8h0M346.0 603.5h0M357.0 603.8h0M295.4 602.1h0M396.3 609.3h0M351.0 594.2h0M325.6 608.1h0M318.5 606.0h0M394.1 609.7h0M429.4 597.9h0M357.0 607.6h0M401.7 606.1h0M335.7 599.4h0M355.2 602.9h0M367.8 593.2h0M343.0 602.4h0M301.3 614.8h0M335.7 609.1h0M324.3 600.3h0M313.6 600.7h0M351.1 598.3h0M365.9 606.2h0M312.4 604.0h0M475.4 605.4h0M281.0 593.7h0M365.6 607.5h0M500.9 605.4h0M323.7 597.5h0M350.2 596.2h0M398.7 601.1h0M404.6 606.8h0M412.9 618.4h0M437.4 603.9h0M318.0 607.3h0M352.0 602.7h0M382.0 616.2h0M325.5 601.8h0M410.2 608.2h0M327.5 604.5h0M323.1 600.4h0M325.0 593.3h0M341.3 599.8h0M398.3 607.0h0M294.3 597.6h0M287.9 601.5h0M325.0 608.2h0M300.9 605.2h0M436.2 604.7h0M292.5 605.6h0M336.4 598.0h0M372.2 602.0h0M321.8 599.2h0M327.2 605.5h0M392.6 611.3h0M283.3 592.3h0M351.8 597.5h0M416.6 603.7h0M343.1 620.9h0M301.7 596.0h0M451.6 601.5h0M289.2 607.0h0M329.4 607.4h0M437.1 594.5h0M364.1 599.0h0M364.9 603.7h0M348.2 602.1h0M335.9 600.4h0M319.6 606.4h0M374.3 592.2h0M315.4 604.0h0M300.3 616.1h0M314.7 602.2h0M491.0 607.6h0M328.1 601.9h0M488.4 604.7h0M359.0 608.1h0M350.4 606.1h0M321.1 614.9h0M317.0 597.4h0M578.6 611.6h0M301.6 595.4h0M398.5 619.3h0M326.4 604.9h0M375.3 591.2h0M277.5 607.1h0M348.2 598.7h0M372.4 600.9h0M351.2 610.9h0M349.7 596.2h0M348.3 605.7h0M525.0 599.2h0M523.2 604.9h0M480.6 614.5h0M391.7 607.4h0M357.4 601.5h0M432.4 608.6h0M301.7 604.3h0M393.7 599.8h0M275.8 600.3h0M336.9 600.1h0M327.5 599.8h0M377.9 593.5h0M292.9 609.0h0M402.3 607.2h0M303.1 606.7h0M450.2 600.1h0M283.9 603.4h0M297.4 599.3h0M407.5 609.4h0M317.1 599.2h0M330.9 595.8h0M303.7 613.0h0M282.9 604.3h0M306.1 594.5h0M392.6 599.3h0M396.3 598.2h0M317.3 612.2h0M304.9 610.6h0M399.5 606.6h0M355.9 603.6h0M450.0 596.2h0M350.3 598.3h0M343.2 609.4h0M350.3 606.2h0M319.5 604.9h0M404.0 603.7h0M301.7 610.5h0M364.2 606.0h0M586.0 610.7h0M427.8 595.4h0M478.5 593.9h0M404.9 599.6h0M354.2 610.6h0M338.5 614.4h0M373.6 593.2h0M389.7 597.7h0M311.3 602.9h0M376.6 609.5h0M300.3 600.2h0M429.4 605.1h0M339.7 613.5h0M317.1 598.1h0M287.6 604.3h0M321.8 606.9h0M401.4 612.8h0M361.6 599.9h0M300.1 603.8h0M371.0 616.4h0M494.4 605.4h0M458.5 601.3h0M342.0 603.9h0M364.4 606.7h0M488.1 611.8h0M404.6 606.7h0M348.6 622.6h0M368.1 604.9h0M540.9 613.0h0M338.8 597.4h0M432.1 598.5h0M278.3 608.4h0M404.6 605.6h0M331.8 599.3h0M298.4 621.2h0M460.3 601.7h0M307.8 599.0h0M324.4 619.0h0M385.9 609.7h0M319.8 607.2h0M348.5 608.5h0M328.8 610.9h0M414.3 591.7h0M333.4 598.1h0M391.7 601.0h0M413.7 610.1h0M359.2 615.2h0M412.2 603.5h0M393.3 600.5h0M329.3 604.0h0M391.3 606.1h0M319.6 611.0h0M278.3 615.0h0M294.2 593.5h0M399.5 609.6h0M381.2 608.2h0M310.5 611.0h0M484.6 603.2h0M337.6 617.3h0M404.0 597.9h0M420.2 603.9h0M396.0 609.3h0M343.7 610.8h0M372.1 608.9h0M416.0 592.6h0M358.6 600.5h0M439.8 595.4h0M269.4 608.5h0M323.1 607.2h0M339.9 605.8h0M431.6 602.3h0M287.9 593.9h0M288.2 607.8h0M410.4 615.2h0M338.6 594.0h0M299.0 602.7h0M378.9 602.9h0M382.0 599.5h0M317.6 613.0h0M330.5 612.5h0M448.6 599.8h0M365.1 598.6h0M412.5 604.9h0M302.0 604.2h0M367.4 606.9h0M401.9 602.1h0M334.4 597.3h0M354.0 598.7h0M436.0 604.5h0M331.8 612.8h0M361.3 601.3h0M401.9 609.4h0M421.5 606.1h0M358.8 599.3h0M378.0 601.6h0M314.1 602.1h0M313.0 611.2h0M338.3 614.9h0M382.0 600.7h0M376.7 607.6h0M361.6 608.3h0M419.1 602.1h0M438.6 600.5h0M327.9 605.2h0M398.0 611.3h0M312.0 613.1h0M371.6 612.3h0M349.7 611.4h0M324.7 599.5h0M492.0 596.0h0M314.1 601.9h0M331.7 600.3h0M412.1 599.7h0M444.3 622.3h0M326.3 599.7h0M343.0 601.1h0M315.2 603.1h0M395.7 605.9h0M301.4 610.7h0M404.1 602.6h0M375.7 609.3h0M357.0 611.9h0M338.3 597.0h0M322.3 600.1h0M468.6 602.5h0M324.3 596.1h0M349.5 608.9h0M329.3 611.8h0M381.5 598.9h0M379.4 605.1h0M321.8 608.9h0M418.9 601.4h0M325.1 601.6h0M310.3 596.0h0M349.5 598.0h0M332.6 609.1h0M299.7 607.4h0M341.1 614.1h0M324.2 601.4h0M362.8 606.4h0M422.4 601.5h0M297.8 601.7h0M376.0 616.2h0M340.7 600.7h0M392.9 612.7h0M404.9 597.4h0M285.7 599.3h0M302.1 604.9h0M348.3 602.7h0M392.2 609.3h0M333.4 599.4h0M369.4 607.3h0M314.5 601.1h0M277.9 600.3h0M337.6 597.1h0M346.3 606.7h0M430.9 591.1h0M356.4 605.0h0M336.8 619.5h0M328.2 599.2h0M417.5 596.2h0M354.4 598.0h0M333.9 605.2h0M394.4 612.8h0M336.2 592.1h0M395.7 601.3h0M365.6 606.1h0M413.5 619.4h0M337.4 597.7h0M310.8 603.7h0M373.0 615.3h0M374.1 609.2h0M301.9 600.4h0M339.5 605.5h0M334.5 608.2h0M346.5 590.8h0M428.8 601.2h0M339.8 614.8h0M285.3 606.9h0M353.8 597.6h0M376.7 613.5h0M358.8 614.1h0M392.3 620.8h0M339.8 603.4h0M330.6 599.1h0M448.5 609.4h0M361.0 600.7h0M470.5 601.8h0M296.2 603.9h0M423.3 599.2h0M436.4 613.6h0M416.1 603.6h0M292.8 593.4h0M376.6 598.7h0M440.7 613.8h0M329.8 604.4h0M306.6 593.4h0M450.5 599.0h0M349.3 598.7h0M355.6 603.6h0M318.9 601.3h0M328.8 600.1h0M329.2 608.3h0M320.9 615.6h0M354.3 613.4h0M414.0 586.9h0M402.9 613.8h0M377.4 607.0h0M306.1 601.5h0M307.7 609.1h0M317.0 604.2h0M307.0 601.0h0M409.6 602.0h0M366.8 616.1h0M342.0 612.0h0M340.3 595.0h0M357.8 594.8h0M298.4 613.4h0M306.5 608.5h0M333.2 607.0h0M325.2 613.9h0M363.9 596.1h0M399.0 603.5h0M348.5 600.7h0M309.1 605.3h0M381.1 609.3h0M483.8 607.3h0M317.7 607.5h0M282.7 594.4h0M305.0 616.9h0M334.8 603.8h0M328.1 601.3h0M472.6 595.5h0M327.8 610.4h0M336.8 605.8h0M408.8 600.7h0M345.7 596.9h0M411.8 609.6h0M393.3 599.9h0M396.2 606.2h0M434.9 606.3h0M361.4 606.6h0M324.8 617.6h0M370.1 610.2h0M278.7 609.5h0M331.3 604.6h0M298.4 604.9h0M359.6 598.5h0M359.7 607.4h0M321.0 590.2h0M317.2 603.5h0M347.9 611.6h0M433.3 595.2h0M359.6 597.4h0M326.5 614.3h0M373.6 603.5h0M354.9 593.3h0M322.2 605.6h0M287.5 599.6h0M536.6 598.7h0M353.2 615.7h0M284.9 611.2h0M538.4 604.5h0M401.1 598.1h0M313.5 606.4h0M323.3 606.4h0M579.4 592.8h0M363.8 609.1h0M558.5 608.7h0M434.4 598.7h0M293.4 602.5h0M401.5 604.3h0M359.1 599.2h0M328.8 603.3h0M398.4 599.3h0M347.7 609.6h0M432.9 606.1h0M315.3 598.5h0M394.5 608.8h0M305.7 588.2h0M428.9 606.8h0M374.7 597.4h0M472.9 602.4h0M397.3 603.9h0M290.7 611.1h0M387.1 608.6h0M326.5 599.7h0M362.4 596.1h0M352.3 620.7h0M291.0 610.8h0M341.9 613.9h0M430.8 605.2h0M382.8 605.7h0M357.2 608.0h0M355.1 608.7h0M447.1 602.4h0M340.8 596.8h0M289.4 612.7h0M432.4 612.4h0M348.6 607.0h0M437.3 599.6h0M301.2 597.6h0M326.0 599.1h0M409.8 619.6h0M357.7 602.7h0M379.6 601.3h0M365.4 602.6h0M443.2 603.2h0M358.9 591.9h0M324.5 607.8h0M309.2 613.9h0M326.6 600.8h0M321.1 607.8h0M448.4 601.0h0M379.3 598.4h0M304.1 603.8h0M307.4 608.1h0M377.8 594.3h0M322.8 609.9h0M432.7 605.2h0M322.8 601.8h0M355.1 603.4h0M326.6 608.4h0M293.5 607.6h0M373.2 607.9h0M302.2 590.5h0M328.0 604.5h0M371.6 592.3h0M297.1 607.9h0M340.2 608.6h0M441.2 602.4h0M348.2 601.5h0M310.8 591.7h0M279.1 598.6h0M311.9 598.5h0M372.4 606.7h0M350.2 602.8h0M447.5 607.2h0M347.6 603.6h0M426.1 603.0h0M457.5 613.4h0M375.6 604.3h0M344.5 600.8h0M324.3 601.0h0M445.1 606.3h0M358.9 600.3h0M320.4 608.5h0M329.9 600.3h0M336.1 605.7h0M328.1 607.7h0M379.9 604.9h0M332.9 605.2h0M453.8 607.7h0M366.9 597.6h0M316.9 598.9h0M377.8 608.9h0M364.9 614.5h0M408.1 607.4h0M323.8 596.9h0M401.9 597.0h0M288.5 600.7h0M404.7 605.7h0M318.7 603.3h0M384.0 598.0h0M362.0 615.0h0M381.3 597.3h0M390.4 595.4h0M360.2 608.0h0M328.4 605.3h0M318.6 606.4h0M325.3 615.5h0M398.9 601.8h0M368.3 606.7h0M464.8 598.4h0M354.6 614.9h0M404.9 602.9h0M396.6 607.1h0M447.4 599.8h0M287.9 603.6h0M376.6 602.5h0M355.3 601.3h0M393.0 604.3h0M314.0 605.0h0M403.9 606.3h0M334.2 604.2h0M291.7 605.3h0M334.8 604.5h0M448.1 595.8h0M314.8 606.0h0M393.8 601.5h0M370.2 603.2h0M443.5 613.5h0M422.1 591.1h0M350.7 602.7h0M352.1 610.3h0M332.8 601.7h0M382.1 602.8h0M327.7 597.7h0M356.0 616.0h0M292.6 600.5h0M286.2 609.9h0M311.6 619.9h0M295.0 594.1h0M332.7 610.2h0M467.4 602.2h0M377.3 612.7h0M322.3 599.1h0M330.5 596.4h0M328.4 605.5h0M302.1 606.1h0M510.6 604.9h0M349.4 605.5h0M373.7 614.3h0M463.4 615.1h0M347.9 600.9h0M405.1 604.4h0M346.5 610.9h0M452.0 600.2h0M380.1 597.7h0M556.7 597.7h0M309.5 613.6h0M425.5 605.4h0M308.8 595.3h0M353.3 598.5h0M321.2 598.7h0M334.8 605.6h0M314.5 603.9h0M304.2 605.0h0M431.5 600.2h0M387.9 593.3h0M341.2 615.6h0M381.0 608.2h0M298.4 592.3h0M408.7 592.4h0M370.6 602.4h0M323.8 605.7h0M394.1 603.5h0M295.2 605.0h0M301.5 604.3h0M434.1 610.9h0M368.9 597.7h0M391.1 611.4h0M353.6 604.6h0M408.4 603.0h0M306.9 606.9h0M388.3 605.9h0M366.0 616.0h0M374.4 597.7h0M347.2 604.5h0M527.8 599.8h0M313.2 610.8h0M434.7 612.0h0M302.1 603.6h0M326.9 603.0h0M296.6 604.8h0M321.3 604.7h0M336.6 597.2h0M447.6 607.2h0M393.3 621.3h0M313.3 603.1h0M373.0 595.6h0M361.6 603.7h0M437.0 609.5h0M356.6 602.3h0M365.9 611.5h0M315.7 601.6h0M352.3 621.4h0M318.6 609.5h0M371.8 596.7h0M327.2 602.7h0M380.2 590.0h0M380.9 588.2h0M303.6 607.9h0M283.9 607.4h0M375.9 604.5h0M387.8 610.2h0M386.4 594.5h0M303.6 605.4h0M274.0 607.9h0M331.6 604.2h0M422.6 601.2h0M281.4 601.6h0M543.3 597.2h0M357.2 599.1h0M358.3 611.5h0M363.8 606.6h0M380.5 601.4h0M364.6 605.1h0M395.7 604.3h0M353.7 592.9h0M308.8 611.0h0M333.9 612.4h0M313.3 599.6h0M292.7 605.2h0M297.4 601.2h0M358.0 602.9h0M339.5 620.0h0M348.9 603.4h0M320.2 605.3h0M303.8 594.9h0M332.4 594.8h0M355.5 602.4h0M390.6 604.7h0M426.0 615.3h0M309.7 602.4h0M377.5 595.7h0M349.5 615.5h0M326.8 602.1h0M314.6 608.9h0M382.7 604.0h0M354.0 614.6h0M467.5 603.8h0M331.6 611.6h0M341.4 593.8h0M469.8 609.8h0M303.1 600.4h0M347.8 604.6h0M301.0 596.5h0M405.3 592.3h0M323.3 610.9h0M313.5 610.2h0M460.4 601.1h0M299.5 601.9h0M416.7 605.9h0M374.3 605.5h0M450.9 601.9h0M342.0 606.7h0M398.3 613.1h0M360.1 601.3h0M362.2 596.5h0M419.9 604.9h0M310.8 598.5h0M312.3 602.2h0M374.7 611.4h0M328.8 590.9h0M491.9 607.4h0M333.0 613.5h0M377.0 601.5h0M463.3 591.9h0M381.5 595.0h0M310.7 607.1h0M370.3 596.2h0M377.8 596.2h0M299.4 606.4h0M339.4 616.5h0M293.5 597.4h0M307.6 608.8h0M448.4 600.3h0M449.6 608.1h0M367.1 593.4h0M330.2 610.5h0M377.9 598.0h0M326.3 599.8h0M352.3 601.3h0M333.4 608.6h0M391.2 601.2h0M315.6 595.3h0M395.7 611.0h0M310.7 609.6h0M404.6 603.3h0M367.4 598.5h0M324.9 603.0h0M309.7 596.0h0M340.2 600.6h0M337.1 598.5h0M359.3 598.3h0M433.1 611.4h0M339.2 607.4h0M355.8 596.5h0M398.8 604.6h0M287.0 602.3h0M297.6 587.9h0M411.0 598.0h0M427.8 609.2h0M322.5 600.4h0M440.3 603.0h0M371.1 597.8h0M367.7 605.2h0M323.0 605.1h0M301.4 608.4h0M312.1 610.3h0M347.4 596.3h0M385.6 598.3h0M393.7 612.2h0M280.7 598.2h0M309.9 603.3h0M292.5 600.3h0M372.3 603.2h0M351.0 583.8h0M378.0 604.0h0M346.3 604.7h0M326.8 604.3h0M315.3 598.0h0M368.4 598.2h0M371.9 612.9h0M350.5 601.5h0M292.1 601.1h0M281.6 614.3h0M353.6 604.0h0M370.4 613.3h0M383.4 613.4h0M277.5 605.3h0M382.0 600.2h0M373.9 600.8h0M366.7 597.6h0M321.0 602.8h0M348.3 605.0h0M374.9 602.0h0M305.5 604.8h0M366.1 600.2h0M335.8 607.7h0M391.3 609.4h0M362.6 594.9h0M337.8 603.8h0M400.8 603.4h0M334.4 600.9h0M387.5 599.6h0M359.0 602.3h0M463.3 603.3h0M333.0 603.9h0M322.2 598.4h0M358.9 615.4h0M334.6 609.8h0M309.4 603.8h0M524.0 614.1h0M326.4 610.7h0M376.0 603.1h0M384.2 591.3h0M370.0 598.3h0M306.8 598.1h0M359.3 599.0h0M349.1 599.4h0M435.6 604.4h0M433.7 605.2h0M290.0 608.0h0M319.8 606.6h0M321.9 606.9h0M417.2 607.6h0M356.9 596.6h0M325.0 607.5h0M337.6 618.5h0M392.4 606.1h0M337.4 598.9h0M547.2 607.7h0M389.5 605.0h0M310.1 595.3h0M309.2 608.6h0M494.9 602.1h0M604.4 606.5h0M410.4 594.4h0M287.3 601.4h0M440.2 595.9h0M338.2 594.3h0M374.6 597.5h0M400.7 601.6h0M349.3 599.4h0M343.1 593.6h0M337.2 597.6h0M409.1 606.3h0M349.2 601.8h0M355.1 613.5h0M480.7 607.6h0M281.6 602.6h0M353.1 602.7h0M317.3 603.4h0M315.7 598.7h0M345.2 611.5h0M312.9 601.5h0M361.2 610.2h0M309.8 597.1h0M324.2 604.8h0M347.2 602.6h0M319.5 612.3h0M315.6 610.5h0M366.1 605.0h0M337.2 608.7h0M371.8 602.2h0M331.7 596.8h0M289.1 607.9h0M320.0 591.6h0M320.1 603.5h0M327.9 610.2h0M295.8 609.7h0M519.2 607.1h0M455.1 607.4h0M351.6 608.1h0M345.9 606.8h0M336.7 600.2h0M500.6 607.5h0M395.5 600.7h0M500.6 615.5h0M410.5 595.4h0M362.3 597.5h0M473.1 603.3h0M279.7 605.8h0M362.0 618.1h0M373.7 606.7h0M471.0 602.1h0M366.9 593.0h0M353.5 604.7h0M409.0 609.5h0M371.6 603.4h0M356.4 608.4h0M316.1 605.6h0M345.1 605.9h0M535.4 604.8h0M341.7 602.6h0M433.9 600.3h0M373.0 607.4h0M340.4 607.9h0M379.0 598.9h0M281.2 617.1h0M353.9 610.2h0M410.9 610.9h0M312.6 603.4h0M359.8 604.6h0M454.4 609.5h0M288.7 598.1h0M419.1 600.4h0M400.9 602.9h0M336.9 611.5h0M472.5 604.8h0M380.2 595.9h0M506.6 604.6h0M350.1 596.9h0M326.9 596.8h0M390.4 609.2h0M319.8 602.9h0M366.6 595.3h0M374.7 602.6h0M347.0 591.6h0M326.6 610.4h0M301.0 593.1h0M395.8 602.9h0M407.9 610.5h0M317.6 595.9h0M408.7 599.3h0M292.9 611.2h0M332.9 602.7h0M337.6 605.1h0M285.4 596.3h0M324.0 609.4h0M349.0 608.8h0M485.7 602.8h0M372.3 607.1h0M459.5 591.9h0M317.7 593.7h0M316.9 618.9h0M422.0 612.7h0M328.5 606.2h0M478.4 602.6h0M315.4 609.8h0M335.4 602.9h0M355.1 605.3h0M300.4 607.7h0M317.0 598.3h0M377.2 597.2h0M485.7 601.3h0M293.2 611.0h0M380.8 603.4h0M358.0 599.8h0M281.3 600.8h0M531.0 588.3h0M362.5 607.1h0M454.8 611.6h0M379.1 605.4h0M378.0 603.1h0M305.5 610.1h0M318.3 605.3h0M374.8 596.2h0M348.9 607.6h0M391.2 607.6h0M282.7 602.6h0M372.6 600.6h0M393.7 600.5h0M286.0 610.7h0M346.2 605.3h0M329.5 600.4h0M379.1 608.3h0M300.5 610.4h0M313.9 598.3h0M307.9 610.9h0M591.1 594.5h0M291.6 600.9h0M338.1 607.7h0M415.4 608.4h0M460.2 587.6h0M358.6 601.6h0M307.4 592.8h0M286.1 618.7h0M456.9 598.8h0M376.8 607.6h0M450.5 606.7h0M274.3 603.7h0M377.0 609.4h0M390.1 605.9h0M293.1 595.1h0M304.0 613.0h0M344.3 598.7h0M368.7 610.3h0M344.6 608.5h0M408.1 616.3h0M370.1 592.6h0M335.1 548.7h0M353.6 597.3h0M315.2 595.9h0M397.7 569.3h0M297.1 561.2h0M341.3 591.7h0M354.9 573.4h0M351.7 593.3h0M418.9 587.8h0M402.8 600.5h0M510.2 593.4h0M387.8 596.2h0M350.2 548.3h0M328.0 599.4h0M394.6 578.9h0M410.2 601.6h0M323.8 569.9h0M328.0 576.7h0M387.2 585.5h0M411.1 589.3h0M352.6 594.8h0M333.9 552.7h0M296.0 585.1h0M365.0 584.5h0M316.7 572.7h0M389.4 602.3h0M307.7 598.4h0M416.1 584.3h0M381.9 586.0h0M363.7 595.5h0M366.3 601.2h0M345.0 586.7h0M343.0 582.4h0M475.5 585.4h0M413.0 583.1h0M388.3 593.7h0M360.0 579.1h0M353.8 583.9h0M350.0 598.5h0M283.4 580.2h0M429.8 590.1h0M589.9 588.8h0M351.3 578.9h0M419.6 596.7h0M381.5 586.9h0M302.5 586.5h0M278.8 587.2h0M363.8 566.6h0M399.6 593.0h0M413.9 601.4h0M355.5 587.7h0M323.6 598.3h0M422.4 595.7h0M375.3 572.7h0M356.6 598.1h0M335.6 574.2h0M432.2 595.0h0M439.1 591.1h0M372.0 575.2h0M333.8 595.7h0M315.8 595.1h0M337.6 601.5h0M359.1 576.7h0M337.8 594.7h0M345.1 596.1h0M389.4 580.7h0M463.8 587.1h0M339.0 597.0h0M428.7 600.9h0M312.7 591.5h0M329.0 597.6h0M348.8 591.6h0M309.0 584.0h0M360.8 594.1h0M363.8 594.0h0M311.1 585.8h0M328.0 557.7h0M421.2 571.2h0M365.6 588.6h0M504.2 578.3h0M360.9 596.8h0M392.2 570.6h0M359.0 542.3h0M423.5 564.4h0M351.1 593.8h0M308.6 557.9h0M325.5 601.8h0M634.1 594.6h0M450.0 580.5h0M334.4 599.3h0M357.4 591.2h0M369.0 583.4h0M428.4 595.0h0M411.2 579.0h0M297.0 583.3h0M417.0 542.5h0M329.7 592.1h0M383.6 568.7h0M408.3 600.5h0M390.0 585.8h0M345.6 601.2h0M328.5 585.4h0M302.8 569.5h0M308.5 582.5h0M325.0 587.8h0M384.7 593.8h0M360.7 593.0h0M366.7 583.4h0M510.7 602.3h0M366.4 574.0h0M372.3 580.2h0M310.9 592.3h0M317.9 590.4h0M324.4 563.9h0M360.1 571.9h0M416.3 581.8h0M314.5 589.9h0M334.6 565.1h0M398.5 602.1h0M334.9 602.9h0M393.5 586.3h0M403.5 573.9h0M352.1 581.9h0M438.9 591.2h0M432.8 597.7h0M294.9 554.1h0M292.6 577.4h0M330.9 598.6h0M366.1 562.9h0M332.7 593.0h0M331.2 587.0h0M350.9 602.7h0M326.6 598.0h0M365.2 597.0h0M440.5 578.6h0M398.9 588.0h0M349.5 599.8h0M362.4 601.0h0M334.2 598.2h0M499.5 573.3h0M310.2 601.3h0M466.5 584.5h0M389.8 575.3h0M379.0 591.3h0M312.3 583.3h0M378.3 584.6h0M404.9 568.5h0M543.8 578.7h0M388.5 568.5h0M334.8 574.1h0M327.4 574.4h0M314.6 563.2h0M315.2 583.0h0M333.7 572.4h0M336.2 585.9h0M376.4 579.7h0M339.4 588.4h0M319.8 595.3h0M306.8 562.4h0M468.2 587.8h0M300.2 601.7h0M440.5 592.4h0M357.7 587.0h0M454.3 601.9h0M356.7 535.3h0M354.0 558.9h0M411.4 585.8h0M349.3 565.4h0M531.1 593.3h0M366.3 578.2h0M360.2 591.5h0M377.0 553.6h0M424.4 582.2h0M375.8 590.2h0M376.0 594.2h0M393.9 588.7h0M428.7 600.8h0M391.3 595.7h0M318.7 600.5h0M317.0 578.1h0M322.0 587.4h0M529.4 582.8h0M374.3 599.5h0M360.0 581.8h0M334.8 589.0h0M342.3 594.7h0M426.6 600.1h0M352.5 590.1h0M377.1 559.5h0M394.5 567.5h0M314.4 569.9h0M493.5 596.1h0M285.4 597.3h0M296.8 567.8h0M372.1 590.8h0M418.8 591.3h0M474.5 595.5h0M398.0 585.4h0M360.7 587.1h0M306.3 579.6h0M318.9 589.3h0M293.6 592.1h0M435.1 599.4h0M444.4 599.6h0M333.0 587.8h0M377.0 580.5h0M371.4 595.9h0M358.4 592.2h0M478.8 588.5h0M364.3 599.0h0M309.1 591.6h0M411.0 583.5h0M367.5 588.5h0M577.1 591.2h0M455.2 597.4h0M315.4 595.7h0M316.0 561.9h0M434.2 577.9h0M353.2 591.7h0M296.0 556.4h0M475.5 592.3h0M459.0 574.6h0M358.6 599.9h0M361.8 573.4h0M348.9 595.0h0M333.4 590.8h0M405.1 600.4h0M334.4 598.0h0M449.8 591.0h0M340.7 581.7h0M323.5 586.8h0M437.9 566.4h0M489.6 590.5h0M562.7 574.1h0M438.7 570.3h0M339.3 593.0h0M392.3 559.2h0M488.4 599.7h0M402.3 573.4h0M308.3 589.6h0M338.9 599.9h0M369.1 591.4h0M327.5 580.1h0M472.5 598.5h0M455.4 596.4h0M297.7 599.9h0M350.1 602.0h0M368.0 599.8h0M294.4 594.3h0M376.2 576.4h0M449.5 578.2h0M299.4 579.3h0M384.4 591.0h0M397.6 578.5h0M379.9 590.7h0M316.1 588.5h0M335.0 589.2h0M317.7 584.0h0M407.4 595.0h0M312.5 595.6h0M347.9 580.6h0M378.8 568.3h0M313.3 582.5h0M312.6 580.5h0M354.9 597.6h0M377.2 595.0h0M373.1 578.2h0M355.2 593.2h0M371.1 591.3h0M452.2 587.5h0M392.4 596.2h0M332.8 599.2h0M346.1 582.2h0M517.7 592.2h0M340.6 596.8h0M347.4 564.2h0M407.3 598.5h0M385.4 598.1h0M420.9 583.6h0M464.9 581.8h0M320.0 599.5h0M412.0 599.4h0M415.4 582.7h0M375.2 598.7h0M374.7 599.1h0M313.2 558.3h0M389.0 594.9h0M384.2 587.9h0M349.8 556.6h0M292.5 596.6h0M321.7 568.3h0M344.7 602.9h0M291.1 583.6h0M413.9 556.2h0M409.8 598.1h0M318.7 580.3h0M364.8 583.6h0M398.4 602.2h0M301.9 593.3h0M349.1 572.0h0M456.8 593.0h0M328.2 602.0h0M348.5 583.8h0M405.5 599.2h0M451.6 597.6h0M441.5 575.5h0M329.3 601.4h0M329.6 592.5h0M442.2 601.4h0M388.3 601.8h0M380.8 600.9h0M304.3 593.0h0M391.5 581.8h0M328.0 583.7h0M386.1 572.6h0M351.4 590.4h0M405.8 603.0h0M307.7 603.0h0M404.2 583.7h0M347.0 591.7h0M506.0 597.6h0M318.6 583.6h0M330.8 592.9h0M314.5 585.5h0M443.2 598.4h0M381.6 578.9h0M335.9 598.8h0M307.1 562.9h0M443.2 566.4h0M401.8 588.0h0M315.3 578.9h0M385.4 571.4h0M309.1 583.7h0M362.3 569.6h0M327.4 593.1h0M473.3 587.3h0M536.3 602.5h0M427.7 592.1h0M356.7 564.2h0M376.7 599.1h0M310.2 579.2h0M367.5 565.1h0M300.2 591.6h0M378.6 586.8h0M330.4 583.4h0M370.5 582.3h0M384.4 601.2h0M362.4 582.8h0M340.3 593.0h0M323.0 596.0h0M370.9 598.3h0M289.2 597.9h0M377.6 597.5h0M317.1 577.0h0M344.6 574.3h0M483.9 592.9h0M342.9 594.1h0M306.1 598.5h0M311.8 597.3h0M351.2 571.5h0M362.9 591.7h0M321.2 581.4h0M392.6 582.6h0M441.2 564.3h0M388.8 588.6h0M310.7 602.2h0M343.9 554.2h0M298.0 597.1h0M368.7 581.6h0M377.2 591.7h0M311.4 582.4h0M318.2 574.1h0M333.5 595.9h0M329.9 600.9h0M395.1 597.1h0M398.2 588.0h0M356.4 599.1h0M408.8 579.6h0M434.9 591.8h0M439.8 574.4h0M314.1 593.1h0M356.3 568.2h0M364.7 597.5h0M363.1 580.8h0M377.3 602.4h0M438.3 575.5h0M357.1 601.9h0M385.1 585.2h0M369.8 591.3h0M323.6 596.0h0M356.2 582.0h0M334.2 589.9h0M332.2 562.8h0M416.9 577.2h0M513.4 598.7h0M488.5 570.3h0M302.9 588.1h0M415.9 602.9h0M440.9 591.0h0M315.5 543.4h0M329.6 566.9h0M421.0 598.5h0M343.4 595.4h0M342.6 600.2h0M416.6 601.9h0M441.3 574.5h0M333.9 594.0h0M341.0 577.8h0M309.3 592.4h0M340.0 593.2h0M370.0 583.3h0M348.0 591.3h0M340.6 598.0h0M488.3 565.2h0M314.1 547.3h0M389.4 599.3h0M295.4 597.9h0M404.1 592.8h0M459.5 593.3h0M428.6 566.1h0M332.3 589.3h0M400.2 554.8h0M373.0 573.8h0M384.1 539.5h0M370.1 593.4h0M436.9 571.1h0M368.3 592.3h0M376.4 579.7h0M359.4 572.3h0M372.1 577.8h0M384.1 597.6h0M347.6 580.4h0M381.5 602.4h0M303.0 595.9h0M362.8 573.4h0M289.8 552.7h0M386.2 598.0h0M298.1 566.4h0M321.7 602.2h0M395.1 573.2h0M295.6 577.7h0M323.4 577.2h0M320.5 591.8h0M330.9 584.0h0M453.4 588.0h0M490.6 593.4h0M324.0 598.7h0M359.2 598.0h0M368.5 601.7h0M312.2 603.0h0M423.9 572.7h0M351.3 568.7h0M484.9 593.8h0M461.5 601.6h0M423.1 591.8h0M378.1 600.0h0M301.6 591.0h0M471.8 598.3h0M400.2 592.3h0M512.4 587.3h0M474.4 583.5h0M350.7 597.0h0M409.4 590.8h0M315.7 570.6h0M292.8 568.5h0M331.1 602.2h0M305.5 589.2h0M367.4 588.4h0M369.1 580.9h0M408.1 594.1h0M372.3 583.9h0M310.6 602.9h0M311.6 601.2h0M337.2 564.5h0M343.7 593.9h0M416.5 602.7h0M336.6 578.5h0M320.3 571.5h0M341.1 568.6h0M389.8 569.6h0M355.9 575.5h0M339.6 588.9h0M349.7 598.7h0M380.8 582.0h0M341.7 598.4h0M414.4 603.0h0M503.2 589.8h0M536.3 598.8h0M361.2 589.4h0M349.2 588.6h0M350.1 581.2h0M440.0 554.4h0M375.0 582.0h0M339.4 572.7h0M341.3 587.4h0M343.1 589.3h0M364.3 592.6h0M338.6 588.9h0M359.8 585.8h0M385.9 584.4h0M384.5 595.2h0M317.8 586.8h0M570.3 583.5h0M346.3 570.6h0M409.7 590.8h0M361.9 591.7h0M345.5 572.0h0M331.0 587.9h0M347.9 565.9h0M341.2 581.8h0M379.9 595.7h0M355.9 585.9h0M309.9 600.7h0M355.1 566.1h0M450.7 596.3h0M312.8 589.8h0M549.6 584.0h0M359.7 591.6h0M432.9 595.7h0M296.7 552.4h0M398.7 592.5h0M353.1 597.8h0M435.9 592.0h0M504.9 591.1h0M389.2 573.7h0M317.0 580.0h0M427.5 582.8h0M313.8 583.8h0M366.1 590.3h0M351.1 545.9h0M297.9 569.4h0M401.8 589.0h0M340.1 571.7h0M342.9 592.2h0M366.7 593.2h0M299.1 565.0h0M337.1 575.0h0M355.2 579.8h0M411.4 602.3h0M476.3 582.5h0M280.2 575.8h0M393.5 581.4h0M356.1 601.6h0M304.7 602.7h0M337.3 590.6h0M342.2 589.5h0M405.3 592.1h0M342.0 592.8h0M394.4 572.6h0M395.5 587.1h0M494.1 600.4h0M423.9 586.7h0M335.0 597.5h0M438.7 592.2h0M488.3 596.9h0M339.2 588.8h0M437.5 602.9h0M337.1 602.1h0M429.8 599.7h0M511.2 567.2h0M527.5 596.4h0M296.0 573.5h0M411.9 565.2h0M325.3 567.1h0M349.7 591.2h0M333.1 559.7h0M328.1 570.5h0M523.8 600.2h0M296.9 602.0h0M418.7 575.8h0M410.1 584.5h0M387.4 583.8h0M397.3 594.2h0M391.0 602.7h0M357.4 575.5h0M497.6 596.8h0M343.7 581.3h0M294.5 538.9h0M293.7 589.4h0M472.6 571.1h0M292.8 602.6h0M378.7 579.4h0M386.3 589.2h0M340.9 557.4h0M434.7 601.0h0M410.9 593.9h0M342.5 587.1h0M321.7 573.7h0M300.8 577.5h0M351.4 563.3h0M509.7 597.1h0M370.8 578.2h0M349.9 576.1h0M326.4 599.8h0M348.3 577.8h0M376.3 602.8h0M323.8 591.5h0M312.5 581.0h0M363.2 583.6h0M327.0 599.2h0M343.8 574.6h0M340.7 571.2h0M436.5 572.4h0M397.6 601.4h0M313.3 580.9h0M388.1 575.6h0M391.9 598.0h0M372.4 597.7h0M394.7 576.2h0M329.0 576.1h0M380.0 581.3h0M333.0 584.6h0M361.0 582.2h0M306.1 595.8h0M345.3 562.2h0M343.7 580.5h0M370.6 582.4h0M331.0 599.2h0M382.7 583.0h0M338.4 588.0h0M393.2 575.1h0M391.4 579.0h0M458.7 597.2h0M354.8 597.2h0M324.3 596.9h0M484.6 587.9h0M411.8 600.8h0M340.1 575.7h0M365.6 602.0h0M388.4 569.9h0M319.1 598.3h0M396.3 576.9h0M363.9 586.8h0M383.5 582.8h0M382.0 593.0h0M409.7 597.0h0M423.8 590.8h0M366.1 599.0h0M349.0 592.7h0M383.3 589.6h0M324.4 576.2h0M344.1 599.9h0M410.2 585.0h0M340.4 570.4h0M306.1 594.1h0M461.9 591.3h0M428.9 598.9h0M412.5 601.3h0M426.8 555.1h0M505.6 588.6h0M393.6 524.7h0M421.7 596.5h0M377.2 577.8h0M321.8 597.0h0M333.8 595.3h0M310.7 592.9h0M384.0 598.8h0M310.5 601.6h0M396.3 601.1h0M305.3 559.7h0M392.3 570.8h0M312.4 590.9h0M356.2 599.0h0M303.1 585.7h0M327.6 581.3h0M386.9 601.5h0M319.7 554.3h0M329.1 599.0h0M304.4 599.0h0M355.1 576.1h0M333.2 591.3h0M343.5 576.4h0M312.4 565.8h0M380.6 600.0h0M408.2 573.1h0M364.6 602.7h0M357.2 557.5h0M393.9 595.1h0M414.1 577.7h0M485.0 586.8h0M369.7 579.6h0M320.8 599.9h0M415.6 586.6h0M299.7 599.9h0M312.4 591.5h0M346.7 601.0h0M296.5 552.6h0M371.8 577.5h0M405.7 572.7h0M333.7 569.1h0M337.2 592.5h0M420.9 599.9h0M329.0 574.7h0M305.5 601.4h0M304.1 593.0h0M445.7 595.5h0M390.0 597.8h0M325.5 602.1h0M420.5 594.8h0M387.2 586.1h0M417.3 594.1h0M386.8 589.6h0M343.2 587.0h0M304.6 588.9h0M324.7 599.7h0M372.0 576.3h0M374.8 599.2h0M314.9 601.7h0M326.0 579.0h0M373.1 588.7h0M421.4 597.6h0M399.6 577.6h0M433.7 561.9h0M337.3 595.1h0M371.3 566.2h0M313.7 583.8h0M365.8 595.0h0M309.1 575.4h0M342.6 587.8h0M363.7 597.4h0M358.3 566.3h0M325.3 581.4h0M372.4 585.3h0M452.7 600.8h0M420.0 595.1h0M367.5 595.4h0M383.3 603.0h0M341.3 588.0h0M563.2 602.5h0M483.6 576.8h0M315.3 568.8h0M307.2 587.1h0M453.5 579.5h0M333.0 575.1h0M350.2 587.9h0M296.5 585.0h0M370.6 593.4h0M412.2 570.2h0M422.8 591.1h0M407.2 600.6h0M354.3 584.7h0M320.0 594.2h0M305.3 595.7h0M462.5 584.1h0M418.1 581.2h0M510.0 575.8h0M369.1 551.3h0M445.7 583.3h0M315.8 588.5h0M326.5 582.0h0M392.7 592.1h0M410.5 579.7h0M378.6 588.6h0M517.2 590.6h0M334.9 596.8h0M403.4 593.4h0M368.2 577.0h0M519.1 574.3h0M321.1 573.7h0M339.3 596.3h0M291.7 587.5h0M395.5 601.4h0M347.4 596.8h0M364.5 576.3h0M411.6 598.7h0M482.4 568.4h0M434.3 564.7h0M386.5 585.7h0M441.8 588.9h0M455.2 591.8h0M335.0 581.2h0M282.4 589.2h0M355.1 572.7h0M336.3 587.5h0M473.8 602.4h0M381.1 602.4h0M309.5 594.7h0M324.9 556.6h0M370.4 572.5h0M305.9 573.2h0M330.7 581.9h0M312.3 578.9h0M357.1 594.3h0M330.3 601.0h0M433.9 593.3h0M373.7 588.7h0M339.7 582.0h0M349.0 585.9h0M336.8 587.7h0M310.2 580.4h0M314.4 566.7h0M352.1 596.7h0M355.9 583.9h0M325.7 595.3h0M380.4 584.9h0M355.3 568.2h0M465.6 559.4h0M385.8 573.3h0M369.7 580.4h0M361.3 593.2h0M409.8 581.6h0M328.3 577.5h0M436.5 552.2h0M301.9 579.3h0M297.0 595.2h0M315.5 579.7h0M476.7 590.8h0M283.6 597.3h0M302.8 557.5h0M299.4 575.5h0M388.2 559.4h0M363.8 571.1h0M302.0 589.2h0M324.9 598.0h0M371.1 603.0h0M364.6 590.9h0M283.6 595.7h0M366.6 589.5h0M354.5 595.4h0M302.1 586.5h0M397.6 588.5h0M300.9 582.7h0M313.8 576.7h0M387.0 598.0h0M333.0 574.6h0M417.5 585.4h0M326.9 588.6h0M370.8 599.3h0M327.7 597.8h0M319.5 583.0h0M392.7 591.0h0M447.9 591.3h0M290.9 582.5h0M353.0 598.7h0M371.4 575.8h0M343.2 584.1h0M302.2 593.3h0M329.8 576.3h0M320.6 593.8h0M401.6 581.4h0M349.4 597.0h0M318.1 598.1h0M499.9 568.8h0M381.0 592.7h0M381.3 600.5h0M299.2 588.8h0M362.8 593.7h0M321.6 592.6h0M371.9 583.3h0M485.7 578.9h0M320.5 568.8h0M388.5 599.9h0M298.2 552.1h0M348.0 576.9h0M374.0 601.2h0M334.8 581.8h0M516.0 591.4h0M371.3 593.4h0M434.2 576.8h0M385.8 585.6h0M331.9 575.5h0M333.2 592.4h0M334.1 596.3h0M398.4 577.4h0M299.2 594.9h0M316.8 560.2h0M439.3 578.6h0M337.5 571.6h0M470.2 574.7h0M391.8 595.5h0M478.2 581.7h0M423.0 566.5h0M457.2 595.4h0M352.8 595.5h0M503.0 592.5h0M433.7 590.2h0M336.8 583.5h0M336.7 588.4h0M361.6 594.3h0M543.5 577.2h0M346.9 585.6h0M308.9 599.1h0M374.7 570.5h0M370.2 590.3h0M400.0 588.7h0M367.7 572.6h0M404.1 560.4h0M439.1 591.1h0M381.8 575.0h0M409.6 590.1h0M307.9 593.0h0M363.9 566.5h0M370.2 585.5h0M305.7 558.3h0M315.5 593.3h0M418.1 589.5h0M374.2 601.3h0M416.8 576.9h0M354.6 573.7h0M340.3 590.6h0M316.8 593.8h0M409.8 595.3h0M308.3 591.4h0M376.8 576.9h0M443.9 601.0h0M335.1 579.0h0M334.1 549.9h0M348.5 587.3h0M341.6 594.2h0M352.8 597.9h0M540.7 591.7h0M441.5 573.4h0M348.4 598.2h0M308.6 600.4h0M501.0 594.4h0M336.4 578.8h0M355.9 583.4h0M323.0 595.1h0M315.0 579.7h0M295.1 600.0h0M326.9 554.7h0M508.6 569.9h0M354.1 575.2h0M370.7 593.5h0M369.5 596.0h0M315.1 593.0h0M418.0 541.4h0M301.5 602.6h0M347.2 601.5h0M324.0 584.2h0M442.1 578.9h0M399.6 594.7h0M502.7 581.6h0M402.2 586.9h0M343.2 562.3h0M341.3 577.1h0M398.3 576.9h0M337.3 585.3h0M329.4 584.4h0M422.6 595.2h0M422.2 579.6h0M352.9 584.7h0M328.0 591.1h0M329.6 578.6h0M401.5 590.7h0M340.7 601.4h0M330.0 590.5h0M397.4 598.6h0M327.7 602.9h0M492.2 560.9h0M317.6 569.2h0M309.8 599.8h0M368.3 560.4h0M544.8 592.4h0M406.6 595.9h0M388.0 571.4h0M358.4 577.9h0M345.9 587.4h0M439.3 590.7h0M455.9 591.8h0M297.7 561.2h0M382.7 592.9h0M445.1 577.2h0M354.7 568.1h0M374.2 565.4h0M374.7 601.2h0M397.9 577.1h0M313.9 571.0h0M366.6 600.2h0M343.6 602.8h0M398.8 590.1h0M339.2 592.1h0M318.9 574.6h0M383.6 589.8h0M375.2 593.4h0M372.8 590.1h0M377.8 562.4h0M371.8 577.3h0M323.6 585.3h0M323.4 581.9h0M377.5 597.9h0M313.2 599.9h0M423.6 572.9h0M351.3 600.9h0M334.7 584.6h0M330.9 599.9h0M386.4 592.5h0M394.0 599.3h0M332.4 587.3h0M323.0 589.9h0M431.5 602.6h0M398.3 594.3h0M330.7 582.0h0M452.8 567.5h0M382.5 591.1h0M344.1 585.0h0M429.4 601.3h0M365.7 580.1h0M393.2 590.6h0M291.2 577.4h0M390.0 594.3h0M453.4 562.9h0M394.7 579.0h0M368.3 601.0h0M416.0 573.9h0M286.2 602.4h0M354.7 586.5h0M362.5 597.3h0M418.6 582.5h0M297.3 590.7h0M349.2 592.9h0M387.5 597.4h0M415.3 576.1h0M425.0 585.1h0M414.3 578.3h0M408.0 589.0h0M335.3 598.8h0M464.6 581.3h0M318.8 580.9h0M340.8 588.5h0M336.2 602.6h0M374.5 583.8h0M346.3 570.9h0M326.3 601.2h0M359.5 598.3h0M319.9 596.9h0M306.9 590.9h0M441.2 596.6h0M297.1 586.9h0M441.8 586.0h0M413.5 590.9h0M373.2 601.8h0M383.0 584.5h0M333.6 585.7h0M376.3 602.2h0M349.5 598.6h0M322.7 579.1h0M402.1 560.4h0M375.5 564.5h0M354.9 589.2h0M326.3 590.9h0M347.1 573.4h0M301.7 583.3h0M388.4 587.8h0M358.8 573.4h0M348.5 566.2h0M399.4 590.0h0M438.5 597.6h0M286.4 587.2h0M354.6 596.3h0M320.5 557.2h0M343.7 589.3h0M303.7 598.9h0M323.1 581.8h0M371.9 595.1h0M336.9 565.2h0M393.0 591.6h0M316.3 586.1h0M444.2 600.9h0M364.6 582.5h0M368.8 578.3h0M433.3 576.0h0M289.4 571.3h0M349.7 582.2h0M303.9 589.5h0M478.4 590.9h0M310.7 576.3h0M459.2 590.4h0M295.9 597.1h0M311.3 599.1h0M445.8 599.3h0M433.2 579.4h0M418.0 572.8h0M444.9 602.4h0M310.7 588.0h0M362.0 585.6h0M358.4 601.9h0M378.8 592.4h0M369.2 581.8h0M389.6 591.1h0M404.2 559.9h0M344.3 598.2h0M355.0 543.1h0M383.2 594.3h0M332.9 571.1h0M356.0 602.7h0M462.7 583.6h0M333.2 577.6h0M366.5 561.9h0M347.6 535.7h0M356.5 586.0h0M447.3 588.0h0M334.7 566.2h0M426.0 602.2h0M351.4 573.4h0M377.9 587.4h0M324.3 592.9h0M345.8 599.4h0M330.5 542.5h0M365.0 601.5h0M330.7 592.5h0M384.2 598.3h0M459.5 584.3h0M410.9 597.7h0M312.7 585.5h0M416.7 590.2h0M445.7 602.1h0M369.0 586.4h0M420.0 574.6h0M348.5 545.5h0M307.6 585.7h0M504.6 599.9h0M529.3 597.9h0M338.3 591.0h0M393.5 590.7h0M397.7 551.7h0M321.8 579.7h0M330.5 553.0h0M433.2 585.6h0M301.1 573.8h0M426.5 576.0h0M474.1 601.0h0M307.7 590.9h0M370.2 591.4h0M300.9 599.3h0M301.8 595.1h0M333.9 602.2h0M412.2 591.9h0M316.7 573.0h0M327.5 597.1h0M313.1 581.7h0M281.7 557.3h0M296.7 584.4h0M318.2 588.8h0M451.9 597.5h0M386.8 581.3h0M403.1 595.3h0M402.4 587.1h0M338.3 587.7h0M328.8 598.6h0M355.6 588.2h0M378.7 600.4h0M360.9 586.5h0M367.3 589.6h0M405.4 591.8h0M314.2 598.4h0M416.2 596.0h0M339.3 596.0h0M373.0 599.4h0M396.8 601.3h0M306.7 583.5h0M344.5 599.6h0M360.1 582.8h0M298.4 596.7h0M387.6 579.2h0M316.5 561.8h0M456.2 596.2h0M383.9 583.1h0M341.6 599.3h0M311.7 575.6h0M449.5 557.1h0M354.6 597.1h0M311.0 600.3h0M319.1 594.6h0M417.7 577.8h0M327.3 592.9h0M375.0 564.0h0M386.5 602.0h0M482.6 601.7h0M347.7 585.1h0M471.3 586.4h0M380.6 562.1h0M477.1 579.7h0M389.8 592.5h0M399.3 596.4h0M427.0 602.4h0M321.6 586.3h0M480.1 593.1h0M298.2 581.0h0M342.1 593.4h0M304.2 579.6h0M390.1 602.6h0M325.7 602.2h0M308.3 582.7h0M324.7 601.5h0M364.6 588.2h0M410.2 584.1h0M509.4 562.3h0M352.6 570.7h0M411.8 566.0h0M335.8 584.9h0M446.0 601.1h0M352.1 572.8h0M421.7 582.6h0M369.8 590.8h0M416.5 550.7h0M378.2 592.9h0M342.3 594.6h0M358.7 596.1h0M352.1 589.8h0M368.5 601.1h0M410.2 584.8h0M394.4 602.1h0M372.0 595.2h0M324.6 573.8h0M376.2 581.4h0M295.6 587.3h0M364.2 592.6h0M506.4 580.4h0M306.3 593.4h0M393.4 601.6h0M391.2 602.8h0M391.8 589.5h0M296.0 601.5h0M327.2 602.1h0M423.7 568.2h0M307.2 583.6h0M397.2 593.4h0M403.6 572.2h0M325.5 581.7h0M321.2 567.9h0M331.8 593.5h0M304.5 598.7h0M346.9 596.2h0M391.1 597.7h0M354.1 596.8h0M525.2 586.4h0M340.6 553.2h0M352.4 547.7h0M329.8 588.1h0M376.9 579.1h0M387.6 583.6h0M338.5 573.8h0M402.8 599.8h0M368.5 592.1h0M324.4 585.8h0M351.7 594.5h0M345.7 592.3h0M375.2 573.6h0M468.5 594.6h0M357.5 597.3h0M409.4 576.9h0M370.7 590.0h0M303.3 598.5h0M342.3 574.7h0M376.9 577.7h0M353.5 591.5h0M413.0 598.4h0M397.6 602.1h0M305.0 591.5h0M353.1 591.7h0M461.7 577.3h0M339.3 573.4h0M436.8 559.6h0M319.5 582.6h0M343.5 599.5h0M330.0 571.5h0M384.0 601.4h0M307.0 587.3h0M294.9 591.0h0M367.6 578.4h0M307.9 591.3h0M307.9 598.1h0M350.3 582.1h0M474.4 582.4h0M361.8 558.1h0M346.9 586.0h0M436.3 597.4h0M306.4 596.3h0M362.6 582.3h0M498.3 582.1h0M288.8 597.5h0M543.9 576.9h0M406.4 560.0h0M380.9 595.0h0M406.8 597.8h0M354.0 566.5h0M382.0 578.7h0M361.2 579.2h0M432.3 576.0h0M327.1 591.1h0M340.9 568.3h0M301.8 602.9h0M502.8 595.4h0M335.2 568.3h0M455.7 601.2h0M381.4 586.4h0M347.0 580.8h0M296.7 599.5h0M414.8 597.8h0M339.9 600.9h0M443.8 599.7h0M392.5 589.4h0M472.8 582.2h0M391.6 592.7h0M432.3 588.1h0M394.2 598.2h0M364.6 591.1h0M355.0 589.5h0M315.2 592.8h0M309.0 606.2h0M418.5 613.5h0M334.5 615.6h0M327.0 614.0h0M453.0 609.3h0M376.1 613.0h0M370.9 603.6h0M322.4 611.5h0M328.6 604.6h0M312.3 609.1h0M409.1 617.4h0M319.8 634.1h0M397.3 620.8h0M322.5 619.8h0M415.2 604.4h0M300.5 608.3h0M319.7 607.2h0M516.6 605.1h0M360.4 603.6h0M314.0 608.9h0M451.0 604.3h0M401.1 609.2h0M297.0 609.1h0M426.2 617.6h0M350.5 614.4h0M332.2 609.9h0M294.3 606.3h0M291.1 614.7h0M381.7 604.9h0M347.6 615.3h0M300.0 619.0h0M308.5 609.2h0M304.3 627.7h0M401.0 616.8h0M310.4 611.9h0M339.1 625.2h0M351.3 613.8h0M518.6 611.7h0M510.8 610.0h0M353.0 606.2h0M364.2 628.7h0M340.4 609.5h0M298.9 606.5h0M312.6 610.4h0M344.3 629.9h0M350.6 610.0h0M320.2 609.8h0M354.7 604.6h0M335.7 604.6h0M302.1 610.4h0M294.0 618.6h0M330.2 608.9h0M319.5 609.4h0M510.4 620.5h0M356.2 612.3h0M390.7 610.3h0M590.2 616.2h0M352.6 607.7h0M366.5 611.7h0M391.0 619.1h0M405.9 608.4h0M400.3 620.3h0M508.8 605.4h0M297.8 606.9h0M369.6 610.8h0M350.2 606.1h0M321.9 608.8h0M415.1 625.8h0M392.2 614.6h0M484.8 607.0h0M486.2 606.6h0M323.2 613.9h0M365.7 611.0h0M418.7 627.4h0M357.4 626.2h0M314.2 610.8h0M296.0 604.6h0M281.8 606.0h0M297.6 613.1h0M494.5 611.0h0M301.1 629.9h0M376.6 612.4h0M327.0 624.1h0M386.5 630.5h0M381.6 611.3h0M324.8 609.4h0M345.0 604.8h0M342.8 614.1h0M305.6 616.5h0M309.3 603.9h0M435.6 612.0h0M443.6 630.7h0M369.4 603.4h0M322.4 621.1h0M299.5 622.0h0M335.6 610.0h0M299.1 606.0h0M422.1 606.3h0M289.0 603.2h0M277.9 611.6h0M312.9 612.6h0M324.3 605.2h0M397.2 613.3h0M331.5 618.2h0M354.3 610.9h0M464.8 605.0h0M319.9 603.2h0M471.4 609.5h0M374.6 613.4h0M314.1 603.3h0M481.4 605.9h0M426.9 619.9h0M327.8 623.9h0M313.6 617.3h0M366.1 613.2h0M317.6 625.1h0M426.1 611.3h0M434.4 606.4h0M281.0 618.0h0M344.7 625.5h0M353.0 603.3h0M323.3 606.0h0M414.7 610.2h0M293.0 609.0h0M374.7 615.0h0M346.3 613.5h0M333.4 609.5h0M313.5 606.9h0M326.2 615.3h0M440.6 611.8h0M440.5 610.7h0M360.5 627.0h0M311.0 606.3h0M300.7 615.4h0M385.3 621.5h0M306.6 603.5h0M398.8 605.4h0M363.5 616.8h0M361.0 604.3h0M382.6 607.6h0M445.8 623.2h0M378.5 626.6h0M358.3 610.2h0M335.6 607.8h0M375.6 614.0h0M288.7 613.1h0M385.8 623.3h0M389.5 624.8h0M479.8 603.9h0M309.0 614.0h0M309.5 609.5h0M302.0 603.2h0M460.8 612.8h0M408.9 615.0h0M382.1 605.4h0M439.4 605.0h0M474.0 604.1h0M355.6 622.9h0M343.6 623.7h0M323.1 630.9h0M472.3 605.2h0M333.8 618.3h0M400.3 620.0h0M400.5 610.5h0M395.3 623.3h0M378.3 606.7h0M320.0 623.4h0M343.2 613.5h0M314.3 608.5h0M307.1 608.7h0M425.7 605.3h0M298.8 617.6h0M364.0 633.2h0M364.2 612.7h0M337.8 616.8h0M359.2 604.7h0M431.5 608.8h0M415.0 605.4h0M435.5 611.1h0M412.9 610.6h0M301.2 619.6h0M336.9 624.9h0M344.5 606.1h0M319.3 615.8h0M378.3 627.4h0M301.8 623.4h0M469.9 626.6h0M297.9 613.9h0M331.9 616.4h0M333.0 606.9h0M420.8 610.1h0M391.2 604.9h0M414.0 616.6h0M334.7 619.1h0M346.2 619.0h0M457.3 606.5h0M421.3 606.9h0M341.3 606.2h0M377.1 610.9h0M320.6 629.6h0M349.4 610.2h0M359.7 608.9h0M421.9 603.8h0M381.8 628.9h0M318.7 612.8h0M363.7 615.7h0M327.9 621.3h0M337.9 607.8h0M502.9 633.2h0M316.5 608.5h0M334.8 604.5h0M299.9 606.6h0M458.4 606.9h0M335.5 608.7h0M349.6 605.6h0M437.9 608.1h0M314.2 610.4h0M408.0 615.4h0M343.0 617.3h0M306.8 607.2h0M353.4 610.2h0M327.4 607.1h0M311.2 619.6h0M293.8 611.5h0M390.4 607.9h0M393.3 609.7h0M460.0 619.4h0M294.4 612.2h0M400.9 604.8h0M402.1 603.6h0M410.0 608.3h0M303.6 606.2h0M335.1 626.1h0M289.9 606.3h0M293.6 627.9h0M273.1 608.5h0M280.1 613.1h0M335.7 612.6h0M330.7 606.5h0M354.1 612.5h0M461.8 603.1h0M371.7 608.6h0M465.4 606.0h0M298.1 627.4h0M317.1 622.6h0M381.6 609.1h0M379.5 616.6h0M382.8 626.1h0M312.4 621.5h0M465.6 612.4h0M391.5 611.9h0M335.6 620.3h0M280.0 612.2h0M296.3 632.3h0M282.5 605.5h0M375.2 629.7h0M347.7 604.3h0M290.3 612.3h0M326.6 627.9h0M330.0 603.0h0M412.5 612.4h0M406.5 605.3h0M530.8 605.1h0M405.8 604.4h0M331.6 619.1h0M339.6 605.5h0M397.2 620.1h0M402.0 610.0h0M304.0 611.6h0M326.1 610.4h0M316.7 623.5h0M301.6 612.9h0M429.9 608.5h0M313.7 605.5h0M330.4 630.2h0M349.9 608.2h0M328.4 615.2h0M293.2 617.5h0M354.0 610.2h0M393.9 619.5h0M366.3 617.3h0M292.5 619.0h0M473.7 603.9h0M351.9 608.4h0M471.5 612.8h0M471.7 608.5h0M426.6 606.0h0M347.5 605.1h0M392.3 607.5h0M337.9 609.7h0M327.4 607.3h0M354.7 606.1h0M340.1 610.0h0M327.8 622.7h0M304.3 611.9h0M404.6 605.7h0M337.2 609.6h0M334.1 609.4h0M358.4 603.9h0M316.5 626.6h0M437.3 606.4h0M373.4 609.5h0M441.4 606.1h0M470.5 613.4h0M379.0 603.2h0M426.8 615.3h0M321.4 603.4h0M335.5 609.7h0M301.5 604.2h0M358.7 607.4h0M346.2 606.6h0M315.6 628.8h0M387.2 611.7h0M281.4 604.9h0M318.0 611.0h0M358.2 623.6h0M543.9 626.0h0M389.8 612.1h0M314.2 614.9h0M348.8 619.3h0M365.5 606.3h0M437.7 605.3h0M356.1 611.8h0M375.6 615.5h0M311.0 628.5h0M324.9 615.7h0M396.4 605.8h0M400.2 615.2h0M469.4 628.2h0M304.9 627.7h0M397.9 612.6h0M304.1 606.2h0M326.9 619.8h0M345.2 620.9h0M333.0 605.5h0M394.7 623.9h0M337.5 625.9h0M387.0 606.0h0M363.4 613.5h0M355.0 622.4h0M398.6 628.7h0M381.2 616.5h0M322.4 610.6h0M311.5 614.1h0M500.3 607.3h0M348.5 622.1h0M364.1 622.4h0M470.3 606.5h0M295.2 603.4h0M357.2 619.0h0M381.2 605.0h0M352.6 615.5h0M318.0 611.6h0M377.1 612.0h0M271.2 615.3h0M307.9 617.2h0M595.7 611.4h0M433.1 613.5h0M445.6 610.8h0M351.8 603.5h0M357.0 624.8h0M393.1 620.5h0M450.8 615.3h0M318.1 608.3h0M421.9 607.0h0M404.1 615.3h0M320.0 613.0h0M289.1 612.4h0M297.1 615.8h0M411.1 603.7h0M298.9 609.1h0M316.2 605.5h0M292.4 629.3h0M300.1 607.9h0M379.9 604.1h0M415.1 612.2h0M363.5 603.2h0M384.0 621.4h0M349.3 615.5h0M321.4 603.5h0M562.9 613.9h0M363.8 605.2h0M295.9 615.1h0M298.4 615.1h0M293.2 610.6h0M293.9 605.2h0M369.9 610.4h0M390.2 603.5h0M447.8 613.9h0M307.7 605.8h0M361.1 606.7h0M349.8 609.8h0M323.3 609.8h0M394.4 613.7h0M349.9 608.4h0M323.8 603.1h0M330.6 617.3h0M323.2 614.9h0M294.4 605.4h0M296.6 606.4h0M318.1 605.3h0M364.8 620.4h0M459.9 618.2h0M290.8 616.8h0M299.5 615.3h0M331.7 609.9h0M297.1 609.5h0M337.3 613.6h0M608.2 613.4h0M302.5 610.4h0M343.5 605.7h0M304.0 607.4h0M381.5 605.8h0M413.4 621.3h0M334.2 605.0h0M293.5 619.4h0M359.4 631.4h0M330.2 608.8h0M307.1 620.6h0M407.3 604.0h0M412.1 622.6h0M308.5 613.9h0M332.8 616.6h0M370.0 604.9h0M322.1 615.3h0M342.1 616.6h0M470.1 619.3h0M412.5 608.4h0M331.7 615.6h0M308.7 609.0h0M354.4 625.4h0M384.1 617.8h0M516.4 606.2h0M360.8 609.1h0M388.7 633.9h0M341.7 604.8h0M373.5 622.4h0M520.8 609.2h0M304.2 617.6h0M328.8 630.0h0M314.9 628.9h0M343.2 608.2h0M416.3 610.7h0M415.5 606.1h0M343.5 604.6h0M387.7 605.1h0M556.5 621.5h0M458.2 606.5h0M324.9 624.1h0M394.1 627.5h0M429.0 603.9h0M302.1 611.1h0M305.1 606.8h0M365.9 615.2h0M388.8 605.6h0M467.5 614.7h0M465.0 608.5h0M390.5 614.3h0M300.2 613.2h0M285.2 606.4h0M331.1 619.5h0M445.9 613.4h0M385.3 620.3h0M287.7 616.3h0M330.3 612.4h0M303.3 611.5h0M390.5 603.7h0M435.6 611.8h0M411.3 615.2h0M355.7 619.5h0M445.2 607.3h0M463.8 612.0h0M386.7 611.4h0M405.0 607.9h0M316.6 603.6h0M490.9 606.6h0M299.5 622.9h0M288.7 603.1h0M279.5 605.8h0M335.2 609.0h0M339.4 604.6h0M296.4 608.4h0M381.1 616.1h0M413.3 607.7h0M307.3 620.0h0M291.8 606.8h0M550.8 608.6h0M365.7 622.7h0M392.5 621.4h0M340.4 607.0h0M402.9 618.1h0M353.8 604.7h0M422.4 608.4h0M340.0 622.6h0M360.7 607.4h0M326.4 604.8h0M300.3 610.7h0M420.6 608.7h0M302.1 606.9h0M325.2 620.7h0M400.4 622.9h0M405.7 610.6h0M443.8 611.3h0M422.3 606.7h0M358.1 603.4h0M333.4 634.8h0M313.7 620.7h0M320.8 615.1h0M396.6 607.4h0M333.5 618.6h0M326.2 613.2h0M330.4 609.8h0M350.5 619.6h0M358.3 607.0h0M445.3 603.3h0M314.1 603.5h0M285.4 606.2h0M300.3 613.9h0M352.8 617.9h0M360.3 608.4h0M375.9 610.6h0M319.7 605.0h0M369.4 611.9h0M318.5 621.2h0M313.7 610.6h0M423.5 612.7h0M300.4 612.2h0M401.5 621.3h0M338.4 608.7h0M355.7 605.4h0M290.0 619.2h0M322.2 609.5h0M322.4 634.9h0M340.5 615.3h0M339.3 612.5h0M401.1 605.9h0M394.4 612.2h0M332.7 624.1h0M316.6 622.4h0M326.9 613.9h0M415.6 608.2h0M353.7 606.9h0M316.6 617.4h0M391.8 623.6h0M440.3 614.2h0M358.9 603.3h0M507.3 625.2h0M317.3 613.2h0M307.5 607.1h0M315.2 607.7h0M354.5 619.5h0M375.3 616.9h0M435.2 611.6h0M283.8 624.4h0M357.9 615.9h0M332.1 616.8h0M370.6 606.7h0M331.9 607.4h0M357.5 627.9h0M391.9 607.9h0M298.1 619.4h0M288.2 616.9h0M352.0 612.9h0M316.4 610.8h0M318.9 618.1h0M344.6 607.6h0M328.9 611.5h0M310.4 622.5h0M339.0 603.5h0M316.9 604.0h0M356.0 611.4h0M321.4 605.0h0M377.2 623.1h0M474.9 613.8h0M359.7 611.5h0M383.6 605.5h0M372.0 603.3h0M388.1 606.9h0M347.2 616.7h0M328.4 610.6h0M357.2 618.2h0M522.7 609.7h0M353.1 609.9h0M340.8 611.7h0M375.4 606.7h0M466.0 605.9h0M434.9 605.3h0M354.7 606.2h0M401.5 614.2h0M316.5 606.1h0M337.6 617.3h0M375.0 616.4h0M467.4 633.7h0M382.6 634.6h0M398.5 634.6h0M463.3 633.6h0M442.9 633.8h0M417.5 635.5h0M431.8 634.4h0M440.6 634.5h0M347.7 634.6h0M463.4 633.9h0M465.1 635.0h0M340.0 634.4h0M380.7 633.7h0M450.8 635.3h0M467.7 633.7h0M325.4 633.1h0M342.1 634.5h0M460.8 634.1h0M372.8 634.3h0M406.0 634.6h0M373.7 634.9h0M418.9 634.2h0M365.0 634.5h0M424.7 635.1h0M386.3 633.2h0M447.8 634.7h0M469.2 633.9h0M467.9 634.4h0M403.1 634.8h0M399.7 635.4h0M266.1 597.2h0M245.5 585.3h0M267.5 596.4h0M269.8 600.7h0M236.1 614.4h0M265.5 607.9h0M270.0 591.1h0M265.2 594.4h0M263.3 622.4h0M220.4 616.0h0M268.9 589.8h0M267.3 612.8h0M263.9 606.9h0M258.4 601.4h0M256.9 602.1h0M269.8 598.5h0M269.6 588.4h0M261.0 611.7h0M267.6 612.5h0M270.1 608.9h0M267.8 584.6h0M244.9 608.3h0M268.1 578.2h0M250.2 604.3h0M266.9 593.0h0M270.0 608.1h0M264.6 604.9h0M235.8 609.9h0M254.6 610.3h0M268.9 602.8h0M268.0 608.4h0M261.3 600.8h0M257.7 588.3h0M265.4 577.1h0M268.8 577.4h0M268.3 582.0h0M270.1 593.8h0M266.4 583.9h0M251.0 605.1h0M262.0 592.8h0M270.4 608.0h0M264.8 584.8h0M264.0 620.2h0M264.7 607.7h0M264.6 609.1h0M260.6 607.8h0M261.3 586.7h0M269.5 605.7h0M256.8 595.7h0M266.5 597.0h0M363.3 466.5h0M431.1 568.4h0M315.9 547.1h0M380.5 573.9h0M350.8 490.3h0M290.8 530.4h0M372.6 478.3h0M475.7 563.6h0M370.5 527.8h0M345.8 483.6h0M323.9 467.6h0M396.3 475.8h0M556.0 488.1h0M448.0 524.5h0M374.3 525.9h0M300.4 476.1h0M310.4 565.3h0M401.4 479.0h0M375.9 540.3h0M344.4 473.5h0M477.5 498.4h0M371.1 527.2h0M398.7 492.4h0M337.7 552.0h0M313.1 474.7h0M362.2 501.8h0M278.1 557.1h0M332.4 574.5h0M353.3 574.9h0M431.3 534.3h0M392.7 537.8h0M423.4 493.3h0M373.8 559.1h0M589.4 493.0h0M300.6 507.7h0M389.7 492.2h0M317.8 470.6h0M303.1 511.3h0M481.7 574.9h0M281.4 514.8h0M288.3 524.5h0M512.4 586.9h0M361.5 584.4h0M589.8 527.6h0M366.7 535.8h0M300.8 475.9h0M483.4 548.9h0M300.4 549.1h0M445.6 504.4h0M373.7 559.1h0M456.8 578.2h0M431.1 465.7h0M350.8 570.2h0M337.4 574.6h0M463.1 566.8h0M332.8 469.4h0M366.3 506.1h0M364.5 505.9h0M379.3 541.2h0M478.0 498.5h0M323.0 549.7h0M316.7 537.9h0M308.0 551.5h0M277.0 489.3h0M337.6 509.4h0M342.4 565.6h0M381.1 522.8h0M355.8 558.0h0M454.5 526.2h0M633.1 465.6h0M387.7 551.9h0M406.0 573.9h0M292.2 536.3h0M433.2 569.9h0M312.6 477.9h0M494.4 534.0h0M297.7 491.7h0M314.8 479.9h0M421.2 516.4h0M497.2 475.1h0M287.6 521.9h0M378.4 553.5h0M371.3 576.1h0M322.0 517.0h0M333.1 571.8h0M294.3 516.4h0M330.4 587.6h0M467.4 495.9h0M388.7 509.2h0M456.1 530.1h0M388.6 510.1h0M436.3 467.9h0M350.4 492.4h0M298.1 559.8h0M377.0 529.4h0M325.2 552.4h0M465.9 570.5h0M320.6 494.0h0M351.6 516.7h0M280.5 528.1h0M381.7 500.9h0M434.6 496.9h0M329.0 527.8h0M671.6 578.9h0M458.2 539.5h0M320.5 475.2h0M325.1 580.1h0M315.8 542.5h0M487.2 590.0h0M316.4 543.3h0M305.2 559.2h0M352.3 530.5h0M342.0 545.7h0M476.1 490.7h0M315.6 591.7h0M292.6 561.7h0M338.9 503.8h0M314.1 568.7h0M300.3 549.9h0M471.3 590.9h0M290.4 512.3h0M342.6 534.5h0M335.5 498.9h0M433.7 535.2h0M282.9 560.6h0M480.8 478.0h0M453.6 512.1h0M426.2 493.2h0M282.2 583.6h0M337.6 558.5h0M564.4 470.6h0M364.9 487.6h0M641.5 506.2h0M299.2 561.7h0M405.7 590.1h0M277.0 555.6h0M270.9 589.3h0M415.2 510.3h0M280.7 590.5h0M476.6 517.0h0M438.2 528.3h0M293.0 587.4h0M353.6 514.1h0M452.3 483.8h0M278.2 518.9h0M492.1 577.0h0M393.5 540.2h0M456.0 494.6h0M526.6 585.7h0M517.0 518.1h0M355.2 539.8h0M284.2 557.3h0M389.6 573.0h0M281.1 554.3h0M518.7 558.0h0M407.6 486.4h0M345.8 498.6h0M294.9 544.2h0M311.1 552.1h0M332.8 506.8h0M285.2 542.0h0M492.3 581.2h0M316.7 510.7h0M365.4 551.4h0M345.2 548.9h0M311.8 512.6h0M432.3 482.1h0M267.5 482.9h0M310.8 578.5h0M507.4 552.0h0M543.8 540.3h0M312.2 473.5h0M296.7 526.4h0M412.8 581.8h0M350.3 541.8h0M395.8 472.3h0M355.5 580.3h0M507.0 583.1h0M322.7 574.9h0M429.3 472.1h0M292.4 484.8h0M345.0 534.9h0M399.0 568.3h0M483.8 530.1h0M425.2 562.2h0M478.4 501.9h0M613.8 534.6h0M307.2 526.8h0M369.3 523.6h0M282.5 502.0h0M395.5 551.7h0M378.9 566.3h0M315.2 536.5h0M439.0 522.9h0M332.5 537.8h0M331.7 583.8h0M353.3 525.0h0M324.0 466.5h0M293.7 555.6h0M381.5 491.5h0M395.0 540.9h0M357.8 501.6h0M301.3 572.7h0M503.8 582.2h0M338.5 517.4h0M289.7 479.4h0M471.7 527.5h0M325.4 511.6h0M445.4 504.2h0M317.3 542.5h0M291.6 494.7h0M489.1 467.6h0M311.4 504.3h0M351.8 533.6h0M303.4 465.5h0M427.5 525.8h0M351.4 472.4h0M406.4 579.1h0M283.3 471.9h0M287.8 486.2h0M443.8 554.1h0M484.9 558.3h0M433.1 524.5h0M331.3 545.9h0M330.2 499.7h0M478.5 522.1h0M421.6 582.9h0M518.8 565.5h0M307.2 472.9h0M309.9 503.6h0M516.2 539.8h0M391.8 492.3h0M335.7 563.4h0M460.4 587.6h0M376.3 584.0h0M337.8 551.7h0M370.7 483.6h0M365.3 515.3h0M388.8 546.8h0M363.8 512.6h0M357.5 536.5h0M328.0 562.7h0M394.2 557.0h0M549.3 577.3h0M403.7 575.1h0M362.2 474.6h0M387.3 535.9h0M389.9 509.5h0M435.6 561.5h0M346.5 564.8h0M350.3 577.0h0M419.3 565.3h0M310.7 569.5h0M329.2 537.2h0M305.7 511.8h0M429.8 485.0h0M303.1 480.8h0M326.5 482.7h0M438.3 578.0h0M425.7 535.8h0M333.5 532.3h0M279.9 534.8h0M501.4 529.6h0M323.6 550.1h0M320.6 497.9h0M398.5 476.4h0M354.1 582.2h0M347.9 473.0h0M321.6 475.2h0M539.8 507.8h0M344.0 490.7h0M357.3 549.5h0M399.9 589.1h0M296.4 500.1h0M320.4 538.7h0M293.1 510.8h0M378.1 488.8h0M525.6 577.5h0M346.8 559.9h0M437.6 538.1h0M333.7 499.5h0M324.0 501.0h0M400.1 585.5h0M366.7 541.0h0M317.5 479.9h0M386.4 551.9h0M590.1 481.8h0M576.5 501.1h0M459.1 543.9h0M465.8 487.3h0M302.9 510.6h0M366.1 589.2h0M361.8 470.5h0M338.2 582.9h0M303.5 556.1h0M358.4 504.9h0M308.9 572.0h0M469.5 545.4h0M377.9 501.1h0M282.8 559.3h0M306.1 580.3h0M311.9 492.4h0M326.1 582.6h0M415.2 482.2h0M280.0 468.4h0M394.6 537.1h0M314.4 522.6h0M322.3 534.5h0M319.3 544.5h0M372.5 500.4h0M363.1 576.7h0M389.8 550.7h0M398.9 498.4h0M300.9 567.8h0M410.6 569.3h0M419.3 491.4h0M298.5 473.6h0M299.7 574.7h0M372.2 480.8h0M424.7 539.2h0M306.0 512.6h0M287.0 512.5h0M427.2 532.0h0M406.1 574.1h0M388.1 544.7h0M299.1 556.7h0M469.9 508.4h0M417.6 483.8h0M506.3 517.9h0M410.7 478.2h0M522.4 572.1h0M322.2 486.4h0M392.1 470.8h0M279.0 522.5h0M348.9 579.3h0M434.8 505.5h0M470.7 481.0h0M306.7 545.8h0M407.8 505.4h0M346.4 492.1h0M465.4 491.1h0M385.1 511.5h0M443.6 560.7h0M336.7 567.0h0M288.8 496.0h0M348.4 536.8h0M342.8 490.7h0M321.2 468.8h0M344.8 491.0h0M416.9 553.8h0M274.6 541.8h0M317.3 469.6h0M375.9 546.3h0M329.6 516.0h0M301.3 562.2h0M411.1 529.2h0M481.4 579.2h0M379.2 476.7h0M350.5 552.7h0M479.7 579.8h0M655.0 479.7h0M434.7 493.8h0M458.3 493.0h0M343.7 512.3h0M472.1 499.6h0M606.3 528.5h0M375.0 467.3h0M291.0 473.0h0M309.3 557.3h0M298.4 496.4h0M438.7 480.8h0M310.2 479.9h0M315.1 527.7h0M385.4 471.4h0M379.9 562.9h0M299.9 473.8h0M392.4 500.9h0M317.1 586.5h0M357.6 533.8h0M396.7 531.9h0M315.3 555.9h0M434.3 503.1h0M428.2 468.1h0M299.8 536.7h0M483.9 470.8h0M427.1 492.3h0M353.4 486.0h0M472.1 491.2h0M402.6 584.7h0M321.6 548.5h0M378.8 490.7h0M451.7 477.4h0M383.5 478.4h0M475.3 508.5h0M358.2 489.5h0M423.1 585.0h0M484.1 509.1h0M391.6 466.3h0M347.5 554.8h0M533.2 550.6h0M277.3 513.1h0M400.3 580.3h0M308.9 507.1h0M428.6 554.2h0M386.8 485.6h0M378.9 511.7h0M388.3 476.6h0M468.7 522.1h0M348.1 499.9h0M342.4 569.8h0M622.2 573.6h0M302.3 590.0h0M342.9 477.7h0M424.9 486.7h0M358.2 483.3h0M410.1 487.5h0M291.3 555.3h0M531.2 514.4h0M364.3 474.8h0M368.7 532.0h0M378.4 534.8h0M351.8 492.6h0M327.2 581.9h0M354.4 591.2h0M309.2 469.6h0M342.3 486.8h0M368.4 584.1h0M311.7 466.1h0M414.0 503.7h0M288.9 518.5h0M311.3 480.3h0M378.7 478.1h0M350.1 565.4h0M378.2 523.7h0M387.9 579.6h0M345.6 525.1h0M405.9 550.0h0M334.6 516.9h0M343.4 493.4h0M299.1 516.8h0M358.8 577.7h0M301.4 465.3h0M356.2 570.8h0M356.1 483.0h0M341.2 569.8h0M413.3 558.7h0M394.3 502.3h0M334.7 536.7h0M327.4 506.7h0M384.0 558.2h0M324.3 587.4h0M374.7 505.3h0M344.1 560.6h0M333.3 552.4h0M365.9 579.4h0M305.0 570.3h0M352.7 561.8h0M407.1 519.7h0M349.8 480.5h0M337.4 578.8h0M339.2 577.0h0M337.2 533.4h0M329.3 561.0h0M296.3 528.8h0M259.3 522.9h0M314.7 560.8h0M307.4 521.1h0M334.0 518.0h0M360.8 574.7h0M356.2 497.3h0M363.8 558.5h0M357.0 515.8h0M350.3 509.9h0M398.7 518.8h0M400.7 492.3h0M352.4 562.2h0M358.0 479.9h0M361.8 508.1h0M334.6 559.0h0M382.9 589.9h0M336.7 469.0h0M348.5 518.4h0M283.5 488.3h0M324.4 524.4h0M317.7 513.5h0M329.2 573.8h0M425.4 549.7h0M336.8 520.7h0M288.0 519.8h0M358.3 494.0h0M403.2 473.3h0M337.7 572.5h0M370.3 526.3h0M391.3 529.4h0M329.6 485.2h0M336.7 488.7h0M359.9 562.8h0M303.2 547.4h0M315.6 528.1h0M323.3 545.2h0M317.9 505.6h0M404.9 476.0h0M332.9 529.7h0M381.5 520.3h0M284.2 579.9h0M368.9 512.9h0M309.9 546.0h0M366.1 524.2h0M370.2 515.0h0M360.9 476.6h0M315.6 516.3h0M336.5 533.9h0M331.9 519.5h0M393.6 576.4h0M372.9 481.3h0M294.9 478.5h0M369.3 513.6h0M384.0 554.6h0M334.4 531.6h0M396.9 546.2h0M321.1 539.8h0M367.2 515.3h0M328.1 467.4h0M346.4 582.4h0M390.2 562.9h0M320.7 530.3h0M339.4 591.0h0M356.5 540.1h0M359.4 548.8h0M291.5 589.9h0M316.7 589.1h0M368.3 515.7h0M377.1 532.7h0M394.1 491.4h0M359.0 543.5h0M406.6 565.8h0M308.8 511.8h0M388.1 478.1h0M356.1 516.0h0M422.1 587.7h0M378.0 493.6h0M321.3 497.2h0M378.7 557.3h0M368.3 506.0h0M341.1 547.1h0M343.8 556.8h0M323.2 472.8h0M370.2 470.1h0M328.6 538.6h0M353.8 571.2h0M342.0 566.2h0M399.2 504.9h0M382.4 507.1h0M323.8 549.7h0M303.6 542.2h0M323.9 575.2h0M377.9 570.9h0M358.6 560.1h0M328.2 557.4h0M348.8 556.3h0M369.3 568.3h0M359.8 524.6h0M414.2 557.9h0M342.4 586.1h0M307.7 543.1h0M349.3 488.3h0M332.3 470.3h0M327.6 561.4h0M413.1 503.9h0M336.2 506.8h0M334.1 531.1h0M363.3 556.6h0M304.4 476.4h0M283.9 494.0h0M348.2 554.5h0M316.4 509.9h0M276.4 504.3h0M337.6 471.7h0M344.2 517.8h0M316.9 469.8h0M378.4 474.1h0M280.7 583.4h0M342.6 579.2h0M345.8 568.9h0M329.7 582.8h0M309.3 533.0h0M363.4 569.8h0M364.3 586.2h0M331.2 473.8h0M302.1 574.2h0M301.7 470.0h0M310.2 565.7h0M344.9 507.3h0M368.7 510.7h0M326.2 495.0h0M336.8 560.6h0M363.9 550.1h0M329.1 483.4h0M317.2 543.9h0M381.0 487.3h0M376.6 565.4h0M322.3 513.1h0M314.3 517.8h0M406.7 549.0h0M339.6 471.5h0M311.0 465.5h0M366.9 487.0h0M363.6 501.8h0M324.6 504.9h0M344.4 473.5h0M395.9 493.7h0M339.7 563.0h0M265.1 528.5h0M343.2 479.9h0M313.9 488.0h0M368.3 513.8h0M309.1 493.6h0M314.2 474.0h0M364.2 535.5h0M324.7 517.8h0M440.4 565.0h0M321.1 478.6h0M369.7 544.8h0M379.4 540.8h0M351.7 515.2h0M360.5 583.5h0M297.3 579.5h0M306.6 587.3h0M409.1 524.7h0M391.2 542.8h0M284.6 557.2h0M310.0 563.8h0M297.6 469.5h0M352.6 475.0h0M339.6 536.7h0M296.2 538.0h0M345.4 555.6h0M285.5 517.1h0M368.7 575.5h0M432.1 555.4h0M390.3 478.7h0M301.7 550.7h0M336.6 494.3h0M318.7 575.8h0M341.0 522.6h0M362.5 574.5h0M353.2 561.0h0M301.2 508.7h0M404.0 487.6h0M348.4 555.2h0M389.3 527.9h0M399.8 589.2h0M366.1 535.6h0M414.9 592.6h0M309.1 570.5h0M403.2 541.0h0M329.6 571.6h0M314.1 569.7h0M457.5 519.5h0M314.1 569.1h0M405.5 513.9h0M399.1 569.8h0M329.6 593.2h0M352.3 593.4h0M400.7 496.7h0M362.3 592.0h0M392.8 573.8h0M356.7 560.8h0M307.9 544.7h0M308.9 547.8h0M338.3 550.1h0M378.4 593.9h0M362.9 555.6h0M365.1 538.0h0M316.1 547.0h0M322.8 551.9h0M385.8 494.7h0M398.5 535.3h0M320.5 555.1h0M310.1 578.1h0M345.6 581.3h0M276.2 580.9h0M417.1 581.7h0M400.0 567.6h0M330.2 569.7h0M382.7 537.0h0M342.9 549.7h0M356.1 593.6h0M319.1 586.1h0M327.9 538.7h0M382.9 556.0h0M321.4 482.6h0M352.6 592.8h0M356.8 579.9h0M276.8 571.3h0M333.7 582.6h0M287.0 561.2h0M336.0 592.9h0M331.3 576.6h0M364.7 565.1h0M322.0 587.3h0M409.2 575.4h0M388.6 586.3h0M399.8 591.8h0M394.1 579.2h0M391.7 591.2h0M412.0 594.0h0M423.9 516.0h0M353.8 556.8h0M369.1 588.6h0M352.6 531.5h0M376.3 585.1h0M336.6 566.9h0M319.3 572.2h0M399.5 582.7h0M313.6 555.6h0M380.3 545.7h0M305.8 523.0h0M390.9 587.7h0M409.6 588.9h0M337.7 555.6h0M474.6 587.7h0M363.3 578.3h0M337.9 588.5h0M285.5 539.3h0M382.3 586.7h0M303.1 575.9h0M324.8 546.1h0M456.8 579.2h0M366.5 574.6h0M437.3 571.7h0M406.5 545.9h0M372.5 511.0h0M354.1 576.6h0M364.3 586.9h0M290.7 591.6h0M301.7 538.9h0M360.1 591.7h0M302.8 586.1h0M366.4 579.3h0M406.1 575.8h0M384.6 500.2h0M455.7 586.5h0M348.7 543.4h0M395.8 584.1h0M304.9 569.0h0M350.5 593.6h0M360.0 587.1h0M394.3 590.1h0M421.6 502.3h0M313.4 590.0h0M378.5 583.8h0M306.6 498.0h0M269.3 539.9h0M363.1 581.1h0M366.6 498.2h0M326.3 550.1h0M328.6 576.4h0M411.1 592.6h0M336.4 577.0h0M352.0 591.7h0M351.1 593.7h0M349.5 565.0h0M316.0 577.1h0M358.3 471.2h0M320.7 581.5h0M319.9 592.3h0M303.6 592.4h0M374.5 576.9h0M423.0 526.1h0M383.0 567.0h0M357.0 547.4h0M332.5 588.8h0M346.3 592.1h0M396.5 554.9h0M409.1 523.4h0M377.4 583.9h0M336.3 551.1h0M349.7 540.5h0M309.0 557.4h0M390.3 584.3h0M413.5 580.6h0M348.3 551.3h0M359.3 552.5h0M425.7 587.6h0M410.3 534.6h0M266.5 586.3h0M450.4 584.4h0M347.0 549.6h0M413.3 580.6h0M365.6 507.7h0M284.3 509.6h0M342.6 584.1h0M456.5 556.1h0M272.1 525.4h0M450.4 546.3h0M406.0 570.8h0M352.9 586.2h0M324.2 524.6h0M396.8 560.4h0M380.2 585.7h0M398.1 578.3h0M387.8 503.8h0M407.7 513.0h0M329.4 585.9h0M371.4 562.8h0M345.2 580.1h0M310.8 550.8h0M347.4 567.5h0M431.3 593.7h0M313.3 582.3h0M291.5 589.8h0M384.5 541.7h0M315.6 528.1h0M318.8 558.9h0M378.3 562.5h0M459.8 575.3h0M333.5 529.1h0M372.9 546.3h0M313.0 519.8h0M289.2 568.7h0M353.9 559.2h0M400.5 537.2h0M365.8 587.8h0M326.0 571.4h0M358.5 593.9h0M345.0 584.7h0M410.2 568.9h0M379.1 497.9h0M355.2 560.7h0M330.6 585.1h0M401.1 541.0h0M349.6 537.4h0M340.0 576.9h0M391.3 557.2h0M387.1 585.3h0M316.4 578.3h0M335.6 591.8h0M319.1 551.3h0M359.9 591.1h0M419.8 577.6h0M412.1 586.7h0M355.8 580.0h0M317.6 548.1h0M307.4 586.1h0M306.2 588.0h0M436.2 520.2h0M291.7 589.6h0M353.8 593.8h0M379.0 592.3h0M412.8 589.9h0M306.3 586.3h0M327.9 500.1h0M389.7 576.5h0M277.6 574.7h0M343.3 590.9h0M411.4 578.6h0M379.3 518.0h0M347.0 578.2h0M346.1 586.8h0M366.9 570.5h0M366.4 499.0h0M334.2 559.0h0M418.4 539.6h0M324.0 577.1h0M370.7 530.0h0M345.6 571.2h0M356.6 522.6h0M391.8 551.7h0M297.9 593.6h0M366.5 582.9h0M351.0 563.4h0M346.1 582.4h0M373.4 590.2h0M306.3 569.4h0M324.3 549.1h0M338.9 537.4h0M393.6 577.4h0M351.3 581.7h0M401.3 508.7h0M369.8 575.4h0M332.8 564.9h0M357.1 571.9h0M318.0 490.5h0M431.4 533.8h0M291.5 544.1h0M480.3 533.6h0M354.2 540.4h0M316.5 591.8h0M364.7 560.4h0M384.9 579.8h0M365.4 563.9h0M395.8 550.0h0M325.7 518.2h0M314.9 527.2h0M284.6 586.4h0M313.0 588.7h0M383.4 538.4h0M313.4 498.4h0M375.0 483.1h0M424.9 498.0h0M309.6 578.9h0M436.3 549.4h0M315.7 566.9h0M381.1 528.0h0M330.1 564.1h0M328.7 503.9h0M407.1 580.2h0M407.5 577.8h0M301.6 576.3h0M284.7 576.5h0M370.2 520.6h0M392.7 506.3h0M428.7 510.9h0M315.6 591.4h0M370.7 573.8h0M405.6 551.6h0M415.5 542.4h0M328.9 527.5h0M429.5 580.1h0M322.3 554.6h0M299.4 579.0h0M448.0 554.9h0M356.3 574.3h0M378.9 476.5h0M331.7 569.4h0M315.0 480.4h0M403.9 564.7h0M375.0 534.5h0M427.7 543.3h0M351.0 583.5h0M399.4 577.9h0M392.1 563.1h0M388.9 514.5h0M364.3 488.4h0M365.9 541.2h0M296.0 554.1h0M423.5 531.8h0M466.2 560.7h0M400.0 584.4h0M379.9 582.9h0M448.1 538.1h0M345.4 587.9h0M321.8 516.4h0M353.8 592.4h0M363.5 521.9h0M367.0 582.1h0M334.2 580.9h0M384.3 591.8h0M377.4 570.4h0M428.9 578.2h0M403.2 588.9h0M347.3 556.7h0M381.3 587.3h0M389.5 482.9h0M270.3 557.7h0M366.1 565.0h0M367.1 501.5h0M435.8 530.8h0M411.2 585.9h0M328.8 577.9h0M341.2 573.8h0M282.7 567.3h0M396.9 553.1h0M432.8 570.0h0M323.7 480.3h0M293.9 536.8h0M362.2 570.3h0M415.5 516.5h0M327.6 568.3h0M439.4 538.1h0M387.6 582.2h0M380.3 588.7h0M371.8 585.6h0M306.4 550.9h0M299.5 592.1h0M377.9 592.8h0M353.3 579.7h0M327.8 494.5h0M353.5 578.3h0M347.3 586.0h0M423.1 507.7h0M413.1 554.0h0M330.4 583.6h0M386.0 567.6h0M393.0 526.9h0M376.1 546.5h0M360.5 592.3h0M308.7 511.7h0M355.3 573.7h0M371.5 533.0h0M436.2 581.2h0M367.5 567.6h0M369.6 577.7h0M359.7 551.7h0M414.1 593.7h0M337.9 555.9h0M347.0 549.3h0M323.8 560.9h0M378.4 568.0h0M399.8 558.1h0M346.0 581.1h0M380.8 529.9h0M314.5 582.0h0M410.4 560.4h0M360.7 578.7h0M300.0 485.1h0M399.0 567.8h0M564.7 373.5h0M629.0 539.6h0M506.2 527.0h0M502.6 586.1h0M619.8 602.4h0M527.7 577.9h0M596.3 624.6h0M544.2 551.8h0M542.6 505.9h0M575.5 385.3h0M516.2 464.0h0M555.9 532.7h0M553.0 565.6h0M548.2 579.1h0M645.8 563.3h0M507.4 449.6h0M625.4 432.7h0M525.9 410.7h0M544.5 430.3h0M582.3 496.6h0M593.6 420.7h0M531.1 398.1h0M507.3 555.8h0M562.3 462.1h0M604.2 375.5h0M682.0 520.5h0M623.7 476.4h0M580.2 370.7h0M658.3 600.3h0M539.8 370.2h0M524.1 509.5h0M564.5 509.4h0M546.6 564.8h0M634.3 591.5h0M600.5 512.9h0M611.8 485.6h0M618.8 442.4h0M552.9 618.9h0M586.0 379.7h0M564.3 467.2h0M581.3 356.7h0M519.8 560.9h0M551.8 594.0h0M553.7 357.0h0M526.8 345.6h0M553.3 345.6h0M550.7 622.4h0M500.9 476.4h0M519.0 392.7h0M514.4 585.7h0M564.0 379.3h0M535.9 572.6h0M546.4 384.1h0M534.6 478.7h0M543.1 595.8h0M658.8 526.2h0M599.3 374.8h0M566.0 453.9h0M624.5 617.2h0M536.5 462.4h0M521.2 497.9h0M616.8 604.4h0M584.4 562.3h0M507.4 565.8h0M663.1 394.7h0M521.2 538.4h0M529.4 365.4h0M548.8 505.0h0M516.9 501.7h0M544.9 558.4h0M549.3 614.1h0M586.2 563.3h0M543.4 348.2h0M528.8 475.0h0M629.5 615.8h0M551.0 539.6h0M520.1 605.0h0M517.7 541.4h0M509.7 567.3h0M598.2 479.4h0M582.3 533.1h0M540.4 545.8h0M609.7 477.9h0M534.6 363.0h0M547.7 476.5h0M531.2 359.0h0M554.2 413.8h0M551.1 588.2h0M518.8 587.3h0M567.2 596.8h0M532.0 469.1h0M529.3 378.0h0M524.3 542.5h0M598.5 549.8h0M511.1 477.5h0M532.2 363.5h0M515.2 621.6h0M553.1 579.5h0M604.4 419.8h0M551.4 588.8h0M506.4 617.1h0M536.7 518.6h0M511.3 505.2h0M561.9 506.7h0M612.6 529.5h0M526.8 407.9h0M654.4 417.4h0M566.0 444.2h0M650.6 416.2h0M505.8 552.2h0M504.6 379.1h0M601.3 426.0h0M589.5 484.5h0M561.1 468.3h0M688.6 586.7h0M632.0 578.2h0M560.9 395.9h0M551.8 515.0h0M614.2 500.4h0M693.1 550.7h0M512.9 571.7h0M505.1 459.2h0M582.3 571.9h0M532.5 409.7h0M511.6 611.2h0M500.4 621.4h0M524.5 484.2h0M524.7 566.0h0M593.3 507.8h0M534.9 472.5h0M569.3 572.8h0M509.9 481.6h0M616.4 371.4h0M500.7 567.3h0M518.3 534.1h0M580.1 367.8h0M520.5 612.1h0M544.9 568.7h0M507.4 490.0h0M520.3 477.8h0M542.7 517.5h0M530.5 448.2h0M635.7 508.2h0M505.7 589.7h0M619.0 484.6h0M561.0 443.1h0M531.5 450.1h0M515.8 537.3h0M570.4 544.8h0M504.4 455.9h0M549.4 529.4h0M504.9 560.1h0M576.7 365.6h0M514.3 535.6h0M506.2 393.4h0M575.4 610.2h0M674.1 600.1h0M708.1 604.8h0M700.0 607.2h0M661.9 605.3h0M652.5 610.4h0M673.0 607.6h0M639.9 601.6h0M602.6 606.7h0M700.8 595.0h0M669.2 601.9h0M598.4 610.4h0M682.2 604.8h0M728.1 601.1h0M704.2 603.6h0M723.9 608.3h0M572.5 611.1h0M696.9 601.2h0M747.0 598.5h0M777.0 591.5h0M795.5 592.0h0M787.0 608.5h0M786.0 607.0h0M805.0 611.0h0M819.5 610.0h0M830.0 607.0h0M855.5 607.0h0M884.5 611.0h0M791.0 626.0h0M807.0 635.0h0M728.5 578.0h0M721.0 620.5h0M736.0 620.0h0M706.0 569.0h0M697.0 553.0h0M746.0 554.0h0" stroke="#8BA7DC" stroke-width="1.7" stroke-linecap="round" fill="none"/>
<path d="M460.8 398.6h0M547.7 400.1h0M472.3 435.5h0M547.7 431.8h0M404.4 467.9h0M483.3 533.0h0M453.4 580.3h0M396.4 592.6h0M387.0 601.8h0M547.7 603.4h0M730.4 540.0h0M719.3 573.0h0M733.8 604.7h0M765.8 607.1h0M895.0 613.9h0" stroke="#8BA7DC" stroke-width="1.7" stroke-linecap="round" fill="none"/>
<circle cx="460.8" cy="398.6" r="5.3" fill="none" stroke="#2A5BB5" stroke-width="1.5"/>
<circle cx="547.7" cy="400.1" r="5.3" fill="none" stroke="#2A5BB5" stroke-width="1.5"/>
<circle cx="472.3" cy="435.5" r="5.3" fill="none" stroke="#2A5BB5" stroke-width="1.5"/>
<circle cx="547.7" cy="431.8" r="5.3" fill="none" stroke="#2A5BB5" stroke-width="1.5"/>
<circle cx="404.4" cy="467.9" r="5.3" fill="none" stroke="#2A5BB5" stroke-width="1.5"/>
<circle cx="483.3" cy="533.0" r="5.3" fill="none" stroke="#2A5BB5" stroke-width="1.5"/>
<circle cx="453.4" cy="580.3" r="5.3" fill="none" stroke="#2A5BB5" stroke-width="1.5"/>
<circle cx="396.4" cy="592.6" r="5.3" fill="none" stroke="#2A5BB5" stroke-width="1.5"/>
<circle cx="387.0" cy="601.8" r="5.3" fill="none" stroke="#2A5BB5" stroke-width="1.5"/>
<circle cx="547.7" cy="603.4" r="5.3" fill="none" stroke="#2A5BB5" stroke-width="1.5"/>
<circle cx="730.4" cy="540.0" r="5.3" fill="none" stroke="#2A5BB5" stroke-width="1.5"/>
<circle cx="719.3" cy="573.0" r="5.3" fill="none" stroke="#2A5BB5" stroke-width="1.5"/>
<circle cx="733.8" cy="604.7" r="5.3" fill="none" stroke="#2A5BB5" stroke-width="1.5"/>
<circle cx="765.8" cy="607.1" r="5.3" fill="none" stroke="#2A5BB5" stroke-width="1.5"/>
<circle cx="895.0" cy="613.9" r="5.3" fill="none" stroke="#2A5BB5" stroke-width="1.5"/>
<line x1="86.5" y1="73.2" x2="86.5" y2="657.9" stroke="#BFBFBF" stroke-width="1"/>
<line x1="86" y1="657.5" x2="918" y2="657.5" stroke="#BFBFBF" stroke-width="1"/>
<line x1="917.5" y1="73.2" x2="917.5" y2="657.9" stroke="#BFBFBF" stroke-width="1"/>
<line x1="917.5" y1="657.5" x2="921.5" y2="657.5" stroke="#BFBFBF" stroke-width="1"/>
<line x1="917.5" y1="598.5" x2="921.5" y2="598.5" stroke="#BFBFBF" stroke-width="1"/>
<line x1="917.5" y1="540.5" x2="921.5" y2="540.5" stroke="#BFBFBF" stroke-width="1"/>
<line x1="917.5" y1="482.5" x2="921.5" y2="482.5" stroke="#BFBFBF" stroke-width="1"/>
<line x1="917.5" y1="423.5" x2="921.5" y2="423.5" stroke="#BFBFBF" stroke-width="1"/>
<line x1="917.5" y1="365.5" x2="921.5" y2="365.5" stroke="#BFBFBF" stroke-width="1"/>
<line x1="917.5" y1="306.5" x2="921.5" y2="306.5" stroke="#BFBFBF" stroke-width="1"/>
<line x1="917.5" y1="248.5" x2="921.5" y2="248.5" stroke="#BFBFBF" stroke-width="1"/>
<line x1="917.5" y1="190.5" x2="921.5" y2="190.5" stroke="#BFBFBF" stroke-width="1"/>
<line x1="917.5" y1="131.5" x2="921.5" y2="131.5" stroke="#BFBFBF" stroke-width="1"/>
<line x1="917.5" y1="73.5" x2="921.5" y2="73.5" stroke="#BFBFBF" stroke-width="1"/>
<text x="75" y="661.7" font-size="12" fill="#505050" text-anchor="end" textLength="6.4" lengthAdjust="spacingAndGlyphs">0</text>
<text x="75" y="544.9" font-size="12" fill="#505050" text-anchor="end" textLength="28.0" lengthAdjust="spacingAndGlyphs">1'000</text>
<text x="75" y="428.0" font-size="12" fill="#505050" text-anchor="end" textLength="28.0" lengthAdjust="spacingAndGlyphs">2'000</text>
<text x="75" y="311.2" font-size="12" fill="#505050" text-anchor="end" textLength="28.0" lengthAdjust="spacingAndGlyphs">3'000</text>
<text x="75" y="194.3" font-size="12" fill="#505050" text-anchor="end" textLength="28.0" lengthAdjust="spacingAndGlyphs">4'000</text>
<text x="75" y="77.5" font-size="12" fill="#505050" text-anchor="end" textLength="28.0" lengthAdjust="spacingAndGlyphs">5'000</text>
<text x="929.3" y="661.7" font-size="12" fill="#505050" textLength="6.4" lengthAdjust="spacingAndGlyphs">0</text>
<text x="929.3" y="603.3" font-size="12" fill="#505050" textLength="12.9" lengthAdjust="spacingAndGlyphs">10</text>
<text x="929.3" y="544.9" font-size="12" fill="#505050" textLength="12.9" lengthAdjust="spacingAndGlyphs">20</text>
<text x="929.3" y="486.4" font-size="12" fill="#505050" textLength="12.9" lengthAdjust="spacingAndGlyphs">30</text>
<text x="929.3" y="428.0" font-size="12" fill="#505050" textLength="12.9" lengthAdjust="spacingAndGlyphs">40</text>
<text x="929.3" y="369.6" font-size="12" fill="#505050" textLength="12.9" lengthAdjust="spacingAndGlyphs">50</text>
<text x="929.3" y="311.2" font-size="12" fill="#505050" textLength="12.9" lengthAdjust="spacingAndGlyphs">60</text>
<text x="929.3" y="252.8" font-size="12" fill="#505050" textLength="12.9" lengthAdjust="spacingAndGlyphs">70</text>
<text x="929.3" y="194.3" font-size="12" fill="#505050" textLength="12.9" lengthAdjust="spacingAndGlyphs">80</text>
<text x="929.3" y="135.9" font-size="12" fill="#505050" textLength="12.9" lengthAdjust="spacingAndGlyphs">90</text>
<text x="929.3" y="77.5" font-size="12" fill="#505050" textLength="19.3" lengthAdjust="spacingAndGlyphs">100</text>
<text transform="translate(91.0,666) rotate(-90)" font-size="12" fill="#505050" text-anchor="end" textLength="6.4" lengthAdjust="spacingAndGlyphs">1</text>
<text transform="translate(183.4,666) rotate(-90)" font-size="12" fill="#505050" text-anchor="end" textLength="12.9" lengthAdjust="spacingAndGlyphs">10</text>
<text transform="translate(275.7,666) rotate(-90)" font-size="12" fill="#505050" text-anchor="end" textLength="19.3" lengthAdjust="spacingAndGlyphs">100</text>
<text transform="translate(368.1,666) rotate(-90)" font-size="12" fill="#505050" text-anchor="end" textLength="28.0" lengthAdjust="spacingAndGlyphs">1'000</text>
<text transform="translate(460.4,666) rotate(-90)" font-size="12" fill="#505050" text-anchor="end" textLength="34.4" lengthAdjust="spacingAndGlyphs">10'000</text>
<text transform="translate(552.8,666) rotate(-90)" font-size="12" fill="#505050" text-anchor="end" textLength="40.9" lengthAdjust="spacingAndGlyphs">100'000</text>
<text transform="translate(645.2,666) rotate(-90)" font-size="12" fill="#505050" text-anchor="end" textLength="49.5" lengthAdjust="spacingAndGlyphs">1'000'000</text>
<text transform="translate(737.5,666) rotate(-90)" font-size="12" fill="#505050" text-anchor="end" textLength="55.9" lengthAdjust="spacingAndGlyphs">10'000'000</text>
<text transform="translate(829.9,666) rotate(-90)" font-size="12" fill="#505050" text-anchor="end" textLength="62.4" lengthAdjust="spacingAndGlyphs">100'000'000</text>
<text transform="translate(922.2,666) rotate(-90)" font-size="12" fill="#505050" text-anchor="end" textLength="71.0" lengthAdjust="spacingAndGlyphs">1'000'000'000</text>
<text x="199.3" y="40.4" font-size="19" fill="#1a1a1a" textLength="330.6" lengthAdjust="spacingAndGlyphs">Selected lakes for the FOEN pilot project</text>
<text transform="translate(23.8,421.5) rotate(-90)" font-size="11.3" font-weight="bold" fill="#000" textLength="96.6" lengthAdjust="spacingAndGlyphs">Elevation [m a.s.l.]</text>
<rect x="950" y="281.5" width="20.2" height="167" fill="#FEF6E2"/>
<text transform="translate(964,444.3) rotate(-90)" font-size="11.3" font-weight="bold" fill="#000" textLength="158" lengthAdjust="spacingAndGlyphs">Percentage of lake surface [%]</text>
<text x="451.7" y="752.2" font-size="11.3" font-weight="bold" fill="#000" textLength="49" lengthAdjust="spacingAndGlyphs">Area [m²]</text>
<rect x="172" y="85" width="7" height="7" fill="#FDEEC9"/>
<circle cx="175.5" cy="115" r="0.7" fill="#8FAADC"/>
<circle cx="175.3" cy="141.6" r="3.7" fill="none" stroke="#8FA4DE" stroke-width="1"/>
<text x="182.5" y="92.2" font-size="11.7" fill="#404040" textLength="150.4" lengthAdjust="spacingAndGlyphs">Percentage of lake size (area)</text>
<text x="182.5" y="119" font-size="11.7" fill="#404040" textLength="343.5" lengthAdjust="spacingAndGlyphs">Swiss water bodies with a size of more than 30 m2, approx. 11’000</text>
<text x="182.5" y="145.3" font-size="11.7" fill="#404040" textLength="171.5" lengthAdjust="spacingAndGlyphs">Selected lakes, small lakes, ponds</text>
<text x="100.5" y="374.8" font-size="12.0" fill="#7F7F7F" textLength="106.5" lengthAdjust="spacingAndGlyphs">Oberes Bänzlauiseeli</text>
<text x="93.3" y="412.0" font-size="12.0" fill="#7F7F7F" textLength="65.9" lengthAdjust="spacingAndGlyphs">Meiefallseeli</text>
<text x="92.9" y="449.7" font-size="12.0" fill="#7F7F7F" textLength="59.9" lengthAdjust="spacingAndGlyphs">Stockseewli</text>
<text x="96.0" y="508.7" font-size="12.0" fill="#7F7F7F" textLength="57.6" lengthAdjust="spacingAndGlyphs">Lenkerseeli</text>
<text x="102.6" y="557.0" font-size="12.0" fill="#7F7F7F" textLength="44.0" lengthAdjust="spacingAndGlyphs">Geistsee</text>
<text x="112.7" y="591.1" font-size="12.0" fill="#7F7F7F" textLength="62.3" lengthAdjust="spacingAndGlyphs">Waldweiher</text>
<text x="113.7" y="621.0" font-size="12.0" fill="#7F7F7F" textLength="55.5" lengthAdjust="spacingAndGlyphs">Weiherhus</text>
<text x="145.5" y="644.6" font-size="12.0" fill="#7F7F7F" textLength="59.1" lengthAdjust="spacingAndGlyphs">Inkwilersee</text>
<text x="646.7" y="339.1" font-size="10.3" fill="#A0A0A0" textLength="105.1" lengthAdjust="spacingAndGlyphs">Rhonesee (glacial lake)</text>
<text x="659.0" y="366.0" font-size="10.3" fill="#A0A0A0" textLength="92.8" lengthAdjust="spacingAndGlyphs">Steisee (glacial lake)</text>
<text x="768.9" y="495.3" font-size="12.0" fill="#7F7F7F" textLength="57.7" lengthAdjust="spacingAndGlyphs">Lac de Joux</text>
<text x="782.1" y="529.4" font-size="12.0" fill="#7F7F7F" textLength="44.1" lengthAdjust="spacingAndGlyphs">Ägerisee</text>
<text x="783.3" y="554.2" font-size="12.0" fill="#7F7F7F" textLength="63.1" lengthAdjust="spacingAndGlyphs">Hallwilersee</text>
<text x="796.1" y="578.3" font-size="12.0" fill="#7F7F7F" textLength="55.8" lengthAdjust="spacingAndGlyphs">Murtensee</text>
<text x="803.8" y="648.5" font-size="12.0" fill="#7F7F7F" textLength="53.4" lengthAdjust="spacingAndGlyphs">Lac Léman</text>
<rect x="0" y="0" width="1024" height="1" fill="#D6D6D6"/><rect x="0" y="0" width="1" height="790" fill="#C9C9C9"/><rect x="1023" y="0" width="1" height="790" fill="#C4C4C4"/><rect x="0" y="789" width="1024" height="1" fill="#C4C4C4"/>
</g></svg></body></html>
